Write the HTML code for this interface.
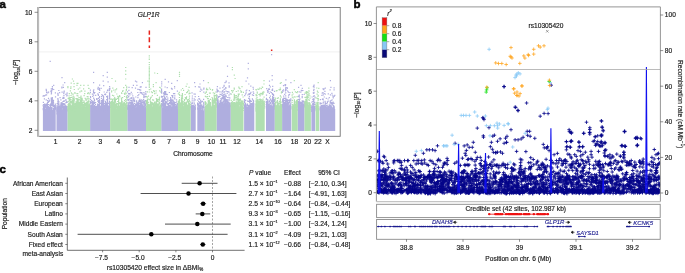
<!DOCTYPE html>
<html><head><meta charset="utf-8"><style>html,body{margin:0;padding:0;background:#fff;width:685px;height:273px;overflow:hidden}svg{display:block;will-change:transform}</style></head>
<body><svg width="685" height="273" viewBox="0 0 685 273">
<rect width="685" height="273" fill="#fff"/>
<g fill="#1a1a1a"><path fill="#afaedf" d="M42.9 131.0L42.9 107.8L43.5 106.7L44.1 107.8L44.7 107.9L45.3 108.8L45.9 107.8L46.6 105.8L47.2 106.8L47.8 105.9L48.4 107.1L49.0 106.9L49.6 107.2L50.2 109.9L50.8 106.2L51.4 106.7L52.0 106.7L52.7 109.9L53.3 110.0L53.9 108.7L54.5 108.1L55.1 107.0L55.7 107.5L55.7 131.0ZM56.5 131.0L56.5 106.1L57.1 109.0L57.7 107.1L58.4 105.1L59.0 105.3L59.6 106.2L60.2 103.6L60.8 107.2L61.4 107.5L62.0 110.1L62.7 106.7L63.3 105.9L63.9 107.8L64.5 107.6L65.1 106.4L65.8 106.5L66.4 107.8L67.0 108.1L67.6 107.8L67.6 131.0ZM90.1 131.0L90.1 106.2L90.7 105.3L91.3 105.1L91.9 103.8L92.5 105.1L93.1 106.7L93.7 106.2L94.3 105.2L94.9 106.8L95.6 106.7L96.2 105.5L96.8 106.3L97.4 103.2L98.0 106.4L98.6 105.2L99.2 107.3L99.8 105.9L100.4 105.4L101.0 106.4L101.6 105.5L102.2 106.0L102.8 104.2L103.4 107.3L104.0 105.6L104.6 104.3L105.3 106.2L105.9 104.9L106.5 105.5L107.1 104.6L107.7 100.8L108.3 106.3L108.9 105.4L109.5 106.3L110.1 106.7L110.1 131.0ZM127.3 131.0L127.3 104.3L127.9 108.2L128.5 104.9L129.1 106.7L129.7 106.3L130.3 104.5L130.9 104.8L131.5 105.6L132.1 102.1L132.7 104.6L133.3 106.1L133.9 104.9L134.5 105.4L135.1 108.4L135.7 107.5L136.3 107.2L137.0 102.3L137.6 105.5L138.2 105.6L138.8 106.0L139.4 103.8L140.0 105.2L140.6 102.8L141.2 104.1L141.8 102.9L142.4 105.4L143.0 104.7L143.6 105.8L144.2 105.5L144.8 107.7L145.4 106.1L146.0 106.6L146.0 131.0ZM161.2 131.0L161.2 103.6L161.8 104.0L162.4 105.5L163.0 108.1L163.6 105.0L164.2 106.5L164.8 105.7L165.4 108.7L166.0 106.4L166.6 105.6L167.2 107.3L167.8 105.5L168.4 103.6L169.0 105.6L169.6 106.9L170.2 102.5L170.8 109.1L171.4 107.3L172.0 105.4L172.6 106.8L173.2 109.3L173.8 105.6L174.4 104.8L175.0 107.1L175.6 103.9L176.2 105.2L176.8 104.3L177.4 108.2L178.0 106.0L178.0 131.0ZM190.7 131.0L190.7 106.1L191.3 105.2L191.9 106.9L192.6 107.3L193.2 107.1L193.8 107.3L194.4 108.8L195.1 106.4L195.7 106.9L195.7 131.0ZM197.3 131.0L197.3 108.0L197.9 107.4L198.6 107.4L199.2 104.3L199.8 107.7L200.4 107.6L201.1 110.0L201.7 107.6L202.3 109.7L202.9 108.0L203.6 110.9L204.2 108.6L204.8 105.1L204.8 131.0ZM216.6 131.0L216.6 104.1L217.2 103.0L217.8 105.8L218.5 105.3L219.1 102.9L219.7 102.9L220.3 102.4L220.9 105.6L221.5 102.0L222.2 102.3L222.8 103.3L223.4 105.2L224.0 102.5L224.6 102.0L225.2 104.1L225.9 103.0L226.5 103.0L227.1 102.5L227.7 102.7L228.3 102.7L228.9 105.5L229.6 104.3L230.2 105.9L230.8 102.2L230.8 131.0ZM244.1 131.0L244.1 105.3L244.7 106.1L245.3 104.1L245.9 104.1L246.5 106.7L247.1 106.3L247.7 106.4L248.3 108.8L248.9 104.3L249.5 105.5L250.1 103.5L250.7 106.0L251.3 105.1L251.9 104.2L252.5 103.8L253.1 104.8L253.7 106.7L254.3 102.0L254.3 131.0ZM266.0 131.0L266.0 103.7L266.6 104.4L267.3 105.0L267.9 105.9L268.5 102.5L269.1 107.4L269.8 105.8L270.4 104.4L271.0 104.6L271.7 104.4L272.3 107.2L272.9 104.1L273.5 103.5L274.2 106.0L274.8 103.7L274.8 131.0ZM282.1 131.0L282.1 105.4L282.7 103.2L283.3 105.3L283.9 103.9L284.6 106.1L285.2 102.4L285.8 103.8L286.4 102.9L287.0 104.9L287.6 102.6L288.2 104.4L288.8 105.2L289.5 105.4L290.1 104.4L290.7 105.8L291.3 106.3L291.3 131.0ZM297.7 131.0L297.7 100.4L298.3 104.6L298.9 107.2L299.6 104.4L300.2 104.8L300.8 107.0L301.4 106.0L302.0 105.8L302.6 106.0L303.3 106.9L303.9 103.2L304.5 105.8L304.5 131.0ZM311.4 131.0L311.4 105.6L312.0 107.0L312.6 104.9L313.2 104.2L313.9 106.2L314.5 107.4L315.1 106.4L315.1 131.0ZM319.7 131.0L319.7 109.3L320.3 106.9L320.9 106.7L321.6 106.2L322.2 108.5L322.8 107.1L323.4 108.4L324.0 108.5L324.7 107.2L325.3 106.8L325.9 109.3L326.5 108.6L327.1 106.5L327.8 107.2L328.4 106.5L329.0 107.9L329.6 108.6L330.2 106.3L330.9 106.5L331.5 111.6L332.1 106.2L332.7 108.6L333.3 106.4L334.0 105.1L334.6 107.9L335.2 108.9L335.2 131.0Z"/>
<path fill="#afaedf" d="M42.7 109.0h1.2v1.2h-1.2zM42.7 108.0h1.2v1.2h-1.2zM42.9 107.0h1.2v1.2h-1.2zM42.8 105.9h1.2v1.2h-1.2zM42.6 104.9h1.2v1.2h-1.2zM42.9 103.9h1.2v1.2h-1.2zM42.8 101.8h1.2v1.2h-1.2zM43.8 110.7h1.2v1.2h-1.2zM43.7 109.7h1.2v1.2h-1.2zM43.8 108.7h1.2v1.2h-1.2zM43.8 107.6h1.2v1.2h-1.2zM44.0 106.6h1.2v1.2h-1.2zM43.9 105.6h1.2v1.2h-1.2zM43.9 104.5h1.2v1.2h-1.2zM44.0 103.5h1.2v1.2h-1.2zM43.8 98.3h1.2v1.2h-1.2zM43.9 95.2h1.2v1.2h-1.2zM45.0 109.0h1.2v1.2h-1.2zM44.7 106.9h1.2v1.2h-1.2zM44.7 105.9h1.2v1.2h-1.2zM44.8 104.9h1.2v1.2h-1.2zM44.6 103.8h1.2v1.2h-1.2zM45.0 94.6h1.2v1.2h-1.2zM45.6 110.7h1.2v1.2h-1.2zM45.7 109.7h1.2v1.2h-1.2zM45.7 108.6h1.2v1.2h-1.2zM45.9 107.6h1.2v1.2h-1.2zM45.7 105.5h1.2v1.2h-1.2zM45.7 104.5h1.2v1.2h-1.2zM45.9 103.5h1.2v1.2h-1.2zM45.6 99.3h1.2v1.2h-1.2zM46.0 94.2h1.2v1.2h-1.2zM45.8 90.0h1.2v1.2h-1.2zM46.9 110.4h1.2v1.2h-1.2zM46.7 109.4h1.2v1.2h-1.2zM47.0 108.3h1.2v1.2h-1.2zM46.9 107.3h1.2v1.2h-1.2zM46.9 106.3h1.2v1.2h-1.2zM46.8 105.2h1.2v1.2h-1.2zM46.6 104.2h1.2v1.2h-1.2zM46.7 103.2h1.2v1.2h-1.2zM46.9 102.1h1.2v1.2h-1.2zM47.0 100.1h1.2v1.2h-1.2zM47.9 109.1h1.2v1.2h-1.2zM47.8 108.1h1.2v1.2h-1.2zM47.9 107.1h1.2v1.2h-1.2zM47.9 106.0h1.2v1.2h-1.2zM47.8 104.0h1.2v1.2h-1.2zM47.7 101.9h1.2v1.2h-1.2zM47.7 100.9h1.2v1.2h-1.2zM47.9 97.8h1.2v1.2h-1.2zM48.0 91.6h1.2v1.2h-1.2zM48.7 109.8h1.2v1.2h-1.2zM48.7 108.8h1.2v1.2h-1.2zM48.7 107.7h1.2v1.2h-1.2zM48.8 106.7h1.2v1.2h-1.2zM49.0 104.6h1.2v1.2h-1.2zM48.8 100.5h1.2v1.2h-1.2zM48.6 99.5h1.2v1.2h-1.2zM49.9 108.6h1.2v1.2h-1.2zM49.8 107.5h1.2v1.2h-1.2zM49.8 106.5h1.2v1.2h-1.2zM49.9 105.5h1.2v1.2h-1.2zM49.8 104.4h1.2v1.2h-1.2zM50.0 103.4h1.2v1.2h-1.2zM51.0 107.9h1.2v1.2h-1.2zM50.8 106.9h1.2v1.2h-1.2zM50.7 104.8h1.2v1.2h-1.2zM50.8 103.8h1.2v1.2h-1.2zM50.7 102.7h1.2v1.2h-1.2zM50.9 101.7h1.2v1.2h-1.2zM50.8 100.7h1.2v1.2h-1.2zM50.6 99.6h1.2v1.2h-1.2zM50.8 98.6h1.2v1.2h-1.2zM50.6 97.6h1.2v1.2h-1.2zM50.7 93.4h1.2v1.2h-1.2zM50.9 92.4h1.2v1.2h-1.2zM50.7 91.4h1.2v1.2h-1.2zM51.0 90.3h1.2v1.2h-1.2zM50.7 88.3h1.2v1.2h-1.2zM51.6 107.4h1.2v1.2h-1.2zM51.9 105.3h1.2v1.2h-1.2zM51.9 104.3h1.2v1.2h-1.2zM51.9 103.3h1.2v1.2h-1.2zM51.7 102.2h1.2v1.2h-1.2zM52.0 101.2h1.2v1.2h-1.2zM51.7 100.2h1.2v1.2h-1.2zM51.7 99.1h1.2v1.2h-1.2zM51.7 98.1h1.2v1.2h-1.2zM51.7 97.1h1.2v1.2h-1.2zM51.7 88.8h1.2v1.2h-1.2zM51.9 87.8h1.2v1.2h-1.2zM52.8 109.1h1.2v1.2h-1.2zM52.9 108.1h1.2v1.2h-1.2zM52.9 106.0h1.2v1.2h-1.2zM52.9 105.0h1.2v1.2h-1.2zM52.7 104.0h1.2v1.2h-1.2zM52.7 102.9h1.2v1.2h-1.2zM52.9 101.9h1.2v1.2h-1.2zM52.7 100.9h1.2v1.2h-1.2zM52.9 99.8h1.2v1.2h-1.2zM53.8 111.2h1.2v1.2h-1.2zM53.8 110.2h1.2v1.2h-1.2zM53.8 109.1h1.2v1.2h-1.2zM53.7 108.1h1.2v1.2h-1.2zM53.8 107.1h1.2v1.2h-1.2zM53.6 106.0h1.2v1.2h-1.2zM53.7 105.0h1.2v1.2h-1.2zM54.9 108.6h1.2v1.2h-1.2zM54.8 107.6h1.2v1.2h-1.2zM54.9 106.6h1.2v1.2h-1.2zM54.7 105.5h1.2v1.2h-1.2zM54.7 104.5h1.2v1.2h-1.2zM54.6 103.5h1.2v1.2h-1.2zM54.9 96.2h1.2v1.2h-1.2zM54.8 92.3h1.2v1.2h-1.2zM47.2 92.4h1.2v1.2h-1.2zM51.1 88.3h1.2v1.2h-1.2zM50.2 90.5h1.2v1.2h-1.2zM43.3 95.0h1.2v1.2h-1.2zM45.6 88.8h1.2v1.2h-1.2zM46.2 91.4h1.2v1.2h-1.2zM42.5 95.5h1.2v1.2h-1.2zM45.7 90.0h1.2v1.2h-1.2zM51.2 90.0h1.2v1.2h-1.2zM46.0 92.0h1.2v1.2h-1.2zM56.4 113.4h1.2v1.2h-1.2zM56.5 112.4h1.2v1.2h-1.2zM56.6 111.3h1.2v1.2h-1.2zM56.2 110.3h1.2v1.2h-1.2zM56.4 109.3h1.2v1.2h-1.2zM56.3 108.2h1.2v1.2h-1.2zM56.3 107.2h1.2v1.2h-1.2zM56.5 106.2h1.2v1.2h-1.2zM56.5 105.1h1.2v1.2h-1.2zM56.6 103.1h1.2v1.2h-1.2zM57.3 110.3h1.2v1.2h-1.2zM57.3 109.3h1.2v1.2h-1.2zM57.6 108.3h1.2v1.2h-1.2zM57.5 107.2h1.2v1.2h-1.2zM57.6 106.2h1.2v1.2h-1.2zM57.5 104.1h1.2v1.2h-1.2zM57.5 103.1h1.2v1.2h-1.2zM57.5 102.1h1.2v1.2h-1.2zM57.3 101.0h1.2v1.2h-1.2zM57.6 100.0h1.2v1.2h-1.2zM57.4 99.0h1.2v1.2h-1.2zM57.3 97.9h1.2v1.2h-1.2zM57.5 94.8h1.2v1.2h-1.2zM57.4 93.8h1.2v1.2h-1.2zM57.3 92.8h1.2v1.2h-1.2zM58.3 110.6h1.2v1.2h-1.2zM58.3 109.5h1.2v1.2h-1.2zM58.4 108.5h1.2v1.2h-1.2zM58.5 107.5h1.2v1.2h-1.2zM58.4 106.4h1.2v1.2h-1.2zM58.3 104.4h1.2v1.2h-1.2zM58.3 103.3h1.2v1.2h-1.2zM58.4 101.3h1.2v1.2h-1.2zM58.2 89.9h1.2v1.2h-1.2zM59.6 109.5h1.2v1.2h-1.2zM59.5 108.5h1.2v1.2h-1.2zM59.2 106.4h1.2v1.2h-1.2zM59.4 105.4h1.2v1.2h-1.2zM59.5 97.1h1.2v1.2h-1.2zM60.3 110.6h1.2v1.2h-1.2zM60.6 109.6h1.2v1.2h-1.2zM60.6 108.5h1.2v1.2h-1.2zM60.3 107.5h1.2v1.2h-1.2zM60.6 106.5h1.2v1.2h-1.2zM60.3 105.4h1.2v1.2h-1.2zM60.4 104.4h1.2v1.2h-1.2zM60.4 103.4h1.2v1.2h-1.2zM60.5 102.3h1.2v1.2h-1.2zM60.3 99.2h1.2v1.2h-1.2zM61.3 108.1h1.2v1.2h-1.2zM61.4 107.0h1.2v1.2h-1.2zM61.6 106.0h1.2v1.2h-1.2zM61.4 105.0h1.2v1.2h-1.2zM61.6 103.9h1.2v1.2h-1.2zM61.2 102.9h1.2v1.2h-1.2zM61.4 101.9h1.2v1.2h-1.2zM61.5 91.6h1.2v1.2h-1.2zM61.3 86.4h1.2v1.2h-1.2zM62.5 107.1h1.2v1.2h-1.2zM62.4 106.0h1.2v1.2h-1.2zM62.4 105.0h1.2v1.2h-1.2zM62.6 104.0h1.2v1.2h-1.2zM62.3 102.9h1.2v1.2h-1.2zM62.4 100.9h1.2v1.2h-1.2zM62.2 97.8h1.2v1.2h-1.2zM62.6 96.7h1.2v1.2h-1.2zM62.5 84.4h1.2v1.2h-1.2zM63.3 107.1h1.2v1.2h-1.2zM63.6 106.1h1.2v1.2h-1.2zM63.3 104.0h1.2v1.2h-1.2zM63.4 103.0h1.2v1.2h-1.2zM63.5 100.9h1.2v1.2h-1.2zM63.5 99.9h1.2v1.2h-1.2zM63.3 97.8h1.2v1.2h-1.2zM63.3 96.8h1.2v1.2h-1.2zM63.3 94.7h1.2v1.2h-1.2zM63.2 92.7h1.2v1.2h-1.2zM63.4 91.6h1.2v1.2h-1.2zM63.6 90.6h1.2v1.2h-1.2zM64.5 109.6h1.2v1.2h-1.2zM64.5 108.6h1.2v1.2h-1.2zM64.5 107.6h1.2v1.2h-1.2zM64.4 106.5h1.2v1.2h-1.2zM64.5 105.5h1.2v1.2h-1.2zM64.3 104.5h1.2v1.2h-1.2zM64.3 103.4h1.2v1.2h-1.2zM65.6 107.2h1.2v1.2h-1.2zM65.5 106.2h1.2v1.2h-1.2zM65.3 105.2h1.2v1.2h-1.2zM65.4 102.1h1.2v1.2h-1.2zM65.3 100.0h1.2v1.2h-1.2zM65.3 99.0h1.2v1.2h-1.2zM65.3 93.8h1.2v1.2h-1.2zM66.4 110.2h1.2v1.2h-1.2zM66.3 109.2h1.2v1.2h-1.2zM66.4 107.1h1.2v1.2h-1.2zM66.4 106.1h1.2v1.2h-1.2zM66.5 101.9h1.2v1.2h-1.2zM66.2 100.9h1.2v1.2h-1.2zM66.4 92.6h1.2v1.2h-1.2zM59.0 92.0h1.2v1.2h-1.2zM66.2 95.2h1.2v1.2h-1.2zM61.3 87.3h1.2v1.2h-1.2zM66.6 94.6h1.2v1.2h-1.2zM66.7 92.4h1.2v1.2h-1.2zM62.8 86.8h1.2v1.2h-1.2zM89.9 105.3h1.2v1.2h-1.2zM90.1 103.2h1.2v1.2h-1.2zM89.9 102.2h1.2v1.2h-1.2zM90.1 101.1h1.2v1.2h-1.2zM90.0 99.1h1.2v1.2h-1.2zM90.0 97.0h1.2v1.2h-1.2zM89.9 96.0h1.2v1.2h-1.2zM89.8 91.8h1.2v1.2h-1.2zM90.9 110.3h1.2v1.2h-1.2zM91.1 109.3h1.2v1.2h-1.2zM90.8 108.2h1.2v1.2h-1.2zM91.1 106.2h1.2v1.2h-1.2zM90.9 105.1h1.2v1.2h-1.2zM90.9 102.0h1.2v1.2h-1.2zM91.0 100.0h1.2v1.2h-1.2zM92.0 107.0h1.2v1.2h-1.2zM92.2 106.0h1.2v1.2h-1.2zM91.9 105.0h1.2v1.2h-1.2zM91.9 103.9h1.2v1.2h-1.2zM91.8 102.9h1.2v1.2h-1.2zM92.1 101.9h1.2v1.2h-1.2zM91.8 100.8h1.2v1.2h-1.2zM92.1 95.7h1.2v1.2h-1.2zM91.8 93.6h1.2v1.2h-1.2zM93.0 106.9h1.2v1.2h-1.2zM93.0 105.9h1.2v1.2h-1.2zM93.2 104.8h1.2v1.2h-1.2zM92.9 103.8h1.2v1.2h-1.2zM92.9 102.8h1.2v1.2h-1.2zM93.2 101.7h1.2v1.2h-1.2zM93.2 100.7h1.2v1.2h-1.2zM93.0 97.6h1.2v1.2h-1.2zM93.0 94.5h1.2v1.2h-1.2zM93.0 92.4h1.2v1.2h-1.2zM93.0 91.4h1.2v1.2h-1.2zM92.8 90.4h1.2v1.2h-1.2zM93.2 89.3h1.2v1.2h-1.2zM94.1 105.9h1.2v1.2h-1.2zM94.0 104.9h1.2v1.2h-1.2zM93.9 102.8h1.2v1.2h-1.2zM94.0 101.8h1.2v1.2h-1.2zM93.9 99.7h1.2v1.2h-1.2zM93.8 98.7h1.2v1.2h-1.2zM95.0 110.2h1.2v1.2h-1.2zM95.0 109.2h1.2v1.2h-1.2zM94.9 108.2h1.2v1.2h-1.2zM94.9 107.1h1.2v1.2h-1.2zM95.0 106.1h1.2v1.2h-1.2zM94.9 104.1h1.2v1.2h-1.2zM95.0 102.0h1.2v1.2h-1.2zM95.1 94.8h1.2v1.2h-1.2zM95.9 109.2h1.2v1.2h-1.2zM96.0 108.2h1.2v1.2h-1.2zM96.1 107.2h1.2v1.2h-1.2zM96.1 106.1h1.2v1.2h-1.2zM96.1 98.9h1.2v1.2h-1.2zM96.1 97.9h1.2v1.2h-1.2zM97.1 109.8h1.2v1.2h-1.2zM97.0 108.7h1.2v1.2h-1.2zM96.9 107.7h1.2v1.2h-1.2zM96.9 106.7h1.2v1.2h-1.2zM97.0 105.6h1.2v1.2h-1.2zM97.2 104.6h1.2v1.2h-1.2zM97.1 103.6h1.2v1.2h-1.2zM97.0 100.5h1.2v1.2h-1.2zM96.8 98.4h1.2v1.2h-1.2zM98.0 107.1h1.2v1.2h-1.2zM97.9 106.1h1.2v1.2h-1.2zM98.0 105.1h1.2v1.2h-1.2zM98.2 104.0h1.2v1.2h-1.2zM98.0 102.0h1.2v1.2h-1.2zM98.2 100.9h1.2v1.2h-1.2zM98.0 99.9h1.2v1.2h-1.2zM97.9 97.8h1.2v1.2h-1.2zM97.8 94.7h1.2v1.2h-1.2zM97.9 88.5h1.2v1.2h-1.2zM98.8 109.4h1.2v1.2h-1.2zM99.1 108.4h1.2v1.2h-1.2zM99.1 107.3h1.2v1.2h-1.2zM98.9 106.3h1.2v1.2h-1.2zM99.0 105.3h1.2v1.2h-1.2zM98.9 104.2h1.2v1.2h-1.2zM99.0 103.2h1.2v1.2h-1.2zM99.1 102.2h1.2v1.2h-1.2zM99.2 101.2h1.2v1.2h-1.2zM99.0 100.1h1.2v1.2h-1.2zM98.9 99.1h1.2v1.2h-1.2zM98.8 97.0h1.2v1.2h-1.2zM99.0 96.0h1.2v1.2h-1.2zM98.8 91.9h1.2v1.2h-1.2zM99.1 89.8h1.2v1.2h-1.2zM98.9 88.8h1.2v1.2h-1.2zM98.8 87.7h1.2v1.2h-1.2zM99.0 84.6h1.2v1.2h-1.2zM100.2 109.1h1.2v1.2h-1.2zM100.2 108.1h1.2v1.2h-1.2zM100.0 107.1h1.2v1.2h-1.2zM99.8 106.0h1.2v1.2h-1.2zM100.2 102.9h1.2v1.2h-1.2zM101.0 107.1h1.2v1.2h-1.2zM101.0 106.1h1.2v1.2h-1.2zM100.8 105.0h1.2v1.2h-1.2zM100.9 104.0h1.2v1.2h-1.2zM100.9 103.0h1.2v1.2h-1.2zM100.9 101.9h1.2v1.2h-1.2zM101.1 100.9h1.2v1.2h-1.2zM100.9 99.9h1.2v1.2h-1.2zM100.9 97.8h1.2v1.2h-1.2zM101.0 95.8h1.2v1.2h-1.2zM102.2 108.5h1.2v1.2h-1.2zM101.9 107.5h1.2v1.2h-1.2zM102.0 106.5h1.2v1.2h-1.2zM102.1 105.4h1.2v1.2h-1.2zM102.0 104.4h1.2v1.2h-1.2zM101.9 103.4h1.2v1.2h-1.2zM102.0 102.3h1.2v1.2h-1.2zM102.0 101.3h1.2v1.2h-1.2zM102.0 100.3h1.2v1.2h-1.2zM101.9 99.2h1.2v1.2h-1.2zM102.0 95.1h1.2v1.2h-1.2zM102.9 107.8h1.2v1.2h-1.2zM103.1 106.8h1.2v1.2h-1.2zM102.9 105.8h1.2v1.2h-1.2zM103.1 104.7h1.2v1.2h-1.2zM102.9 103.7h1.2v1.2h-1.2zM102.9 102.7h1.2v1.2h-1.2zM102.9 101.6h1.2v1.2h-1.2zM103.2 100.6h1.2v1.2h-1.2zM103.1 99.6h1.2v1.2h-1.2zM102.8 98.5h1.2v1.2h-1.2zM102.9 97.5h1.2v1.2h-1.2zM103.0 96.5h1.2v1.2h-1.2zM102.9 95.4h1.2v1.2h-1.2zM103.1 85.1h1.2v1.2h-1.2zM104.0 111.3h1.2v1.2h-1.2zM103.9 110.3h1.2v1.2h-1.2zM104.1 109.3h1.2v1.2h-1.2zM104.2 108.2h1.2v1.2h-1.2zM104.1 106.2h1.2v1.2h-1.2zM104.1 105.1h1.2v1.2h-1.2zM103.8 103.1h1.2v1.2h-1.2zM104.1 93.8h1.2v1.2h-1.2zM105.0 106.9h1.2v1.2h-1.2zM104.8 105.9h1.2v1.2h-1.2zM105.0 104.8h1.2v1.2h-1.2zM104.9 103.8h1.2v1.2h-1.2zM105.1 102.8h1.2v1.2h-1.2zM104.9 101.7h1.2v1.2h-1.2zM105.0 100.7h1.2v1.2h-1.2zM105.9 109.4h1.2v1.2h-1.2zM105.8 108.4h1.2v1.2h-1.2zM105.9 107.3h1.2v1.2h-1.2zM105.8 105.3h1.2v1.2h-1.2zM106.0 104.2h1.2v1.2h-1.2zM105.9 103.2h1.2v1.2h-1.2zM105.8 102.2h1.2v1.2h-1.2zM106.1 99.1h1.2v1.2h-1.2zM106.0 96.0h1.2v1.2h-1.2zM106.2 91.8h1.2v1.2h-1.2zM106.9 105.8h1.2v1.2h-1.2zM107.1 104.8h1.2v1.2h-1.2zM107.1 102.7h1.2v1.2h-1.2zM107.1 101.7h1.2v1.2h-1.2zM106.9 100.6h1.2v1.2h-1.2zM106.9 99.6h1.2v1.2h-1.2zM107.0 98.6h1.2v1.2h-1.2zM107.1 97.5h1.2v1.2h-1.2zM106.8 96.5h1.2v1.2h-1.2zM107.1 95.5h1.2v1.2h-1.2zM108.0 107.9h1.2v1.2h-1.2zM108.1 106.8h1.2v1.2h-1.2zM108.1 105.8h1.2v1.2h-1.2zM107.9 102.7h1.2v1.2h-1.2zM109.1 105.7h1.2v1.2h-1.2zM109.1 104.6h1.2v1.2h-1.2zM108.9 103.6h1.2v1.2h-1.2zM109.2 102.6h1.2v1.2h-1.2zM109.1 101.5h1.2v1.2h-1.2zM108.9 100.5h1.2v1.2h-1.2zM108.9 98.4h1.2v1.2h-1.2zM109.0 97.4h1.2v1.2h-1.2zM109.1 96.4h1.2v1.2h-1.2zM109.0 95.3h1.2v1.2h-1.2zM109.0 94.3h1.2v1.2h-1.2zM109.0 93.3h1.2v1.2h-1.2zM108.9 92.2h1.2v1.2h-1.2zM109.1 89.1h1.2v1.2h-1.2zM108.8 88.1h1.2v1.2h-1.2zM109.0 86.0h1.2v1.2h-1.2zM101.3 93.9h1.2v1.2h-1.2zM97.7 93.9h1.2v1.2h-1.2zM100.5 87.8h1.2v1.2h-1.2zM104.6 93.7h1.2v1.2h-1.2zM109.3 87.7h1.2v1.2h-1.2zM97.3 93.3h1.2v1.2h-1.2zM108.7 90.0h1.2v1.2h-1.2zM105.0 93.5h1.2v1.2h-1.2zM105.0 94.0h1.2v1.2h-1.2zM94.2 91.9h1.2v1.2h-1.2zM89.8 89.6h1.2v1.2h-1.2zM93.8 92.5h1.2v1.2h-1.2zM103.6 91.4h1.2v1.2h-1.2zM107.3 89.3h1.2v1.2h-1.2zM106.9 90.0h1.2v1.2h-1.2zM127.0 108.5h1.2v1.2h-1.2zM127.1 107.5h1.2v1.2h-1.2zM127.1 106.4h1.2v1.2h-1.2zM127.3 105.4h1.2v1.2h-1.2zM127.1 104.4h1.2v1.2h-1.2zM127.3 102.3h1.2v1.2h-1.2zM127.0 99.2h1.2v1.2h-1.2zM127.2 97.1h1.2v1.2h-1.2zM127.2 95.1h1.2v1.2h-1.2zM128.3 107.4h1.2v1.2h-1.2zM128.3 106.3h1.2v1.2h-1.2zM128.3 105.3h1.2v1.2h-1.2zM128.1 104.3h1.2v1.2h-1.2zM128.2 103.2h1.2v1.2h-1.2zM128.1 102.2h1.2v1.2h-1.2zM128.2 100.1h1.2v1.2h-1.2zM128.2 99.1h1.2v1.2h-1.2zM128.1 96.0h1.2v1.2h-1.2zM128.2 92.9h1.2v1.2h-1.2zM128.3 89.8h1.2v1.2h-1.2zM128.4 86.7h1.2v1.2h-1.2zM129.1 107.7h1.2v1.2h-1.2zM129.1 106.7h1.2v1.2h-1.2zM129.1 105.7h1.2v1.2h-1.2zM129.4 104.6h1.2v1.2h-1.2zM129.2 102.6h1.2v1.2h-1.2zM129.3 101.5h1.2v1.2h-1.2zM129.1 98.4h1.2v1.2h-1.2zM129.3 94.3h1.2v1.2h-1.2zM130.3 106.9h1.2v1.2h-1.2zM130.1 105.9h1.2v1.2h-1.2zM130.4 103.8h1.2v1.2h-1.2zM130.4 102.8h1.2v1.2h-1.2zM130.1 101.8h1.2v1.2h-1.2zM130.1 99.7h1.2v1.2h-1.2zM130.2 97.6h1.2v1.2h-1.2zM131.0 109.4h1.2v1.2h-1.2zM131.0 108.4h1.2v1.2h-1.2zM131.3 107.4h1.2v1.2h-1.2zM131.2 106.3h1.2v1.2h-1.2zM131.1 105.3h1.2v1.2h-1.2zM131.1 104.3h1.2v1.2h-1.2zM131.2 103.2h1.2v1.2h-1.2zM131.0 102.2h1.2v1.2h-1.2zM131.3 101.2h1.2v1.2h-1.2zM131.3 100.1h1.2v1.2h-1.2zM131.3 98.1h1.2v1.2h-1.2zM131.3 97.1h1.2v1.2h-1.2zM132.2 106.6h1.2v1.2h-1.2zM132.1 105.6h1.2v1.2h-1.2zM132.3 103.5h1.2v1.2h-1.2zM132.1 102.5h1.2v1.2h-1.2zM132.2 101.5h1.2v1.2h-1.2zM132.2 99.4h1.2v1.2h-1.2zM132.2 95.3h1.2v1.2h-1.2zM133.2 107.6h1.2v1.2h-1.2zM133.3 106.6h1.2v1.2h-1.2zM133.3 105.6h1.2v1.2h-1.2zM133.0 104.5h1.2v1.2h-1.2zM133.1 103.5h1.2v1.2h-1.2zM133.2 100.4h1.2v1.2h-1.2zM133.0 99.4h1.2v1.2h-1.2zM133.3 98.4h1.2v1.2h-1.2zM133.1 97.3h1.2v1.2h-1.2zM134.1 110.0h1.2v1.2h-1.2zM134.4 109.0h1.2v1.2h-1.2zM134.3 108.0h1.2v1.2h-1.2zM134.1 106.9h1.2v1.2h-1.2zM134.1 105.9h1.2v1.2h-1.2zM134.4 104.9h1.2v1.2h-1.2zM134.1 102.8h1.2v1.2h-1.2zM134.1 100.7h1.2v1.2h-1.2zM134.0 99.7h1.2v1.2h-1.2zM135.3 108.8h1.2v1.2h-1.2zM135.1 107.8h1.2v1.2h-1.2zM135.4 106.8h1.2v1.2h-1.2zM135.1 105.7h1.2v1.2h-1.2zM135.1 104.7h1.2v1.2h-1.2zM135.0 103.7h1.2v1.2h-1.2zM135.2 96.4h1.2v1.2h-1.2zM136.3 105.3h1.2v1.2h-1.2zM136.1 104.3h1.2v1.2h-1.2zM136.2 103.2h1.2v1.2h-1.2zM136.3 102.2h1.2v1.2h-1.2zM136.1 101.2h1.2v1.2h-1.2zM136.0 100.2h1.2v1.2h-1.2zM137.1 108.5h1.2v1.2h-1.2zM137.3 107.4h1.2v1.2h-1.2zM137.1 106.4h1.2v1.2h-1.2zM137.2 105.4h1.2v1.2h-1.2zM137.1 104.3h1.2v1.2h-1.2zM137.1 103.3h1.2v1.2h-1.2zM137.3 102.3h1.2v1.2h-1.2zM137.3 97.1h1.2v1.2h-1.2zM137.3 95.0h1.2v1.2h-1.2zM137.2 91.9h1.2v1.2h-1.2zM137.3 88.8h1.2v1.2h-1.2zM138.3 108.5h1.2v1.2h-1.2zM138.2 107.5h1.2v1.2h-1.2zM138.3 106.4h1.2v1.2h-1.2zM138.2 105.4h1.2v1.2h-1.2zM138.0 104.4h1.2v1.2h-1.2zM138.3 103.4h1.2v1.2h-1.2zM138.2 102.3h1.2v1.2h-1.2zM138.2 101.3h1.2v1.2h-1.2zM138.3 100.3h1.2v1.2h-1.2zM138.2 94.1h1.2v1.2h-1.2zM139.2 108.0h1.2v1.2h-1.2zM139.3 107.0h1.2v1.2h-1.2zM139.1 105.9h1.2v1.2h-1.2zM139.3 104.9h1.2v1.2h-1.2zM139.4 102.8h1.2v1.2h-1.2zM139.3 100.8h1.2v1.2h-1.2zM139.1 99.7h1.2v1.2h-1.2zM139.3 98.7h1.2v1.2h-1.2zM139.1 89.4h1.2v1.2h-1.2zM140.3 105.1h1.2v1.2h-1.2zM140.3 104.1h1.2v1.2h-1.2zM140.0 103.0h1.2v1.2h-1.2zM140.2 102.0h1.2v1.2h-1.2zM140.1 101.0h1.2v1.2h-1.2zM140.4 99.9h1.2v1.2h-1.2zM140.1 89.6h1.2v1.2h-1.2zM140.3 86.5h1.2v1.2h-1.2zM141.2 105.5h1.2v1.2h-1.2zM141.2 104.4h1.2v1.2h-1.2zM141.1 103.4h1.2v1.2h-1.2zM141.4 102.4h1.2v1.2h-1.2zM141.0 101.3h1.2v1.2h-1.2zM141.1 99.3h1.2v1.2h-1.2zM141.3 93.1h1.2v1.2h-1.2zM141.2 92.0h1.2v1.2h-1.2zM142.3 107.3h1.2v1.2h-1.2zM142.3 106.2h1.2v1.2h-1.2zM142.0 105.2h1.2v1.2h-1.2zM142.4 104.2h1.2v1.2h-1.2zM142.0 102.1h1.2v1.2h-1.2zM142.4 101.1h1.2v1.2h-1.2zM142.3 100.0h1.2v1.2h-1.2zM142.3 93.8h1.2v1.2h-1.2zM143.2 103.2h1.2v1.2h-1.2zM143.2 102.2h1.2v1.2h-1.2zM143.2 101.2h1.2v1.2h-1.2zM143.0 99.1h1.2v1.2h-1.2zM143.2 97.1h1.2v1.2h-1.2zM143.3 96.0h1.2v1.2h-1.2zM143.3 95.0h1.2v1.2h-1.2zM143.3 91.9h1.2v1.2h-1.2zM144.0 106.5h1.2v1.2h-1.2zM144.0 105.4h1.2v1.2h-1.2zM144.2 104.4h1.2v1.2h-1.2zM144.2 103.4h1.2v1.2h-1.2zM144.2 102.3h1.2v1.2h-1.2zM144.4 101.3h1.2v1.2h-1.2zM144.3 100.3h1.2v1.2h-1.2zM144.3 96.2h1.2v1.2h-1.2zM145.4 108.4h1.2v1.2h-1.2zM145.3 107.4h1.2v1.2h-1.2zM145.1 105.3h1.2v1.2h-1.2zM145.2 104.3h1.2v1.2h-1.2zM145.1 103.2h1.2v1.2h-1.2zM145.3 100.1h1.2v1.2h-1.2zM145.0 96.0h1.2v1.2h-1.2zM145.3 94.0h1.2v1.2h-1.2zM145.2 92.9h1.2v1.2h-1.2zM145.2 90.9h1.2v1.2h-1.2zM145.4 86.7h1.2v1.2h-1.2zM130.7 91.8h1.2v1.2h-1.2zM143.7 93.5h1.2v1.2h-1.2zM131.6 87.1h1.2v1.2h-1.2zM145.2 92.6h1.2v1.2h-1.2zM134.9 87.6h1.2v1.2h-1.2zM139.6 86.5h1.2v1.2h-1.2zM140.8 92.1h1.2v1.2h-1.2zM131.5 93.4h1.2v1.2h-1.2zM139.6 92.4h1.2v1.2h-1.2zM138.7 88.9h1.2v1.2h-1.2zM139.0 88.9h1.2v1.2h-1.2zM139.7 91.7h1.2v1.2h-1.2zM127.9 93.2h1.2v1.2h-1.2zM127.0 91.2h1.2v1.2h-1.2zM129.4 92.9h1.2v1.2h-1.2zM161.2 106.0h1.2v1.2h-1.2zM161.3 105.0h1.2v1.2h-1.2zM161.2 104.0h1.2v1.2h-1.2zM161.0 102.9h1.2v1.2h-1.2zM160.9 100.9h1.2v1.2h-1.2zM161.3 99.8h1.2v1.2h-1.2zM161.3 96.7h1.2v1.2h-1.2zM161.0 95.7h1.2v1.2h-1.2zM161.1 92.6h1.2v1.2h-1.2zM161.0 91.6h1.2v1.2h-1.2zM161.1 90.5h1.2v1.2h-1.2zM160.9 89.5h1.2v1.2h-1.2zM161.0 88.5h1.2v1.2h-1.2zM161.0 85.4h1.2v1.2h-1.2zM161.1 83.3h1.2v1.2h-1.2zM161.1 81.2h1.2v1.2h-1.2zM162.2 105.4h1.2v1.2h-1.2zM162.0 104.4h1.2v1.2h-1.2zM162.3 103.4h1.2v1.2h-1.2zM162.3 102.3h1.2v1.2h-1.2zM161.9 101.3h1.2v1.2h-1.2zM162.2 100.3h1.2v1.2h-1.2zM162.0 99.2h1.2v1.2h-1.2zM162.2 98.2h1.2v1.2h-1.2zM162.2 96.1h1.2v1.2h-1.2zM163.0 106.6h1.2v1.2h-1.2zM163.0 105.6h1.2v1.2h-1.2zM162.9 104.6h1.2v1.2h-1.2zM163.3 103.5h1.2v1.2h-1.2zM163.0 102.5h1.2v1.2h-1.2zM163.0 101.5h1.2v1.2h-1.2zM163.1 100.4h1.2v1.2h-1.2zM163.2 99.4h1.2v1.2h-1.2zM162.9 98.4h1.2v1.2h-1.2zM163.2 95.3h1.2v1.2h-1.2zM163.1 93.2h1.2v1.2h-1.2zM163.1 92.2h1.2v1.2h-1.2zM164.1 108.6h1.2v1.2h-1.2zM163.9 107.6h1.2v1.2h-1.2zM164.2 106.5h1.2v1.2h-1.2zM164.0 105.5h1.2v1.2h-1.2zM164.1 104.5h1.2v1.2h-1.2zM164.3 103.4h1.2v1.2h-1.2zM164.1 102.4h1.2v1.2h-1.2zM164.1 100.3h1.2v1.2h-1.2zM164.1 99.3h1.2v1.2h-1.2zM164.2 98.3h1.2v1.2h-1.2zM164.0 97.2h1.2v1.2h-1.2zM164.0 96.2h1.2v1.2h-1.2zM164.0 94.1h1.2v1.2h-1.2zM164.2 93.1h1.2v1.2h-1.2zM164.2 92.1h1.2v1.2h-1.2zM164.0 91.0h1.2v1.2h-1.2zM165.3 108.9h1.2v1.2h-1.2zM165.3 107.9h1.2v1.2h-1.2zM165.0 106.9h1.2v1.2h-1.2zM165.2 105.8h1.2v1.2h-1.2zM164.9 104.8h1.2v1.2h-1.2zM165.2 103.8h1.2v1.2h-1.2zM165.3 102.7h1.2v1.2h-1.2zM164.9 101.7h1.2v1.2h-1.2zM164.9 100.7h1.2v1.2h-1.2zM164.9 98.6h1.2v1.2h-1.2zM165.0 97.6h1.2v1.2h-1.2zM165.3 93.4h1.2v1.2h-1.2zM165.1 92.4h1.2v1.2h-1.2zM165.0 91.4h1.2v1.2h-1.2zM166.1 111.5h1.2v1.2h-1.2zM165.9 110.5h1.2v1.2h-1.2zM166.2 109.4h1.2v1.2h-1.2zM166.1 108.4h1.2v1.2h-1.2zM166.1 107.4h1.2v1.2h-1.2zM166.1 106.3h1.2v1.2h-1.2zM166.0 102.2h1.2v1.2h-1.2zM166.1 101.2h1.2v1.2h-1.2zM166.2 99.1h1.2v1.2h-1.2zM166.2 96.0h1.2v1.2h-1.2zM167.2 108.9h1.2v1.2h-1.2zM167.2 107.9h1.2v1.2h-1.2zM167.0 105.8h1.2v1.2h-1.2zM167.1 103.7h1.2v1.2h-1.2zM167.2 102.7h1.2v1.2h-1.2zM167.3 100.6h1.2v1.2h-1.2zM167.3 99.6h1.2v1.2h-1.2zM167.2 97.5h1.2v1.2h-1.2zM168.2 107.0h1.2v1.2h-1.2zM168.1 106.0h1.2v1.2h-1.2zM168.0 104.9h1.2v1.2h-1.2zM168.0 103.9h1.2v1.2h-1.2zM168.3 102.9h1.2v1.2h-1.2zM168.9 109.2h1.2v1.2h-1.2zM168.9 108.2h1.2v1.2h-1.2zM169.3 107.2h1.2v1.2h-1.2zM169.1 106.2h1.2v1.2h-1.2zM169.2 105.1h1.2v1.2h-1.2zM169.3 103.1h1.2v1.2h-1.2zM169.0 102.0h1.2v1.2h-1.2zM169.0 100.0h1.2v1.2h-1.2zM169.9 109.4h1.2v1.2h-1.2zM170.2 108.4h1.2v1.2h-1.2zM170.2 107.3h1.2v1.2h-1.2zM170.1 106.3h1.2v1.2h-1.2zM170.3 105.3h1.2v1.2h-1.2zM170.2 103.2h1.2v1.2h-1.2zM170.1 102.2h1.2v1.2h-1.2zM170.0 101.1h1.2v1.2h-1.2zM170.1 100.1h1.2v1.2h-1.2zM170.0 99.1h1.2v1.2h-1.2zM170.2 98.0h1.2v1.2h-1.2zM170.0 97.0h1.2v1.2h-1.2zM171.3 107.5h1.2v1.2h-1.2zM171.0 106.4h1.2v1.2h-1.2zM171.1 104.4h1.2v1.2h-1.2zM171.2 103.3h1.2v1.2h-1.2zM171.1 102.3h1.2v1.2h-1.2zM171.3 101.3h1.2v1.2h-1.2zM171.3 100.2h1.2v1.2h-1.2zM170.9 99.2h1.2v1.2h-1.2zM171.2 95.1h1.2v1.2h-1.2zM170.9 87.8h1.2v1.2h-1.2zM171.1 82.7h1.2v1.2h-1.2zM172.2 107.5h1.2v1.2h-1.2zM172.0 106.4h1.2v1.2h-1.2zM172.2 105.4h1.2v1.2h-1.2zM172.3 104.4h1.2v1.2h-1.2zM172.3 103.3h1.2v1.2h-1.2zM172.0 102.3h1.2v1.2h-1.2zM172.2 100.2h1.2v1.2h-1.2zM172.2 99.2h1.2v1.2h-1.2zM172.2 97.1h1.2v1.2h-1.2zM172.0 96.1h1.2v1.2h-1.2zM172.2 95.1h1.2v1.2h-1.2zM173.0 107.9h1.2v1.2h-1.2zM173.1 106.8h1.2v1.2h-1.2zM173.1 105.8h1.2v1.2h-1.2zM172.9 104.8h1.2v1.2h-1.2zM173.1 103.7h1.2v1.2h-1.2zM173.2 102.7h1.2v1.2h-1.2zM173.2 101.7h1.2v1.2h-1.2zM172.9 100.6h1.2v1.2h-1.2zM174.1 107.6h1.2v1.2h-1.2zM174.0 105.5h1.2v1.2h-1.2zM174.0 104.5h1.2v1.2h-1.2zM174.2 103.5h1.2v1.2h-1.2zM174.0 102.4h1.2v1.2h-1.2zM173.9 101.4h1.2v1.2h-1.2zM174.2 98.3h1.2v1.2h-1.2zM174.1 97.3h1.2v1.2h-1.2zM174.2 95.2h1.2v1.2h-1.2zM174.0 85.9h1.2v1.2h-1.2zM175.2 110.1h1.2v1.2h-1.2zM175.1 109.1h1.2v1.2h-1.2zM175.1 108.1h1.2v1.2h-1.2zM174.9 107.0h1.2v1.2h-1.2zM175.3 106.0h1.2v1.2h-1.2zM175.1 103.9h1.2v1.2h-1.2zM175.2 101.9h1.2v1.2h-1.2zM175.9 112.7h1.2v1.2h-1.2zM176.2 111.6h1.2v1.2h-1.2zM176.2 110.6h1.2v1.2h-1.2zM176.2 109.6h1.2v1.2h-1.2zM176.3 108.5h1.2v1.2h-1.2zM175.9 107.5h1.2v1.2h-1.2zM176.2 106.5h1.2v1.2h-1.2zM176.2 103.4h1.2v1.2h-1.2zM176.1 101.3h1.2v1.2h-1.2zM175.9 99.2h1.2v1.2h-1.2zM177.0 109.2h1.2v1.2h-1.2zM177.1 108.2h1.2v1.2h-1.2zM177.0 107.1h1.2v1.2h-1.2zM177.1 106.1h1.2v1.2h-1.2zM177.1 105.1h1.2v1.2h-1.2zM177.0 104.0h1.2v1.2h-1.2zM177.0 103.0h1.2v1.2h-1.2zM166.6 87.0h1.2v1.2h-1.2zM172.9 93.1h1.2v1.2h-1.2zM164.5 86.4h1.2v1.2h-1.2zM171.6 88.5h1.2v1.2h-1.2zM171.3 88.2h1.2v1.2h-1.2zM165.2 94.0h1.2v1.2h-1.2zM166.7 94.1h1.2v1.2h-1.2zM176.8 90.5h1.2v1.2h-1.2zM174.1 93.0h1.2v1.2h-1.2zM166.3 93.7h1.2v1.2h-1.2zM174.0 87.4h1.2v1.2h-1.2zM168.8 91.9h1.2v1.2h-1.2zM165.1 90.9h1.2v1.2h-1.2zM190.6 108.4h1.2v1.2h-1.2zM190.7 107.4h1.2v1.2h-1.2zM190.7 106.4h1.2v1.2h-1.2zM190.6 105.3h1.2v1.2h-1.2zM190.8 103.3h1.2v1.2h-1.2zM191.6 107.8h1.2v1.2h-1.2zM191.5 106.8h1.2v1.2h-1.2zM191.5 105.8h1.2v1.2h-1.2zM191.5 104.7h1.2v1.2h-1.2zM191.7 102.7h1.2v1.2h-1.2zM191.5 101.6h1.2v1.2h-1.2zM191.6 99.6h1.2v1.2h-1.2zM191.7 97.5h1.2v1.2h-1.2zM191.8 95.4h1.2v1.2h-1.2zM191.4 92.3h1.2v1.2h-1.2zM192.4 110.9h1.2v1.2h-1.2zM192.7 109.8h1.2v1.2h-1.2zM192.6 108.8h1.2v1.2h-1.2zM192.6 106.7h1.2v1.2h-1.2zM192.6 105.7h1.2v1.2h-1.2zM192.7 104.7h1.2v1.2h-1.2zM193.4 110.6h1.2v1.2h-1.2zM193.7 109.6h1.2v1.2h-1.2zM193.7 108.5h1.2v1.2h-1.2zM193.5 107.5h1.2v1.2h-1.2zM193.6 106.5h1.2v1.2h-1.2zM193.8 105.4h1.2v1.2h-1.2zM193.7 103.4h1.2v1.2h-1.2zM193.5 102.3h1.2v1.2h-1.2zM193.4 100.3h1.2v1.2h-1.2zM193.6 98.2h1.2v1.2h-1.2zM194.8 108.5h1.2v1.2h-1.2zM194.5 107.5h1.2v1.2h-1.2zM194.4 106.4h1.2v1.2h-1.2zM194.6 105.4h1.2v1.2h-1.2zM194.7 104.4h1.2v1.2h-1.2zM194.6 99.2h1.2v1.2h-1.2zM194.6 96.1h1.2v1.2h-1.2zM193.4 93.4h1.2v1.2h-1.2zM194.7 86.0h1.2v1.2h-1.2zM194.6 93.6h1.2v1.2h-1.2zM197.4 108.8h1.2v1.2h-1.2zM197.2 107.7h1.2v1.2h-1.2zM197.2 106.7h1.2v1.2h-1.2zM197.4 105.7h1.2v1.2h-1.2zM197.1 104.6h1.2v1.2h-1.2zM197.0 103.6h1.2v1.2h-1.2zM197.0 102.6h1.2v1.2h-1.2zM197.2 99.5h1.2v1.2h-1.2zM198.1 111.4h1.2v1.2h-1.2zM198.4 110.4h1.2v1.2h-1.2zM198.3 109.4h1.2v1.2h-1.2zM198.2 108.3h1.2v1.2h-1.2zM198.1 106.3h1.2v1.2h-1.2zM198.1 105.2h1.2v1.2h-1.2zM198.3 104.2h1.2v1.2h-1.2zM198.0 103.2h1.2v1.2h-1.2zM198.1 101.1h1.2v1.2h-1.2zM198.4 98.0h1.2v1.2h-1.2zM198.0 95.9h1.2v1.2h-1.2zM199.3 108.9h1.2v1.2h-1.2zM199.3 107.9h1.2v1.2h-1.2zM199.1 106.9h1.2v1.2h-1.2zM199.2 105.8h1.2v1.2h-1.2zM199.3 104.8h1.2v1.2h-1.2zM199.3 102.7h1.2v1.2h-1.2zM199.0 101.7h1.2v1.2h-1.2zM199.0 98.6h1.2v1.2h-1.2zM200.2 108.1h1.2v1.2h-1.2zM200.0 107.1h1.2v1.2h-1.2zM200.1 106.0h1.2v1.2h-1.2zM200.3 105.0h1.2v1.2h-1.2zM200.2 104.0h1.2v1.2h-1.2zM200.1 102.9h1.2v1.2h-1.2zM200.1 101.9h1.2v1.2h-1.2zM200.3 100.9h1.2v1.2h-1.2zM200.1 99.8h1.2v1.2h-1.2zM201.2 107.5h1.2v1.2h-1.2zM201.4 106.4h1.2v1.2h-1.2zM201.0 105.4h1.2v1.2h-1.2zM201.3 104.4h1.2v1.2h-1.2zM201.2 101.3h1.2v1.2h-1.2zM202.2 111.0h1.2v1.2h-1.2zM202.1 110.0h1.2v1.2h-1.2zM202.3 108.9h1.2v1.2h-1.2zM202.4 107.9h1.2v1.2h-1.2zM202.2 106.9h1.2v1.2h-1.2zM202.2 105.8h1.2v1.2h-1.2zM202.0 100.7h1.2v1.2h-1.2zM203.4 107.1h1.2v1.2h-1.2zM203.1 106.0h1.2v1.2h-1.2zM203.1 105.0h1.2v1.2h-1.2zM203.3 104.0h1.2v1.2h-1.2zM203.1 103.0h1.2v1.2h-1.2zM203.2 101.9h1.2v1.2h-1.2zM203.0 98.8h1.2v1.2h-1.2zM203.2 91.6h1.2v1.2h-1.2zM203.2 88.5h1.2v1.2h-1.2zM203.3 87.5h1.2v1.2h-1.2zM198.1 86.3h1.2v1.2h-1.2zM200.1 88.5h1.2v1.2h-1.2zM199.3 86.5h1.2v1.2h-1.2zM201.2 89.6h1.2v1.2h-1.2zM199.6 90.8h1.2v1.2h-1.2zM216.7 105.0h1.2v1.2h-1.2zM216.5 103.9h1.2v1.2h-1.2zM216.5 102.9h1.2v1.2h-1.2zM216.4 101.9h1.2v1.2h-1.2zM216.7 100.8h1.2v1.2h-1.2zM216.5 99.8h1.2v1.2h-1.2zM216.3 98.8h1.2v1.2h-1.2zM216.6 97.7h1.2v1.2h-1.2zM216.4 94.7h1.2v1.2h-1.2zM216.4 91.6h1.2v1.2h-1.2zM216.6 90.5h1.2v1.2h-1.2zM216.6 89.5h1.2v1.2h-1.2zM216.4 88.5h1.2v1.2h-1.2zM217.4 105.4h1.2v1.2h-1.2zM217.6 104.4h1.2v1.2h-1.2zM217.3 103.3h1.2v1.2h-1.2zM217.7 102.3h1.2v1.2h-1.2zM217.6 101.3h1.2v1.2h-1.2zM217.5 100.2h1.2v1.2h-1.2zM217.5 99.2h1.2v1.2h-1.2zM217.7 97.1h1.2v1.2h-1.2zM217.4 96.1h1.2v1.2h-1.2zM217.3 89.9h1.2v1.2h-1.2zM218.6 106.4h1.2v1.2h-1.2zM218.6 105.4h1.2v1.2h-1.2zM218.6 104.4h1.2v1.2h-1.2zM218.7 103.3h1.2v1.2h-1.2zM218.7 96.1h1.2v1.2h-1.2zM219.4 105.1h1.2v1.2h-1.2zM219.3 104.1h1.2v1.2h-1.2zM219.6 103.0h1.2v1.2h-1.2zM219.5 102.0h1.2v1.2h-1.2zM219.5 101.0h1.2v1.2h-1.2zM219.7 99.9h1.2v1.2h-1.2zM219.3 95.8h1.2v1.2h-1.2zM219.5 93.7h1.2v1.2h-1.2zM219.4 87.5h1.2v1.2h-1.2zM220.5 106.3h1.2v1.2h-1.2zM220.3 105.3h1.2v1.2h-1.2zM220.5 104.2h1.2v1.2h-1.2zM220.6 103.2h1.2v1.2h-1.2zM220.6 102.2h1.2v1.2h-1.2zM220.5 101.2h1.2v1.2h-1.2zM220.4 100.1h1.2v1.2h-1.2zM220.7 99.1h1.2v1.2h-1.2zM220.3 98.1h1.2v1.2h-1.2zM220.6 93.9h1.2v1.2h-1.2zM221.4 108.3h1.2v1.2h-1.2zM221.7 106.3h1.2v1.2h-1.2zM221.3 105.2h1.2v1.2h-1.2zM221.5 103.2h1.2v1.2h-1.2zM221.5 102.1h1.2v1.2h-1.2zM221.6 98.0h1.2v1.2h-1.2zM221.5 97.0h1.2v1.2h-1.2zM221.4 94.9h1.2v1.2h-1.2zM221.6 92.9h1.2v1.2h-1.2zM221.7 90.8h1.2v1.2h-1.2zM222.4 107.6h1.2v1.2h-1.2zM222.7 106.6h1.2v1.2h-1.2zM222.6 105.5h1.2v1.2h-1.2zM222.5 104.5h1.2v1.2h-1.2zM222.6 103.5h1.2v1.2h-1.2zM222.6 102.4h1.2v1.2h-1.2zM222.5 101.4h1.2v1.2h-1.2zM222.4 100.4h1.2v1.2h-1.2zM222.4 98.3h1.2v1.2h-1.2zM222.5 97.3h1.2v1.2h-1.2zM222.3 96.2h1.2v1.2h-1.2zM222.6 95.2h1.2v1.2h-1.2zM222.4 94.2h1.2v1.2h-1.2zM222.3 90.1h1.2v1.2h-1.2zM222.3 87.0h1.2v1.2h-1.2zM223.3 105.4h1.2v1.2h-1.2zM223.3 104.4h1.2v1.2h-1.2zM223.5 103.4h1.2v1.2h-1.2zM223.4 101.3h1.2v1.2h-1.2zM223.4 100.3h1.2v1.2h-1.2zM223.6 99.2h1.2v1.2h-1.2zM223.6 98.2h1.2v1.2h-1.2zM223.3 97.2h1.2v1.2h-1.2zM223.5 96.1h1.2v1.2h-1.2zM223.6 94.1h1.2v1.2h-1.2zM223.4 92.0h1.2v1.2h-1.2zM223.5 88.9h1.2v1.2h-1.2zM223.4 85.8h1.2v1.2h-1.2zM223.5 84.8h1.2v1.2h-1.2zM224.6 105.7h1.2v1.2h-1.2zM224.7 103.7h1.2v1.2h-1.2zM224.6 102.6h1.2v1.2h-1.2zM224.4 101.6h1.2v1.2h-1.2zM224.7 100.6h1.2v1.2h-1.2zM224.4 99.6h1.2v1.2h-1.2zM224.6 98.5h1.2v1.2h-1.2zM224.7 97.5h1.2v1.2h-1.2zM224.3 96.5h1.2v1.2h-1.2zM224.3 95.4h1.2v1.2h-1.2zM224.5 93.4h1.2v1.2h-1.2zM224.4 82.0h1.2v1.2h-1.2zM225.3 104.0h1.2v1.2h-1.2zM225.5 103.0h1.2v1.2h-1.2zM225.3 102.0h1.2v1.2h-1.2zM225.5 101.0h1.2v1.2h-1.2zM225.5 99.9h1.2v1.2h-1.2zM225.7 98.9h1.2v1.2h-1.2zM225.6 95.8h1.2v1.2h-1.2zM225.3 94.8h1.2v1.2h-1.2zM225.4 90.6h1.2v1.2h-1.2zM225.4 87.5h1.2v1.2h-1.2zM225.5 81.3h1.2v1.2h-1.2zM226.3 105.2h1.2v1.2h-1.2zM226.6 104.1h1.2v1.2h-1.2zM226.5 103.1h1.2v1.2h-1.2zM226.6 102.1h1.2v1.2h-1.2zM226.4 101.0h1.2v1.2h-1.2zM226.7 100.0h1.2v1.2h-1.2zM226.6 99.0h1.2v1.2h-1.2zM226.7 96.9h1.2v1.2h-1.2zM226.6 92.8h1.2v1.2h-1.2zM227.6 108.5h1.2v1.2h-1.2zM227.7 107.5h1.2v1.2h-1.2zM227.6 106.5h1.2v1.2h-1.2zM227.5 105.4h1.2v1.2h-1.2zM227.5 104.4h1.2v1.2h-1.2zM227.3 103.4h1.2v1.2h-1.2zM227.3 102.3h1.2v1.2h-1.2zM227.6 101.3h1.2v1.2h-1.2zM228.7 104.9h1.2v1.2h-1.2zM228.6 103.9h1.2v1.2h-1.2zM228.6 102.9h1.2v1.2h-1.2zM228.3 101.8h1.2v1.2h-1.2zM228.4 99.8h1.2v1.2h-1.2zM228.4 98.7h1.2v1.2h-1.2zM228.3 96.7h1.2v1.2h-1.2zM228.4 94.6h1.2v1.2h-1.2zM228.4 91.5h1.2v1.2h-1.2zM228.6 85.3h1.2v1.2h-1.2zM228.4 82.2h1.2v1.2h-1.2zM229.7 105.6h1.2v1.2h-1.2zM229.5 104.6h1.2v1.2h-1.2zM229.3 103.6h1.2v1.2h-1.2zM229.5 102.5h1.2v1.2h-1.2zM229.3 97.4h1.2v1.2h-1.2zM229.6 93.3h1.2v1.2h-1.2zM221.4 91.5h1.2v1.2h-1.2zM227.3 91.0h1.2v1.2h-1.2zM217.9 90.4h1.2v1.2h-1.2zM225.1 86.9h1.2v1.2h-1.2zM226.7 90.9h1.2v1.2h-1.2zM223.6 91.1h1.2v1.2h-1.2zM219.4 91.3h1.2v1.2h-1.2zM217.1 89.9h1.2v1.2h-1.2zM228.6 86.6h1.2v1.2h-1.2zM217.2 90.8h1.2v1.2h-1.2zM224.4 88.2h1.2v1.2h-1.2zM243.8 106.3h1.2v1.2h-1.2zM243.9 105.3h1.2v1.2h-1.2zM244.0 104.3h1.2v1.2h-1.2zM244.0 102.2h1.2v1.2h-1.2zM244.0 101.2h1.2v1.2h-1.2zM244.2 100.1h1.2v1.2h-1.2zM243.9 99.1h1.2v1.2h-1.2zM244.1 95.0h1.2v1.2h-1.2zM244.8 108.0h1.2v1.2h-1.2zM244.9 107.0h1.2v1.2h-1.2zM245.1 105.9h1.2v1.2h-1.2zM245.2 104.9h1.2v1.2h-1.2zM244.9 103.9h1.2v1.2h-1.2zM244.9 102.8h1.2v1.2h-1.2zM245.1 99.7h1.2v1.2h-1.2zM244.9 93.5h1.2v1.2h-1.2zM246.1 109.7h1.2v1.2h-1.2zM246.2 108.6h1.2v1.2h-1.2zM246.2 106.6h1.2v1.2h-1.2zM245.9 104.5h1.2v1.2h-1.2zM247.0 108.8h1.2v1.2h-1.2zM246.9 107.8h1.2v1.2h-1.2zM246.9 106.7h1.2v1.2h-1.2zM247.1 104.7h1.2v1.2h-1.2zM246.8 103.6h1.2v1.2h-1.2zM247.0 100.5h1.2v1.2h-1.2zM247.2 94.4h1.2v1.2h-1.2zM247.9 108.0h1.2v1.2h-1.2zM247.8 107.0h1.2v1.2h-1.2zM247.9 106.0h1.2v1.2h-1.2zM248.0 104.9h1.2v1.2h-1.2zM248.2 100.8h1.2v1.2h-1.2zM248.1 97.7h1.2v1.2h-1.2zM248.0 93.6h1.2v1.2h-1.2zM248.9 105.4h1.2v1.2h-1.2zM249.2 104.4h1.2v1.2h-1.2zM249.1 102.3h1.2v1.2h-1.2zM249.1 101.3h1.2v1.2h-1.2zM249.0 100.2h1.2v1.2h-1.2zM249.1 99.2h1.2v1.2h-1.2zM249.0 98.2h1.2v1.2h-1.2zM248.8 96.1h1.2v1.2h-1.2zM249.1 94.1h1.2v1.2h-1.2zM249.2 93.0h1.2v1.2h-1.2zM250.1 109.3h1.2v1.2h-1.2zM250.0 107.2h1.2v1.2h-1.2zM249.8 106.2h1.2v1.2h-1.2zM250.0 105.1h1.2v1.2h-1.2zM250.1 104.1h1.2v1.2h-1.2zM250.1 103.1h1.2v1.2h-1.2zM250.1 101.0h1.2v1.2h-1.2zM249.9 100.0h1.2v1.2h-1.2zM250.2 85.5h1.2v1.2h-1.2zM250.9 111.1h1.2v1.2h-1.2zM251.1 110.1h1.2v1.2h-1.2zM250.8 109.1h1.2v1.2h-1.2zM251.0 108.1h1.2v1.2h-1.2zM250.9 107.0h1.2v1.2h-1.2zM251.0 103.9h1.2v1.2h-1.2zM251.0 102.9h1.2v1.2h-1.2zM251.0 100.8h1.2v1.2h-1.2zM252.1 108.6h1.2v1.2h-1.2zM252.0 107.6h1.2v1.2h-1.2zM252.0 106.6h1.2v1.2h-1.2zM252.1 105.5h1.2v1.2h-1.2zM252.1 104.5h1.2v1.2h-1.2zM251.9 103.5h1.2v1.2h-1.2zM252.2 102.4h1.2v1.2h-1.2zM252.2 99.3h1.2v1.2h-1.2zM251.8 98.3h1.2v1.2h-1.2zM251.8 94.2h1.2v1.2h-1.2zM252.9 106.1h1.2v1.2h-1.2zM252.9 105.0h1.2v1.2h-1.2zM252.9 104.0h1.2v1.2h-1.2zM253.0 103.0h1.2v1.2h-1.2zM252.8 101.9h1.2v1.2h-1.2zM253.0 100.9h1.2v1.2h-1.2zM252.9 99.9h1.2v1.2h-1.2zM252.9 94.7h1.2v1.2h-1.2zM253.1 92.7h1.2v1.2h-1.2zM245.6 92.2h1.2v1.2h-1.2zM252.6 91.2h1.2v1.2h-1.2zM252.5 86.7h1.2v1.2h-1.2zM246.2 89.4h1.2v1.2h-1.2zM249.9 92.9h1.2v1.2h-1.2zM248.8 90.0h1.2v1.2h-1.2zM250.3 91.8h1.2v1.2h-1.2zM252.8 88.5h1.2v1.2h-1.2zM265.9 108.0h1.2v1.2h-1.2zM265.8 107.0h1.2v1.2h-1.2zM265.7 106.0h1.2v1.2h-1.2zM265.9 104.9h1.2v1.2h-1.2zM265.7 103.9h1.2v1.2h-1.2zM266.0 102.9h1.2v1.2h-1.2zM265.7 101.8h1.2v1.2h-1.2zM265.8 100.8h1.2v1.2h-1.2zM265.8 98.7h1.2v1.2h-1.2zM265.9 97.7h1.2v1.2h-1.2zM265.9 94.6h1.2v1.2h-1.2zM267.0 106.1h1.2v1.2h-1.2zM266.9 105.1h1.2v1.2h-1.2zM266.8 104.0h1.2v1.2h-1.2zM266.7 103.0h1.2v1.2h-1.2zM266.8 102.0h1.2v1.2h-1.2zM267.0 100.9h1.2v1.2h-1.2zM267.1 99.9h1.2v1.2h-1.2zM267.1 98.9h1.2v1.2h-1.2zM267.0 91.6h1.2v1.2h-1.2zM268.1 107.7h1.2v1.2h-1.2zM267.9 106.7h1.2v1.2h-1.2zM267.9 105.6h1.2v1.2h-1.2zM267.7 104.6h1.2v1.2h-1.2zM267.8 103.6h1.2v1.2h-1.2zM268.1 101.5h1.2v1.2h-1.2zM268.0 91.2h1.2v1.2h-1.2zM268.9 109.4h1.2v1.2h-1.2zM269.1 108.4h1.2v1.2h-1.2zM269.0 107.4h1.2v1.2h-1.2zM268.8 106.4h1.2v1.2h-1.2zM268.7 105.3h1.2v1.2h-1.2zM269.1 104.3h1.2v1.2h-1.2zM268.8 103.3h1.2v1.2h-1.2zM268.9 101.2h1.2v1.2h-1.2zM268.8 100.2h1.2v1.2h-1.2zM269.0 97.1h1.2v1.2h-1.2zM268.8 92.9h1.2v1.2h-1.2zM269.7 107.9h1.2v1.2h-1.2zM269.7 106.9h1.2v1.2h-1.2zM269.9 105.8h1.2v1.2h-1.2zM269.9 102.7h1.2v1.2h-1.2zM270.0 101.7h1.2v1.2h-1.2zM270.1 99.6h1.2v1.2h-1.2zM269.8 98.6h1.2v1.2h-1.2zM269.8 95.5h1.2v1.2h-1.2zM269.8 91.4h1.2v1.2h-1.2zM271.0 108.6h1.2v1.2h-1.2zM270.8 107.6h1.2v1.2h-1.2zM270.7 106.5h1.2v1.2h-1.2zM271.1 103.4h1.2v1.2h-1.2zM270.8 101.4h1.2v1.2h-1.2zM271.0 100.3h1.2v1.2h-1.2zM270.9 92.1h1.2v1.2h-1.2zM271.8 107.5h1.2v1.2h-1.2zM272.1 106.4h1.2v1.2h-1.2zM272.1 105.4h1.2v1.2h-1.2zM272.1 103.3h1.2v1.2h-1.2zM272.0 102.3h1.2v1.2h-1.2zM271.8 101.3h1.2v1.2h-1.2zM272.0 100.2h1.2v1.2h-1.2zM271.7 99.2h1.2v1.2h-1.2zM271.8 98.2h1.2v1.2h-1.2zM272.1 97.1h1.2v1.2h-1.2zM272.0 96.1h1.2v1.2h-1.2zM271.9 94.0h1.2v1.2h-1.2zM271.8 93.0h1.2v1.2h-1.2zM272.0 89.9h1.2v1.2h-1.2zM271.7 88.9h1.2v1.2h-1.2zM272.1 85.8h1.2v1.2h-1.2zM272.8 107.1h1.2v1.2h-1.2zM272.9 106.1h1.2v1.2h-1.2zM272.8 105.1h1.2v1.2h-1.2zM273.0 104.0h1.2v1.2h-1.2zM273.0 103.0h1.2v1.2h-1.2zM273.0 102.0h1.2v1.2h-1.2zM272.8 100.9h1.2v1.2h-1.2zM272.9 99.9h1.2v1.2h-1.2zM272.8 98.9h1.2v1.2h-1.2zM272.7 97.8h1.2v1.2h-1.2zM273.1 96.8h1.2v1.2h-1.2zM273.0 94.7h1.2v1.2h-1.2zM272.9 93.7h1.2v1.2h-1.2zM273.9 108.2h1.2v1.2h-1.2zM273.7 107.2h1.2v1.2h-1.2zM273.9 106.2h1.2v1.2h-1.2zM273.8 105.2h1.2v1.2h-1.2zM274.0 104.1h1.2v1.2h-1.2zM274.0 103.1h1.2v1.2h-1.2zM273.9 101.0h1.2v1.2h-1.2zM274.0 100.0h1.2v1.2h-1.2zM273.8 99.0h1.2v1.2h-1.2zM273.9 90.7h1.2v1.2h-1.2zM268.4 88.1h1.2v1.2h-1.2zM266.9 90.1h1.2v1.2h-1.2zM267.8 89.3h1.2v1.2h-1.2zM271.5 89.8h1.2v1.2h-1.2zM272.0 88.5h1.2v1.2h-1.2zM266.1 88.0h1.2v1.2h-1.2zM269.7 86.2h1.2v1.2h-1.2zM282.2 106.6h1.2v1.2h-1.2zM282.1 105.6h1.2v1.2h-1.2zM282.0 104.6h1.2v1.2h-1.2zM282.0 103.5h1.2v1.2h-1.2zM282.0 101.5h1.2v1.2h-1.2zM282.1 100.5h1.2v1.2h-1.2zM282.0 99.4h1.2v1.2h-1.2zM282.1 98.4h1.2v1.2h-1.2zM282.2 90.1h1.2v1.2h-1.2zM283.1 105.8h1.2v1.2h-1.2zM283.2 104.8h1.2v1.2h-1.2zM282.9 103.7h1.2v1.2h-1.2zM283.0 102.7h1.2v1.2h-1.2zM283.1 101.7h1.2v1.2h-1.2zM283.1 100.6h1.2v1.2h-1.2zM283.0 99.6h1.2v1.2h-1.2zM283.0 98.6h1.2v1.2h-1.2zM283.1 97.5h1.2v1.2h-1.2zM283.1 95.5h1.2v1.2h-1.2zM282.9 89.3h1.2v1.2h-1.2zM282.9 85.1h1.2v1.2h-1.2zM283.8 105.0h1.2v1.2h-1.2zM284.0 104.0h1.2v1.2h-1.2zM284.0 103.0h1.2v1.2h-1.2zM284.1 101.9h1.2v1.2h-1.2zM283.8 99.9h1.2v1.2h-1.2zM284.1 97.8h1.2v1.2h-1.2zM284.1 93.7h1.2v1.2h-1.2zM283.9 84.4h1.2v1.2h-1.2zM285.0 106.7h1.2v1.2h-1.2zM284.9 105.7h1.2v1.2h-1.2zM285.2 104.6h1.2v1.2h-1.2zM285.2 103.6h1.2v1.2h-1.2zM284.8 102.6h1.2v1.2h-1.2zM284.8 101.5h1.2v1.2h-1.2zM285.0 100.5h1.2v1.2h-1.2zM285.1 99.5h1.2v1.2h-1.2zM285.2 98.4h1.2v1.2h-1.2zM285.2 97.4h1.2v1.2h-1.2zM285.1 95.3h1.2v1.2h-1.2zM285.1 92.2h1.2v1.2h-1.2zM284.8 90.2h1.2v1.2h-1.2zM285.0 89.1h1.2v1.2h-1.2zM285.1 88.1h1.2v1.2h-1.2zM285.2 87.1h1.2v1.2h-1.2zM284.9 85.0h1.2v1.2h-1.2zM285.0 84.0h1.2v1.2h-1.2zM286.1 107.0h1.2v1.2h-1.2zM286.1 105.9h1.2v1.2h-1.2zM286.1 104.9h1.2v1.2h-1.2zM286.2 103.9h1.2v1.2h-1.2zM285.8 102.9h1.2v1.2h-1.2zM286.1 101.8h1.2v1.2h-1.2zM286.2 100.8h1.2v1.2h-1.2zM286.0 99.8h1.2v1.2h-1.2zM286.2 98.7h1.2v1.2h-1.2zM285.9 89.4h1.2v1.2h-1.2zM287.0 106.6h1.2v1.2h-1.2zM286.8 103.5h1.2v1.2h-1.2zM286.8 102.4h1.2v1.2h-1.2zM287.1 101.4h1.2v1.2h-1.2zM287.1 100.4h1.2v1.2h-1.2zM286.9 99.3h1.2v1.2h-1.2zM288.1 103.9h1.2v1.2h-1.2zM287.9 102.8h1.2v1.2h-1.2zM288.0 101.8h1.2v1.2h-1.2zM288.0 99.7h1.2v1.2h-1.2zM287.9 96.6h1.2v1.2h-1.2zM288.0 94.6h1.2v1.2h-1.2zM287.8 91.5h1.2v1.2h-1.2zM289.1 105.5h1.2v1.2h-1.2zM289.1 104.4h1.2v1.2h-1.2zM288.8 102.4h1.2v1.2h-1.2zM289.1 101.3h1.2v1.2h-1.2zM289.2 100.3h1.2v1.2h-1.2zM288.8 99.3h1.2v1.2h-1.2zM288.9 94.1h1.2v1.2h-1.2zM290.0 108.6h1.2v1.2h-1.2zM290.1 107.6h1.2v1.2h-1.2zM290.0 106.5h1.2v1.2h-1.2zM290.1 105.5h1.2v1.2h-1.2zM290.0 104.5h1.2v1.2h-1.2zM290.2 103.4h1.2v1.2h-1.2zM290.1 102.4h1.2v1.2h-1.2zM290.2 100.3h1.2v1.2h-1.2zM290.2 99.3h1.2v1.2h-1.2zM290.2 98.3h1.2v1.2h-1.2zM286.7 87.8h1.2v1.2h-1.2zM286.5 86.9h1.2v1.2h-1.2zM282.3 90.8h1.2v1.2h-1.2zM281.7 91.9h1.2v1.2h-1.2zM289.3 92.1h1.2v1.2h-1.2zM287.0 90.4h1.2v1.2h-1.2zM297.5 107.1h1.2v1.2h-1.2zM297.7 106.1h1.2v1.2h-1.2zM297.4 105.1h1.2v1.2h-1.2zM297.7 104.0h1.2v1.2h-1.2zM297.6 103.0h1.2v1.2h-1.2zM297.6 102.0h1.2v1.2h-1.2zM297.4 100.9h1.2v1.2h-1.2zM297.6 98.9h1.2v1.2h-1.2zM297.8 95.8h1.2v1.2h-1.2zM298.4 105.8h1.2v1.2h-1.2zM298.5 104.8h1.2v1.2h-1.2zM298.5 103.7h1.2v1.2h-1.2zM298.7 102.7h1.2v1.2h-1.2zM298.5 101.7h1.2v1.2h-1.2zM298.6 100.6h1.2v1.2h-1.2zM298.7 99.6h1.2v1.2h-1.2zM298.8 98.6h1.2v1.2h-1.2zM298.7 96.5h1.2v1.2h-1.2zM298.5 95.5h1.2v1.2h-1.2zM298.7 94.4h1.2v1.2h-1.2zM298.6 91.3h1.2v1.2h-1.2zM299.7 107.6h1.2v1.2h-1.2zM299.8 106.6h1.2v1.2h-1.2zM299.5 105.6h1.2v1.2h-1.2zM299.5 104.5h1.2v1.2h-1.2zM299.5 103.5h1.2v1.2h-1.2zM299.6 102.5h1.2v1.2h-1.2zM299.7 101.4h1.2v1.2h-1.2zM299.4 98.4h1.2v1.2h-1.2zM300.7 107.3h1.2v1.2h-1.2zM300.6 106.2h1.2v1.2h-1.2zM300.5 105.2h1.2v1.2h-1.2zM300.8 104.2h1.2v1.2h-1.2zM300.6 103.1h1.2v1.2h-1.2zM300.5 102.1h1.2v1.2h-1.2zM300.7 89.7h1.2v1.2h-1.2zM301.8 107.4h1.2v1.2h-1.2zM301.6 106.4h1.2v1.2h-1.2zM301.6 105.3h1.2v1.2h-1.2zM301.6 104.3h1.2v1.2h-1.2zM301.8 103.3h1.2v1.2h-1.2zM301.6 102.2h1.2v1.2h-1.2zM301.6 101.2h1.2v1.2h-1.2zM301.6 100.2h1.2v1.2h-1.2zM301.6 97.1h1.2v1.2h-1.2zM301.6 96.0h1.2v1.2h-1.2zM301.7 94.0h1.2v1.2h-1.2zM301.7 87.8h1.2v1.2h-1.2zM302.6 106.6h1.2v1.2h-1.2zM302.7 105.6h1.2v1.2h-1.2zM302.6 104.5h1.2v1.2h-1.2zM302.6 103.5h1.2v1.2h-1.2zM302.7 101.4h1.2v1.2h-1.2zM302.8 100.4h1.2v1.2h-1.2zM303.5 106.3h1.2v1.2h-1.2zM303.7 105.3h1.2v1.2h-1.2zM303.6 104.3h1.2v1.2h-1.2zM303.7 103.2h1.2v1.2h-1.2zM303.6 102.2h1.2v1.2h-1.2zM303.4 101.2h1.2v1.2h-1.2zM303.6 93.9h1.2v1.2h-1.2zM301.2 90.0h1.2v1.2h-1.2zM302.3 89.9h1.2v1.2h-1.2zM300.2 91.6h1.2v1.2h-1.2zM298.0 86.7h1.2v1.2h-1.2zM311.2 110.9h1.2v1.2h-1.2zM311.2 109.9h1.2v1.2h-1.2zM311.2 108.8h1.2v1.2h-1.2zM311.3 107.8h1.2v1.2h-1.2zM311.1 106.8h1.2v1.2h-1.2zM311.3 105.7h1.2v1.2h-1.2zM311.3 104.7h1.2v1.2h-1.2zM311.3 101.6h1.2v1.2h-1.2zM311.5 96.4h1.2v1.2h-1.2zM312.1 109.1h1.2v1.2h-1.2zM312.3 108.1h1.2v1.2h-1.2zM312.1 107.0h1.2v1.2h-1.2zM312.5 106.0h1.2v1.2h-1.2zM312.1 103.9h1.2v1.2h-1.2zM312.2 102.9h1.2v1.2h-1.2zM312.3 100.8h1.2v1.2h-1.2zM312.2 98.8h1.2v1.2h-1.2zM313.3 109.3h1.2v1.2h-1.2zM313.3 107.3h1.2v1.2h-1.2zM313.2 106.2h1.2v1.2h-1.2zM313.3 105.2h1.2v1.2h-1.2zM313.2 104.2h1.2v1.2h-1.2zM313.3 103.1h1.2v1.2h-1.2zM313.4 102.1h1.2v1.2h-1.2zM313.2 101.1h1.2v1.2h-1.2zM313.1 100.1h1.2v1.2h-1.2zM313.4 99.0h1.2v1.2h-1.2zM313.3 98.0h1.2v1.2h-1.2zM313.1 95.9h1.2v1.2h-1.2zM313.5 94.9h1.2v1.2h-1.2zM313.2 92.8h1.2v1.2h-1.2zM313.4 91.8h1.2v1.2h-1.2zM313.1 89.7h1.2v1.2h-1.2zM313.4 88.7h1.2v1.2h-1.2zM313.5 86.6h1.2v1.2h-1.2zM313.1 85.6h1.2v1.2h-1.2zM313.5 84.6h1.2v1.2h-1.2zM314.2 110.0h1.2v1.2h-1.2zM314.3 109.0h1.2v1.2h-1.2zM314.5 108.0h1.2v1.2h-1.2zM314.2 106.9h1.2v1.2h-1.2zM314.3 105.9h1.2v1.2h-1.2zM314.4 103.8h1.2v1.2h-1.2zM314.1 101.8h1.2v1.2h-1.2zM314.4 96.6h1.2v1.2h-1.2zM312.7 92.3h1.2v1.2h-1.2zM319.6 109.4h1.2v1.2h-1.2zM319.4 108.4h1.2v1.2h-1.2zM319.5 107.3h1.2v1.2h-1.2zM319.5 106.3h1.2v1.2h-1.2zM319.6 103.2h1.2v1.2h-1.2zM319.5 102.2h1.2v1.2h-1.2zM319.8 99.1h1.2v1.2h-1.2zM320.7 112.1h1.2v1.2h-1.2zM320.8 111.0h1.2v1.2h-1.2zM320.4 110.0h1.2v1.2h-1.2zM320.7 109.0h1.2v1.2h-1.2zM320.6 107.9h1.2v1.2h-1.2zM320.5 106.9h1.2v1.2h-1.2zM320.7 105.9h1.2v1.2h-1.2zM320.6 104.8h1.2v1.2h-1.2zM320.7 102.8h1.2v1.2h-1.2zM321.5 109.1h1.2v1.2h-1.2zM321.6 108.1h1.2v1.2h-1.2zM321.5 107.0h1.2v1.2h-1.2zM321.5 106.0h1.2v1.2h-1.2zM321.5 105.0h1.2v1.2h-1.2zM321.8 98.8h1.2v1.2h-1.2zM321.6 92.6h1.2v1.2h-1.2zM322.6 109.7h1.2v1.2h-1.2zM322.4 108.7h1.2v1.2h-1.2zM322.7 107.6h1.2v1.2h-1.2zM322.5 106.6h1.2v1.2h-1.2zM322.6 105.6h1.2v1.2h-1.2zM322.5 104.5h1.2v1.2h-1.2zM322.5 102.5h1.2v1.2h-1.2zM322.8 101.4h1.2v1.2h-1.2zM322.7 99.4h1.2v1.2h-1.2zM322.4 98.3h1.2v1.2h-1.2zM322.7 94.2h1.2v1.2h-1.2zM322.4 92.1h1.2v1.2h-1.2zM323.6 109.8h1.2v1.2h-1.2zM323.8 108.8h1.2v1.2h-1.2zM323.6 107.8h1.2v1.2h-1.2zM323.6 106.7h1.2v1.2h-1.2zM323.7 105.7h1.2v1.2h-1.2zM323.7 104.7h1.2v1.2h-1.2zM323.7 96.4h1.2v1.2h-1.2zM323.4 88.2h1.2v1.2h-1.2zM324.8 110.0h1.2v1.2h-1.2zM324.6 108.9h1.2v1.2h-1.2zM324.4 107.9h1.2v1.2h-1.2zM324.7 106.9h1.2v1.2h-1.2zM324.7 105.9h1.2v1.2h-1.2zM324.5 104.8h1.2v1.2h-1.2zM324.6 103.8h1.2v1.2h-1.2zM324.7 102.8h1.2v1.2h-1.2zM324.6 101.7h1.2v1.2h-1.2zM324.5 100.7h1.2v1.2h-1.2zM324.6 93.5h1.2v1.2h-1.2zM325.7 110.1h1.2v1.2h-1.2zM325.7 109.1h1.2v1.2h-1.2zM325.7 108.1h1.2v1.2h-1.2zM325.8 107.0h1.2v1.2h-1.2zM325.4 106.0h1.2v1.2h-1.2zM325.8 105.0h1.2v1.2h-1.2zM325.7 102.9h1.2v1.2h-1.2zM325.7 97.7h1.2v1.2h-1.2zM326.5 109.6h1.2v1.2h-1.2zM326.6 108.6h1.2v1.2h-1.2zM326.8 105.5h1.2v1.2h-1.2zM326.4 104.4h1.2v1.2h-1.2zM326.8 102.4h1.2v1.2h-1.2zM326.8 101.3h1.2v1.2h-1.2zM327.7 109.8h1.2v1.2h-1.2zM327.6 108.8h1.2v1.2h-1.2zM327.7 107.7h1.2v1.2h-1.2zM327.5 106.7h1.2v1.2h-1.2zM327.5 105.7h1.2v1.2h-1.2zM327.6 100.5h1.2v1.2h-1.2zM327.5 98.4h1.2v1.2h-1.2zM327.7 93.3h1.2v1.2h-1.2zM328.6 110.4h1.2v1.2h-1.2zM328.7 109.4h1.2v1.2h-1.2zM328.5 108.3h1.2v1.2h-1.2zM328.6 107.3h1.2v1.2h-1.2zM328.5 106.3h1.2v1.2h-1.2zM328.8 105.2h1.2v1.2h-1.2zM328.7 104.2h1.2v1.2h-1.2zM328.7 97.0h1.2v1.2h-1.2zM329.7 109.8h1.2v1.2h-1.2zM329.7 106.7h1.2v1.2h-1.2zM329.5 105.7h1.2v1.2h-1.2zM329.6 104.6h1.2v1.2h-1.2zM329.5 102.6h1.2v1.2h-1.2zM329.7 101.5h1.2v1.2h-1.2zM329.6 100.5h1.2v1.2h-1.2zM329.8 94.3h1.2v1.2h-1.2zM330.6 110.4h1.2v1.2h-1.2zM330.7 109.3h1.2v1.2h-1.2zM330.5 108.3h1.2v1.2h-1.2zM330.7 107.3h1.2v1.2h-1.2zM330.8 106.2h1.2v1.2h-1.2zM330.5 105.2h1.2v1.2h-1.2zM330.8 103.2h1.2v1.2h-1.2zM330.6 102.1h1.2v1.2h-1.2zM330.5 100.1h1.2v1.2h-1.2zM331.7 112.6h1.2v1.2h-1.2zM331.6 111.6h1.2v1.2h-1.2zM331.8 110.5h1.2v1.2h-1.2zM331.7 109.5h1.2v1.2h-1.2zM331.8 108.5h1.2v1.2h-1.2zM331.7 107.4h1.2v1.2h-1.2zM331.7 104.3h1.2v1.2h-1.2zM331.6 103.3h1.2v1.2h-1.2zM331.6 102.3h1.2v1.2h-1.2zM331.5 99.2h1.2v1.2h-1.2zM332.7 106.7h1.2v1.2h-1.2zM332.8 105.7h1.2v1.2h-1.2zM332.8 104.7h1.2v1.2h-1.2zM332.7 102.6h1.2v1.2h-1.2zM332.5 101.6h1.2v1.2h-1.2zM332.7 97.4h1.2v1.2h-1.2zM332.5 96.4h1.2v1.2h-1.2zM332.5 95.4h1.2v1.2h-1.2zM333.5 108.9h1.2v1.2h-1.2zM333.5 106.8h1.2v1.2h-1.2zM333.4 105.8h1.2v1.2h-1.2zM333.4 102.7h1.2v1.2h-1.2zM333.8 95.5h1.2v1.2h-1.2zM333.5 89.3h1.2v1.2h-1.2zM333.5 87.2h1.2v1.2h-1.2zM331.3 92.7h1.2v1.2h-1.2zM334.2 94.7h1.2v1.2h-1.2zM324.7 87.6h1.2v1.2h-1.2zM324.3 90.7h1.2v1.2h-1.2zM323.1 89.1h1.2v1.2h-1.2zM323.5 92.9h1.2v1.2h-1.2zM330.3 86.7h1.2v1.2h-1.2zM321.3 94.8h1.2v1.2h-1.2zM322.4 88.2h1.2v1.2h-1.2zM329.5 89.3h1.2v1.2h-1.2zM331.6 94.4h1.2v1.2h-1.2zM49.6 60.8h1.2v1.2h-1.2zM51.8 86.1h1.2v1.2h-1.2zM53.1 84.7h1.2v1.2h-1.2zM53.1 88.9h1.2v1.2h-1.2zM61.4 77.0h1.2v1.2h-1.2zM64.1 82.0h1.2v1.2h-1.2zM93.0 71.8h1.2v1.2h-1.2zM93.0 82.0h1.2v1.2h-1.2zM97.6 86.7h1.2v1.2h-1.2zM102.6 75.1h1.2v1.2h-1.2zM106.7 71.8h1.2v1.2h-1.2zM106.7 76.5h1.2v1.2h-1.2zM107.5 81.2h1.2v1.2h-1.2zM102.6 80.6h1.2v1.2h-1.2zM97.1 88.3h1.2v1.2h-1.2zM136.1 81.2h1.2v1.2h-1.2zM132.8 84.7h1.2v1.2h-1.2zM134.9 80.6h1.2v1.2h-1.2zM141.8 82.0h1.2v1.2h-1.2zM136.3 84.7h1.2v1.2h-1.2zM140.4 86.1h1.2v1.2h-1.2zM164.6 78.7h1.2v1.2h-1.2zM167.9 81.2h1.2v1.2h-1.2zM176.7 80.1h1.2v1.2h-1.2zM194.0 82.0h1.2v1.2h-1.2zM199.4 83.4h1.2v1.2h-1.2zM203.0 80.1h1.2v1.2h-1.2zM216.8 86.1h1.2v1.2h-1.2zM226.9 65.5h1.2v1.2h-1.2zM226.9 75.7h1.2v1.2h-1.2zM225.6 80.6h1.2v1.2h-1.2zM247.7 62.8h1.2v1.2h-1.2zM247.7 68.2h1.2v1.2h-1.2zM246.9 77.3h1.2v1.2h-1.2zM245.5 80.6h1.2v1.2h-1.2zM248.2 83.4h1.2v1.2h-1.2zM245.5 90.2h1.2v1.2h-1.2zM271.6 75.1h1.2v1.2h-1.2zM271.6 79.2h1.2v1.2h-1.2zM268.9 80.6h1.2v1.2h-1.2zM268.9 84.7h1.2v1.2h-1.2zM268.9 88.9h1.2v1.2h-1.2zM285.3 79.2h1.2v1.2h-1.2zM290.3 82.0h1.2v1.2h-1.2zM300.4 84.7h1.2v1.2h-1.2zM312.8 86.1h1.2v1.2h-1.2zM329.8 80.1h1.2v1.2h-1.2zM271.0 54.0h1.2v1.2h-1.2z"/>
<path fill="#b0dfb0" d="M67.6 131.0L67.6 105.7L68.2 103.8L68.8 103.0L69.4 105.0L70.0 103.7L70.6 103.6L71.2 107.5L71.9 104.8L72.5 104.3L73.1 106.7L73.7 104.2L74.3 105.8L74.9 104.7L75.5 105.2L76.1 102.9L76.7 104.9L77.3 105.5L77.9 107.5L78.5 106.2L79.2 102.5L79.8 104.6L80.4 103.8L81.0 103.9L81.6 107.2L82.2 105.9L82.8 105.8L83.4 103.8L84.0 106.6L84.6 106.0L85.2 106.1L85.8 106.6L86.5 105.5L87.1 105.1L87.7 106.5L88.3 106.4L88.9 105.0L89.5 102.7L90.1 104.9L90.1 131.0ZM110.1 131.0L110.1 108.2L110.7 104.0L111.3 103.1L111.9 106.6L112.6 103.1L113.2 106.4L113.8 107.7L114.4 104.2L115.0 104.2L115.6 105.5L116.2 108.8L116.9 105.3L117.5 105.7L118.1 105.8L118.7 105.6L119.3 107.8L119.9 106.0L120.5 102.7L121.2 103.0L121.8 105.7L122.4 106.2L123.0 104.7L123.6 103.7L124.2 104.2L124.8 106.9L125.5 105.0L126.1 105.0L126.7 103.2L127.3 103.5L127.3 131.0ZM146.0 131.0L146.0 109.1L146.6 105.1L147.2 105.7L147.8 106.3L148.4 105.1L149.0 106.1L149.6 104.2L150.3 104.5L150.9 107.1L151.5 104.0L152.1 107.5L152.7 104.4L153.3 102.4L153.9 103.3L154.5 106.8L155.1 102.9L155.7 102.5L156.3 104.7L156.9 104.8L157.6 102.4L158.2 104.5L158.8 107.3L159.4 105.3L160.0 105.0L160.6 104.0L161.2 102.3L161.2 131.0ZM178.0 131.0L178.0 106.4L178.6 104.2L179.2 108.4L179.8 107.4L180.4 105.4L181.0 107.5L181.6 102.3L182.2 105.6L182.8 105.2L183.4 106.6L184.0 102.7L184.7 105.2L185.3 107.0L185.9 104.1L186.5 108.5L187.1 106.8L187.7 105.5L188.3 105.8L188.9 107.4L189.5 103.6L190.1 103.8L190.7 107.3L190.7 131.0ZM204.8 131.0L204.8 105.3L205.4 106.1L206.0 104.9L206.7 105.0L207.3 105.0L207.9 103.6L208.5 104.4L209.1 104.7L209.8 107.3L210.4 103.5L211.0 104.0L211.6 106.8L212.3 104.8L212.9 103.5L213.5 104.8L214.1 105.7L214.7 104.7L215.4 105.8L216.0 104.4L216.6 106.4L216.6 131.0ZM230.8 131.0L230.8 103.1L231.4 103.6L232.0 105.6L232.6 104.6L233.2 101.5L233.8 102.5L234.4 103.6L235.0 101.8L235.6 105.1L236.2 104.0L236.8 102.4L237.5 104.2L238.1 105.4L238.7 102.9L239.3 101.4L239.9 107.4L240.5 103.5L241.1 105.6L241.7 104.2L242.3 105.8L242.9 100.0L243.5 104.7L243.5 131.0ZM255.6 131.0L255.6 104.9L256.2 101.3L256.8 102.5L257.4 102.8L258.0 104.6L258.6 104.5L259.2 106.6L259.8 103.3L260.5 104.1L261.1 103.2L261.7 104.7L262.3 103.0L262.9 105.9L263.5 106.9L264.1 103.1L264.7 102.2L264.7 131.0ZM274.8 131.0L274.8 103.2L275.4 105.0L276.0 103.9L276.6 105.4L277.2 104.6L277.8 104.6L278.5 103.8L279.1 105.9L279.7 106.1L280.3 104.0L280.9 105.2L281.5 103.7L282.1 105.2L282.1 131.0ZM291.8 131.0L291.8 104.8L292.5 103.4L293.1 108.6L293.8 103.8L294.4 105.5L295.1 102.7L295.7 105.4L296.4 105.5L297.0 103.9L297.7 108.0L297.7 131.0ZM304.5 131.0L304.5 105.8L305.1 103.1L305.8 105.3L306.4 103.6L307.1 103.2L307.7 102.4L308.3 105.3L309.0 104.1L309.6 103.9L310.3 105.1L310.9 104.4L310.9 131.0ZM315.6 131.0L315.6 103.1L316.3 105.4L317.0 106.2L317.7 107.2L318.4 107.5L319.1 103.1L319.1 131.0Z"/>
<path fill="#b0dfb0" d="M67.3 109.2h1.2v1.2h-1.2zM67.5 108.1h1.2v1.2h-1.2zM67.5 107.1h1.2v1.2h-1.2zM67.3 106.1h1.2v1.2h-1.2zM67.6 104.0h1.2v1.2h-1.2zM67.5 100.9h1.2v1.2h-1.2zM67.6 97.8h1.2v1.2h-1.2zM68.6 107.5h1.2v1.2h-1.2zM68.5 106.5h1.2v1.2h-1.2zM68.4 105.5h1.2v1.2h-1.2zM68.5 104.4h1.2v1.2h-1.2zM68.3 103.4h1.2v1.2h-1.2zM68.4 102.4h1.2v1.2h-1.2zM68.7 100.3h1.2v1.2h-1.2zM68.6 99.3h1.2v1.2h-1.2zM68.5 98.2h1.2v1.2h-1.2zM68.4 97.2h1.2v1.2h-1.2zM68.5 95.2h1.2v1.2h-1.2zM68.7 93.1h1.2v1.2h-1.2zM69.6 108.4h1.2v1.2h-1.2zM69.6 107.4h1.2v1.2h-1.2zM69.6 105.3h1.2v1.2h-1.2zM69.3 104.3h1.2v1.2h-1.2zM69.4 103.3h1.2v1.2h-1.2zM69.5 102.2h1.2v1.2h-1.2zM69.7 101.2h1.2v1.2h-1.2zM69.4 100.2h1.2v1.2h-1.2zM69.3 99.1h1.2v1.2h-1.2zM69.4 98.1h1.2v1.2h-1.2zM69.4 97.1h1.2v1.2h-1.2zM70.6 107.3h1.2v1.2h-1.2zM70.4 106.2h1.2v1.2h-1.2zM70.5 105.2h1.2v1.2h-1.2zM70.7 102.1h1.2v1.2h-1.2zM70.5 101.1h1.2v1.2h-1.2zM70.3 99.0h1.2v1.2h-1.2zM70.5 96.9h1.2v1.2h-1.2zM70.4 94.9h1.2v1.2h-1.2zM70.6 82.5h1.2v1.2h-1.2zM71.6 109.0h1.2v1.2h-1.2zM71.4 108.0h1.2v1.2h-1.2zM71.4 107.0h1.2v1.2h-1.2zM71.4 105.9h1.2v1.2h-1.2zM71.6 104.9h1.2v1.2h-1.2zM71.6 103.9h1.2v1.2h-1.2zM71.5 102.8h1.2v1.2h-1.2zM71.6 101.8h1.2v1.2h-1.2zM71.4 100.8h1.2v1.2h-1.2zM71.7 99.7h1.2v1.2h-1.2zM71.4 96.7h1.2v1.2h-1.2zM72.6 105.9h1.2v1.2h-1.2zM72.6 104.9h1.2v1.2h-1.2zM72.4 103.9h1.2v1.2h-1.2zM72.5 102.8h1.2v1.2h-1.2zM72.7 101.8h1.2v1.2h-1.2zM72.3 100.8h1.2v1.2h-1.2zM72.7 99.7h1.2v1.2h-1.2zM72.4 98.7h1.2v1.2h-1.2zM72.3 97.7h1.2v1.2h-1.2zM72.6 95.6h1.2v1.2h-1.2zM72.5 93.5h1.2v1.2h-1.2zM73.6 107.8h1.2v1.2h-1.2zM73.6 106.8h1.2v1.2h-1.2zM73.3 105.7h1.2v1.2h-1.2zM73.6 104.7h1.2v1.2h-1.2zM73.4 103.7h1.2v1.2h-1.2zM73.3 102.6h1.2v1.2h-1.2zM73.4 101.6h1.2v1.2h-1.2zM73.4 100.6h1.2v1.2h-1.2zM73.7 99.5h1.2v1.2h-1.2zM73.6 98.5h1.2v1.2h-1.2zM73.3 97.5h1.2v1.2h-1.2zM73.5 96.4h1.2v1.2h-1.2zM73.4 86.1h1.2v1.2h-1.2zM73.5 83.0h1.2v1.2h-1.2zM74.4 110.2h1.2v1.2h-1.2zM74.4 109.2h1.2v1.2h-1.2zM74.4 107.1h1.2v1.2h-1.2zM74.6 104.0h1.2v1.2h-1.2zM74.6 103.0h1.2v1.2h-1.2zM74.4 92.7h1.2v1.2h-1.2zM75.6 107.4h1.2v1.2h-1.2zM75.4 106.4h1.2v1.2h-1.2zM75.4 105.4h1.2v1.2h-1.2zM75.6 104.3h1.2v1.2h-1.2zM75.4 103.3h1.2v1.2h-1.2zM75.6 102.3h1.2v1.2h-1.2zM75.4 101.2h1.2v1.2h-1.2zM75.4 98.1h1.2v1.2h-1.2zM76.6 106.4h1.2v1.2h-1.2zM76.4 105.4h1.2v1.2h-1.2zM76.3 104.3h1.2v1.2h-1.2zM76.5 103.3h1.2v1.2h-1.2zM76.5 102.3h1.2v1.2h-1.2zM76.6 101.2h1.2v1.2h-1.2zM76.6 100.2h1.2v1.2h-1.2zM76.4 99.2h1.2v1.2h-1.2zM76.5 98.1h1.2v1.2h-1.2zM76.5 95.1h1.2v1.2h-1.2zM76.4 93.0h1.2v1.2h-1.2zM76.4 84.7h1.2v1.2h-1.2zM76.5 82.7h1.2v1.2h-1.2zM77.4 106.7h1.2v1.2h-1.2zM77.5 105.7h1.2v1.2h-1.2zM77.5 104.6h1.2v1.2h-1.2zM77.7 103.6h1.2v1.2h-1.2zM77.6 102.6h1.2v1.2h-1.2zM77.5 101.5h1.2v1.2h-1.2zM77.7 100.5h1.2v1.2h-1.2zM77.5 99.5h1.2v1.2h-1.2zM77.6 98.4h1.2v1.2h-1.2zM77.5 95.4h1.2v1.2h-1.2zM78.5 106.2h1.2v1.2h-1.2zM78.5 105.2h1.2v1.2h-1.2zM78.6 104.1h1.2v1.2h-1.2zM78.4 103.1h1.2v1.2h-1.2zM78.6 102.1h1.2v1.2h-1.2zM78.6 99.0h1.2v1.2h-1.2zM78.4 96.9h1.2v1.2h-1.2zM79.6 107.7h1.2v1.2h-1.2zM79.5 106.7h1.2v1.2h-1.2zM79.5 105.6h1.2v1.2h-1.2zM79.3 104.6h1.2v1.2h-1.2zM79.4 103.6h1.2v1.2h-1.2zM79.4 102.5h1.2v1.2h-1.2zM79.5 101.5h1.2v1.2h-1.2zM79.6 100.5h1.2v1.2h-1.2zM79.7 99.4h1.2v1.2h-1.2zM79.6 97.4h1.2v1.2h-1.2zM79.3 91.2h1.2v1.2h-1.2zM80.7 105.7h1.2v1.2h-1.2zM80.6 104.7h1.2v1.2h-1.2zM80.7 103.7h1.2v1.2h-1.2zM80.6 102.6h1.2v1.2h-1.2zM80.6 101.6h1.2v1.2h-1.2zM80.6 100.6h1.2v1.2h-1.2zM80.7 99.5h1.2v1.2h-1.2zM80.4 98.5h1.2v1.2h-1.2zM80.4 97.5h1.2v1.2h-1.2zM80.3 96.4h1.2v1.2h-1.2zM80.4 95.4h1.2v1.2h-1.2zM80.6 90.3h1.2v1.2h-1.2zM81.5 105.0h1.2v1.2h-1.2zM81.7 103.9h1.2v1.2h-1.2zM81.7 102.9h1.2v1.2h-1.2zM81.5 101.9h1.2v1.2h-1.2zM81.3 100.8h1.2v1.2h-1.2zM81.6 99.8h1.2v1.2h-1.2zM81.6 98.8h1.2v1.2h-1.2zM81.5 97.7h1.2v1.2h-1.2zM82.6 108.1h1.2v1.2h-1.2zM82.6 107.1h1.2v1.2h-1.2zM82.5 106.0h1.2v1.2h-1.2zM82.4 105.0h1.2v1.2h-1.2zM82.4 104.0h1.2v1.2h-1.2zM82.6 101.9h1.2v1.2h-1.2zM83.6 106.4h1.2v1.2h-1.2zM83.4 105.4h1.2v1.2h-1.2zM83.5 104.4h1.2v1.2h-1.2zM83.5 103.3h1.2v1.2h-1.2zM83.7 102.3h1.2v1.2h-1.2zM83.5 101.3h1.2v1.2h-1.2zM83.3 100.2h1.2v1.2h-1.2zM83.5 95.1h1.2v1.2h-1.2zM83.3 84.8h1.2v1.2h-1.2zM84.6 105.0h1.2v1.2h-1.2zM84.6 104.0h1.2v1.2h-1.2zM84.3 103.0h1.2v1.2h-1.2zM84.6 97.8h1.2v1.2h-1.2zM84.3 90.6h1.2v1.2h-1.2zM85.6 106.0h1.2v1.2h-1.2zM85.6 105.0h1.2v1.2h-1.2zM85.6 103.9h1.2v1.2h-1.2zM85.5 102.9h1.2v1.2h-1.2zM85.6 101.9h1.2v1.2h-1.2zM85.5 99.8h1.2v1.2h-1.2zM85.3 98.8h1.2v1.2h-1.2zM86.6 106.4h1.2v1.2h-1.2zM86.3 105.4h1.2v1.2h-1.2zM86.6 104.4h1.2v1.2h-1.2zM86.5 103.3h1.2v1.2h-1.2zM86.6 102.3h1.2v1.2h-1.2zM86.6 101.3h1.2v1.2h-1.2zM86.5 98.2h1.2v1.2h-1.2zM86.6 96.1h1.2v1.2h-1.2zM87.7 107.6h1.2v1.2h-1.2zM87.5 106.5h1.2v1.2h-1.2zM87.4 105.5h1.2v1.2h-1.2zM87.4 104.5h1.2v1.2h-1.2zM87.4 103.4h1.2v1.2h-1.2zM87.5 102.4h1.2v1.2h-1.2zM87.4 101.4h1.2v1.2h-1.2zM87.7 100.3h1.2v1.2h-1.2zM87.6 98.3h1.2v1.2h-1.2zM87.5 96.2h1.2v1.2h-1.2zM87.3 93.1h1.2v1.2h-1.2zM88.4 106.5h1.2v1.2h-1.2zM88.3 105.4h1.2v1.2h-1.2zM88.6 104.4h1.2v1.2h-1.2zM88.7 103.4h1.2v1.2h-1.2zM88.5 101.3h1.2v1.2h-1.2zM88.3 100.3h1.2v1.2h-1.2zM88.5 98.2h1.2v1.2h-1.2zM88.4 87.9h1.2v1.2h-1.2zM83.0 88.2h1.2v1.2h-1.2zM89.2 93.3h1.2v1.2h-1.2zM70.3 86.3h1.2v1.2h-1.2zM88.1 87.7h1.2v1.2h-1.2zM73.7 88.9h1.2v1.2h-1.2zM84.1 93.0h1.2v1.2h-1.2zM74.3 92.0h1.2v1.2h-1.2zM69.8 90.2h1.2v1.2h-1.2zM70.8 92.2h1.2v1.2h-1.2zM70.2 87.7h1.2v1.2h-1.2zM67.3 87.0h1.2v1.2h-1.2zM71.4 93.4h1.2v1.2h-1.2zM87.9 92.3h1.2v1.2h-1.2zM87.0 92.8h1.2v1.2h-1.2zM77.1 93.0h1.2v1.2h-1.2zM81.1 90.5h1.2v1.2h-1.2zM77.7 88.5h1.2v1.2h-1.2zM110.0 106.8h1.2v1.2h-1.2zM110.2 105.8h1.2v1.2h-1.2zM110.1 104.8h1.2v1.2h-1.2zM110.2 103.7h1.2v1.2h-1.2zM109.9 102.7h1.2v1.2h-1.2zM110.0 101.7h1.2v1.2h-1.2zM109.9 98.6h1.2v1.2h-1.2zM111.0 105.9h1.2v1.2h-1.2zM110.9 104.8h1.2v1.2h-1.2zM111.0 103.8h1.2v1.2h-1.2zM110.8 102.8h1.2v1.2h-1.2zM111.2 101.7h1.2v1.2h-1.2zM110.9 100.7h1.2v1.2h-1.2zM110.9 98.6h1.2v1.2h-1.2zM111.0 91.4h1.2v1.2h-1.2zM112.0 108.1h1.2v1.2h-1.2zM111.9 107.1h1.2v1.2h-1.2zM112.0 106.0h1.2v1.2h-1.2zM111.9 105.0h1.2v1.2h-1.2zM112.2 104.0h1.2v1.2h-1.2zM111.9 102.9h1.2v1.2h-1.2zM111.9 101.9h1.2v1.2h-1.2zM111.9 100.9h1.2v1.2h-1.2zM112.1 99.8h1.2v1.2h-1.2zM112.0 98.8h1.2v1.2h-1.2zM111.9 94.7h1.2v1.2h-1.2zM113.0 108.7h1.2v1.2h-1.2zM112.8 107.7h1.2v1.2h-1.2zM113.2 106.7h1.2v1.2h-1.2zM112.9 105.6h1.2v1.2h-1.2zM112.9 104.6h1.2v1.2h-1.2zM113.1 103.6h1.2v1.2h-1.2zM113.0 102.5h1.2v1.2h-1.2zM113.0 101.5h1.2v1.2h-1.2zM113.1 98.4h1.2v1.2h-1.2zM113.1 95.3h1.2v1.2h-1.2zM113.8 108.5h1.2v1.2h-1.2zM113.8 107.4h1.2v1.2h-1.2zM113.9 106.4h1.2v1.2h-1.2zM114.0 105.4h1.2v1.2h-1.2zM114.0 104.3h1.2v1.2h-1.2zM114.2 103.3h1.2v1.2h-1.2zM114.2 102.3h1.2v1.2h-1.2zM114.0 101.2h1.2v1.2h-1.2zM113.9 100.2h1.2v1.2h-1.2zM113.9 99.2h1.2v1.2h-1.2zM114.1 98.1h1.2v1.2h-1.2zM114.1 97.1h1.2v1.2h-1.2zM114.9 107.8h1.2v1.2h-1.2zM115.2 106.7h1.2v1.2h-1.2zM114.8 105.7h1.2v1.2h-1.2zM115.1 104.7h1.2v1.2h-1.2zM114.9 103.6h1.2v1.2h-1.2zM115.1 101.6h1.2v1.2h-1.2zM114.8 100.5h1.2v1.2h-1.2zM114.8 99.5h1.2v1.2h-1.2zM115.0 98.5h1.2v1.2h-1.2zM115.1 89.2h1.2v1.2h-1.2zM115.8 107.1h1.2v1.2h-1.2zM115.8 106.0h1.2v1.2h-1.2zM116.0 105.0h1.2v1.2h-1.2zM115.8 104.0h1.2v1.2h-1.2zM116.0 102.9h1.2v1.2h-1.2zM115.9 98.8h1.2v1.2h-1.2zM117.0 109.1h1.2v1.2h-1.2zM116.9 108.1h1.2v1.2h-1.2zM117.0 107.1h1.2v1.2h-1.2zM117.0 106.0h1.2v1.2h-1.2zM117.2 104.0h1.2v1.2h-1.2zM117.1 102.9h1.2v1.2h-1.2zM117.1 100.9h1.2v1.2h-1.2zM116.8 97.8h1.2v1.2h-1.2zM117.2 95.7h1.2v1.2h-1.2zM117.8 106.5h1.2v1.2h-1.2zM117.9 105.5h1.2v1.2h-1.2zM117.8 104.5h1.2v1.2h-1.2zM118.2 103.4h1.2v1.2h-1.2zM118.2 102.4h1.2v1.2h-1.2zM118.0 101.4h1.2v1.2h-1.2zM118.0 100.3h1.2v1.2h-1.2zM118.1 99.3h1.2v1.2h-1.2zM118.1 98.3h1.2v1.2h-1.2zM117.8 97.2h1.2v1.2h-1.2zM118.0 96.2h1.2v1.2h-1.2zM119.1 107.4h1.2v1.2h-1.2zM119.0 106.3h1.2v1.2h-1.2zM119.1 105.3h1.2v1.2h-1.2zM119.1 103.2h1.2v1.2h-1.2zM118.9 102.2h1.2v1.2h-1.2zM119.2 96.0h1.2v1.2h-1.2zM119.0 95.0h1.2v1.2h-1.2zM120.2 108.5h1.2v1.2h-1.2zM120.1 107.5h1.2v1.2h-1.2zM120.0 106.5h1.2v1.2h-1.2zM120.2 105.4h1.2v1.2h-1.2zM120.1 104.4h1.2v1.2h-1.2zM120.0 103.4h1.2v1.2h-1.2zM120.0 102.3h1.2v1.2h-1.2zM121.1 105.7h1.2v1.2h-1.2zM120.9 104.6h1.2v1.2h-1.2zM121.0 103.6h1.2v1.2h-1.2zM121.1 102.6h1.2v1.2h-1.2zM121.1 101.5h1.2v1.2h-1.2zM121.0 100.5h1.2v1.2h-1.2zM121.1 99.5h1.2v1.2h-1.2zM120.9 98.4h1.2v1.2h-1.2zM120.8 97.4h1.2v1.2h-1.2zM121.0 92.3h1.2v1.2h-1.2zM121.9 108.5h1.2v1.2h-1.2zM121.8 107.5h1.2v1.2h-1.2zM122.1 106.4h1.2v1.2h-1.2zM121.9 105.4h1.2v1.2h-1.2zM122.1 104.4h1.2v1.2h-1.2zM122.1 103.3h1.2v1.2h-1.2zM122.0 101.3h1.2v1.2h-1.2zM122.0 97.1h1.2v1.2h-1.2zM122.9 106.6h1.2v1.2h-1.2zM123.1 105.6h1.2v1.2h-1.2zM123.0 104.5h1.2v1.2h-1.2zM123.2 103.5h1.2v1.2h-1.2zM122.8 102.5h1.2v1.2h-1.2zM123.1 87.0h1.2v1.2h-1.2zM124.1 105.2h1.2v1.2h-1.2zM123.8 104.1h1.2v1.2h-1.2zM124.1 103.1h1.2v1.2h-1.2zM123.8 102.1h1.2v1.2h-1.2zM124.0 100.0h1.2v1.2h-1.2zM123.9 95.9h1.2v1.2h-1.2zM124.2 93.8h1.2v1.2h-1.2zM124.8 106.3h1.2v1.2h-1.2zM124.9 105.3h1.2v1.2h-1.2zM125.0 104.2h1.2v1.2h-1.2zM124.9 103.2h1.2v1.2h-1.2zM125.2 101.1h1.2v1.2h-1.2zM124.9 99.1h1.2v1.2h-1.2zM125.9 104.8h1.2v1.2h-1.2zM126.1 102.7h1.2v1.2h-1.2zM126.1 101.7h1.2v1.2h-1.2zM125.9 99.6h1.2v1.2h-1.2zM126.2 97.5h1.2v1.2h-1.2zM125.8 96.5h1.2v1.2h-1.2zM126.1 95.5h1.2v1.2h-1.2zM126.1 87.2h1.2v1.2h-1.2zM126.1 86.2h1.2v1.2h-1.2zM125.2 91.5h1.2v1.2h-1.2zM124.0 92.7h1.2v1.2h-1.2zM116.2 93.4h1.2v1.2h-1.2zM116.0 88.3h1.2v1.2h-1.2zM113.3 89.5h1.2v1.2h-1.2zM111.1 90.3h1.2v1.2h-1.2zM122.0 90.7h1.2v1.2h-1.2zM121.2 92.9h1.2v1.2h-1.2zM123.8 92.9h1.2v1.2h-1.2zM125.7 89.7h1.2v1.2h-1.2zM114.5 91.4h1.2v1.2h-1.2zM122.4 90.0h1.2v1.2h-1.2zM125.5 93.1h1.2v1.2h-1.2zM145.8 106.4h1.2v1.2h-1.2zM145.7 105.4h1.2v1.2h-1.2zM146.0 103.3h1.2v1.2h-1.2zM145.8 102.3h1.2v1.2h-1.2zM145.7 101.2h1.2v1.2h-1.2zM145.8 100.2h1.2v1.2h-1.2zM146.0 96.1h1.2v1.2h-1.2zM147.0 105.8h1.2v1.2h-1.2zM147.0 104.7h1.2v1.2h-1.2zM146.8 103.7h1.2v1.2h-1.2zM146.9 102.7h1.2v1.2h-1.2zM146.9 101.6h1.2v1.2h-1.2zM146.7 100.6h1.2v1.2h-1.2zM146.9 99.6h1.2v1.2h-1.2zM146.8 98.5h1.2v1.2h-1.2zM146.7 96.5h1.2v1.2h-1.2zM146.8 91.3h1.2v1.2h-1.2zM148.1 106.9h1.2v1.2h-1.2zM148.0 105.9h1.2v1.2h-1.2zM147.9 104.8h1.2v1.2h-1.2zM147.8 103.8h1.2v1.2h-1.2zM147.7 101.7h1.2v1.2h-1.2zM147.7 98.6h1.2v1.2h-1.2zM147.9 95.5h1.2v1.2h-1.2zM148.9 108.3h1.2v1.2h-1.2zM148.7 107.3h1.2v1.2h-1.2zM148.7 106.3h1.2v1.2h-1.2zM148.8 105.2h1.2v1.2h-1.2zM149.0 104.2h1.2v1.2h-1.2zM149.1 99.0h1.2v1.2h-1.2zM149.8 108.7h1.2v1.2h-1.2zM150.0 107.7h1.2v1.2h-1.2zM149.9 106.6h1.2v1.2h-1.2zM149.9 105.6h1.2v1.2h-1.2zM150.0 104.6h1.2v1.2h-1.2zM149.8 103.5h1.2v1.2h-1.2zM150.1 102.5h1.2v1.2h-1.2zM149.8 101.5h1.2v1.2h-1.2zM149.9 100.4h1.2v1.2h-1.2zM149.8 98.4h1.2v1.2h-1.2zM149.9 97.3h1.2v1.2h-1.2zM151.1 106.8h1.2v1.2h-1.2zM150.9 105.8h1.2v1.2h-1.2zM151.0 104.8h1.2v1.2h-1.2zM151.0 103.7h1.2v1.2h-1.2zM150.7 102.7h1.2v1.2h-1.2zM151.0 101.7h1.2v1.2h-1.2zM150.7 96.5h1.2v1.2h-1.2zM152.0 107.5h1.2v1.2h-1.2zM151.8 106.5h1.2v1.2h-1.2zM151.8 104.4h1.2v1.2h-1.2zM152.1 103.4h1.2v1.2h-1.2zM151.9 102.3h1.2v1.2h-1.2zM152.0 99.3h1.2v1.2h-1.2zM151.8 95.1h1.2v1.2h-1.2zM151.8 92.0h1.2v1.2h-1.2zM152.7 107.8h1.2v1.2h-1.2zM152.8 106.7h1.2v1.2h-1.2zM153.1 105.7h1.2v1.2h-1.2zM153.0 104.7h1.2v1.2h-1.2zM153.0 99.5h1.2v1.2h-1.2zM152.9 90.2h1.2v1.2h-1.2zM152.8 86.1h1.2v1.2h-1.2zM152.8 84.0h1.2v1.2h-1.2zM154.1 108.6h1.2v1.2h-1.2zM153.8 106.6h1.2v1.2h-1.2zM153.8 105.5h1.2v1.2h-1.2zM153.9 104.5h1.2v1.2h-1.2zM153.7 103.5h1.2v1.2h-1.2zM153.8 102.4h1.2v1.2h-1.2zM153.9 101.4h1.2v1.2h-1.2zM153.8 91.1h1.2v1.2h-1.2zM155.0 111.8h1.2v1.2h-1.2zM155.0 110.8h1.2v1.2h-1.2zM154.7 109.7h1.2v1.2h-1.2zM154.9 108.7h1.2v1.2h-1.2zM154.8 107.7h1.2v1.2h-1.2zM154.7 106.6h1.2v1.2h-1.2zM154.8 105.6h1.2v1.2h-1.2zM154.9 104.6h1.2v1.2h-1.2zM155.0 101.5h1.2v1.2h-1.2zM155.8 108.4h1.2v1.2h-1.2zM155.7 107.3h1.2v1.2h-1.2zM155.7 106.3h1.2v1.2h-1.2zM155.9 105.3h1.2v1.2h-1.2zM156.1 104.2h1.2v1.2h-1.2zM155.9 103.2h1.2v1.2h-1.2zM155.7 102.2h1.2v1.2h-1.2zM155.9 101.1h1.2v1.2h-1.2zM156.0 100.1h1.2v1.2h-1.2zM156.0 99.1h1.2v1.2h-1.2zM155.7 98.0h1.2v1.2h-1.2zM157.0 111.2h1.2v1.2h-1.2zM156.7 110.2h1.2v1.2h-1.2zM156.9 107.1h1.2v1.2h-1.2zM156.7 105.0h1.2v1.2h-1.2zM156.9 100.9h1.2v1.2h-1.2zM157.1 99.9h1.2v1.2h-1.2zM156.8 98.8h1.2v1.2h-1.2zM156.8 94.7h1.2v1.2h-1.2zM158.0 107.4h1.2v1.2h-1.2zM158.1 106.4h1.2v1.2h-1.2zM158.1 105.3h1.2v1.2h-1.2zM157.8 104.3h1.2v1.2h-1.2zM158.0 103.3h1.2v1.2h-1.2zM157.8 101.2h1.2v1.2h-1.2zM158.0 99.1h1.2v1.2h-1.2zM158.9 103.6h1.2v1.2h-1.2zM159.1 102.6h1.2v1.2h-1.2zM159.0 101.6h1.2v1.2h-1.2zM158.8 99.5h1.2v1.2h-1.2zM158.8 98.5h1.2v1.2h-1.2zM158.7 97.4h1.2v1.2h-1.2zM159.1 96.4h1.2v1.2h-1.2zM160.0 109.0h1.2v1.2h-1.2zM159.8 108.0h1.2v1.2h-1.2zM160.0 105.9h1.2v1.2h-1.2zM159.7 104.9h1.2v1.2h-1.2zM160.0 91.4h1.2v1.2h-1.2zM150.1 88.4h1.2v1.2h-1.2zM159.0 90.3h1.2v1.2h-1.2zM159.1 86.7h1.2v1.2h-1.2zM154.1 93.0h1.2v1.2h-1.2zM153.3 90.1h1.2v1.2h-1.2zM155.5 92.4h1.2v1.2h-1.2zM150.9 91.2h1.2v1.2h-1.2zM160.0 87.4h1.2v1.2h-1.2zM177.7 107.8h1.2v1.2h-1.2zM177.9 106.7h1.2v1.2h-1.2zM177.8 105.7h1.2v1.2h-1.2zM177.8 104.7h1.2v1.2h-1.2zM177.9 103.6h1.2v1.2h-1.2zM177.7 102.6h1.2v1.2h-1.2zM177.9 101.6h1.2v1.2h-1.2zM177.8 100.5h1.2v1.2h-1.2zM177.8 93.3h1.2v1.2h-1.2zM178.9 107.2h1.2v1.2h-1.2zM178.7 106.2h1.2v1.2h-1.2zM179.0 105.2h1.2v1.2h-1.2zM179.0 104.1h1.2v1.2h-1.2zM179.1 103.1h1.2v1.2h-1.2zM178.9 102.1h1.2v1.2h-1.2zM178.9 101.0h1.2v1.2h-1.2zM179.0 100.0h1.2v1.2h-1.2zM178.9 99.0h1.2v1.2h-1.2zM178.8 96.9h1.2v1.2h-1.2zM179.1 94.8h1.2v1.2h-1.2zM178.9 93.8h1.2v1.2h-1.2zM178.7 91.7h1.2v1.2h-1.2zM179.8 108.4h1.2v1.2h-1.2zM179.8 107.4h1.2v1.2h-1.2zM179.8 106.3h1.2v1.2h-1.2zM179.9 105.3h1.2v1.2h-1.2zM179.8 104.3h1.2v1.2h-1.2zM180.1 103.2h1.2v1.2h-1.2zM179.7 102.2h1.2v1.2h-1.2zM180.8 107.6h1.2v1.2h-1.2zM181.0 105.5h1.2v1.2h-1.2zM180.9 104.5h1.2v1.2h-1.2zM180.8 103.5h1.2v1.2h-1.2zM181.0 102.4h1.2v1.2h-1.2zM181.0 101.4h1.2v1.2h-1.2zM180.9 100.4h1.2v1.2h-1.2zM180.9 99.3h1.2v1.2h-1.2zM180.9 98.3h1.2v1.2h-1.2zM180.9 97.3h1.2v1.2h-1.2zM180.8 95.2h1.2v1.2h-1.2zM182.0 109.6h1.2v1.2h-1.2zM181.9 108.5h1.2v1.2h-1.2zM182.1 107.5h1.2v1.2h-1.2zM181.8 105.4h1.2v1.2h-1.2zM181.8 104.4h1.2v1.2h-1.2zM181.9 103.4h1.2v1.2h-1.2zM182.1 102.3h1.2v1.2h-1.2zM182.0 101.3h1.2v1.2h-1.2zM181.9 100.3h1.2v1.2h-1.2zM182.1 98.2h1.2v1.2h-1.2zM181.7 97.2h1.2v1.2h-1.2zM181.7 96.1h1.2v1.2h-1.2zM181.9 95.1h1.2v1.2h-1.2zM181.8 94.1h1.2v1.2h-1.2zM181.8 93.0h1.2v1.2h-1.2zM182.0 87.9h1.2v1.2h-1.2zM182.9 107.4h1.2v1.2h-1.2zM182.8 106.4h1.2v1.2h-1.2zM183.0 104.3h1.2v1.2h-1.2zM182.8 103.3h1.2v1.2h-1.2zM183.0 101.2h1.2v1.2h-1.2zM183.0 89.8h1.2v1.2h-1.2zM183.9 109.4h1.2v1.2h-1.2zM184.1 108.3h1.2v1.2h-1.2zM183.9 107.3h1.2v1.2h-1.2zM183.8 106.3h1.2v1.2h-1.2zM183.8 105.2h1.2v1.2h-1.2zM183.7 104.2h1.2v1.2h-1.2zM184.0 103.2h1.2v1.2h-1.2zM183.9 102.1h1.2v1.2h-1.2zM183.9 100.1h1.2v1.2h-1.2zM184.0 99.0h1.2v1.2h-1.2zM184.9 107.4h1.2v1.2h-1.2zM184.8 106.4h1.2v1.2h-1.2zM184.9 105.3h1.2v1.2h-1.2zM184.8 104.3h1.2v1.2h-1.2zM184.8 103.3h1.2v1.2h-1.2zM184.9 102.2h1.2v1.2h-1.2zM185.1 98.1h1.2v1.2h-1.2zM184.7 97.1h1.2v1.2h-1.2zM185.9 108.6h1.2v1.2h-1.2zM185.7 107.6h1.2v1.2h-1.2zM186.0 106.5h1.2v1.2h-1.2zM185.8 105.5h1.2v1.2h-1.2zM185.8 104.5h1.2v1.2h-1.2zM185.9 103.4h1.2v1.2h-1.2zM185.8 102.4h1.2v1.2h-1.2zM185.8 101.4h1.2v1.2h-1.2zM185.8 98.3h1.2v1.2h-1.2zM185.8 97.2h1.2v1.2h-1.2zM186.0 96.2h1.2v1.2h-1.2zM186.0 92.1h1.2v1.2h-1.2zM186.8 110.6h1.2v1.2h-1.2zM187.1 109.6h1.2v1.2h-1.2zM187.0 108.6h1.2v1.2h-1.2zM186.9 107.5h1.2v1.2h-1.2zM186.8 106.5h1.2v1.2h-1.2zM187.0 105.5h1.2v1.2h-1.2zM186.8 104.4h1.2v1.2h-1.2zM187.0 101.3h1.2v1.2h-1.2zM187.0 100.3h1.2v1.2h-1.2zM186.8 99.3h1.2v1.2h-1.2zM186.9 91.0h1.2v1.2h-1.2zM187.8 107.3h1.2v1.2h-1.2zM188.0 106.3h1.2v1.2h-1.2zM188.0 105.3h1.2v1.2h-1.2zM188.1 104.2h1.2v1.2h-1.2zM188.0 103.2h1.2v1.2h-1.2zM187.8 102.2h1.2v1.2h-1.2zM187.9 101.1h1.2v1.2h-1.2zM187.9 99.1h1.2v1.2h-1.2zM188.8 107.9h1.2v1.2h-1.2zM188.9 106.8h1.2v1.2h-1.2zM188.8 104.8h1.2v1.2h-1.2zM188.9 103.7h1.2v1.2h-1.2zM188.9 102.7h1.2v1.2h-1.2zM188.9 100.6h1.2v1.2h-1.2zM188.7 99.6h1.2v1.2h-1.2zM188.8 97.5h1.2v1.2h-1.2zM188.9 95.5h1.2v1.2h-1.2zM188.8 92.4h1.2v1.2h-1.2zM189.7 106.8h1.2v1.2h-1.2zM189.7 105.8h1.2v1.2h-1.2zM189.9 103.7h1.2v1.2h-1.2zM189.7 101.6h1.2v1.2h-1.2zM186.5 91.9h1.2v1.2h-1.2zM189.4 92.8h1.2v1.2h-1.2zM187.7 89.4h1.2v1.2h-1.2zM185.6 85.7h1.2v1.2h-1.2zM184.5 93.9h1.2v1.2h-1.2zM188.4 93.3h1.2v1.2h-1.2zM180.7 89.4h1.2v1.2h-1.2zM204.9 104.1h1.2v1.2h-1.2zM204.7 103.1h1.2v1.2h-1.2zM204.8 102.0h1.2v1.2h-1.2zM204.6 101.0h1.2v1.2h-1.2zM204.8 95.8h1.2v1.2h-1.2zM204.6 92.7h1.2v1.2h-1.2zM205.6 110.8h1.2v1.2h-1.2zM205.7 109.7h1.2v1.2h-1.2zM205.8 108.7h1.2v1.2h-1.2zM205.8 107.7h1.2v1.2h-1.2zM205.5 106.6h1.2v1.2h-1.2zM205.7 105.6h1.2v1.2h-1.2zM205.9 104.6h1.2v1.2h-1.2zM205.8 102.5h1.2v1.2h-1.2zM205.6 96.3h1.2v1.2h-1.2zM205.8 91.2h1.2v1.2h-1.2zM205.9 89.1h1.2v1.2h-1.2zM206.7 107.3h1.2v1.2h-1.2zM206.6 106.3h1.2v1.2h-1.2zM206.8 105.3h1.2v1.2h-1.2zM206.6 104.2h1.2v1.2h-1.2zM206.9 98.0h1.2v1.2h-1.2zM206.9 96.0h1.2v1.2h-1.2zM206.8 93.9h1.2v1.2h-1.2zM207.6 106.3h1.2v1.2h-1.2zM207.6 105.3h1.2v1.2h-1.2zM207.6 104.2h1.2v1.2h-1.2zM207.5 103.2h1.2v1.2h-1.2zM207.8 102.2h1.2v1.2h-1.2zM207.6 101.1h1.2v1.2h-1.2zM207.7 100.1h1.2v1.2h-1.2zM207.7 98.0h1.2v1.2h-1.2zM208.8 107.1h1.2v1.2h-1.2zM208.9 106.0h1.2v1.2h-1.2zM208.8 105.0h1.2v1.2h-1.2zM208.8 104.0h1.2v1.2h-1.2zM208.7 102.9h1.2v1.2h-1.2zM208.7 101.9h1.2v1.2h-1.2zM208.8 100.9h1.2v1.2h-1.2zM208.7 99.8h1.2v1.2h-1.2zM208.8 95.7h1.2v1.2h-1.2zM208.9 92.6h1.2v1.2h-1.2zM208.9 87.4h1.2v1.2h-1.2zM209.9 108.1h1.2v1.2h-1.2zM209.7 107.1h1.2v1.2h-1.2zM209.7 106.0h1.2v1.2h-1.2zM209.7 104.0h1.2v1.2h-1.2zM209.9 102.9h1.2v1.2h-1.2zM209.9 101.9h1.2v1.2h-1.2zM209.8 98.8h1.2v1.2h-1.2zM210.6 111.2h1.2v1.2h-1.2zM210.5 110.2h1.2v1.2h-1.2zM210.5 109.2h1.2v1.2h-1.2zM210.9 107.1h1.2v1.2h-1.2zM211.7 107.2h1.2v1.2h-1.2zM211.8 105.1h1.2v1.2h-1.2zM211.7 104.1h1.2v1.2h-1.2zM211.7 103.1h1.2v1.2h-1.2zM211.7 102.0h1.2v1.2h-1.2zM211.7 101.0h1.2v1.2h-1.2zM211.6 100.0h1.2v1.2h-1.2zM211.7 98.9h1.2v1.2h-1.2zM211.9 97.9h1.2v1.2h-1.2zM211.5 96.9h1.2v1.2h-1.2zM211.8 89.6h1.2v1.2h-1.2zM212.7 106.8h1.2v1.2h-1.2zM212.6 105.7h1.2v1.2h-1.2zM212.8 104.7h1.2v1.2h-1.2zM212.5 103.7h1.2v1.2h-1.2zM212.9 102.6h1.2v1.2h-1.2zM212.7 101.6h1.2v1.2h-1.2zM212.5 100.6h1.2v1.2h-1.2zM212.5 99.5h1.2v1.2h-1.2zM212.7 92.3h1.2v1.2h-1.2zM213.8 105.7h1.2v1.2h-1.2zM213.9 104.7h1.2v1.2h-1.2zM213.7 102.6h1.2v1.2h-1.2zM213.7 101.6h1.2v1.2h-1.2zM213.8 100.5h1.2v1.2h-1.2zM213.5 99.5h1.2v1.2h-1.2zM213.7 98.5h1.2v1.2h-1.2zM213.6 97.4h1.2v1.2h-1.2zM213.9 96.4h1.2v1.2h-1.2zM213.6 95.4h1.2v1.2h-1.2zM213.6 94.4h1.2v1.2h-1.2zM214.7 108.3h1.2v1.2h-1.2zM214.9 106.2h1.2v1.2h-1.2zM214.8 105.2h1.2v1.2h-1.2zM214.6 104.2h1.2v1.2h-1.2zM214.9 103.1h1.2v1.2h-1.2zM214.8 102.1h1.2v1.2h-1.2zM214.7 101.1h1.2v1.2h-1.2zM214.6 100.0h1.2v1.2h-1.2zM214.8 99.0h1.2v1.2h-1.2zM214.5 98.0h1.2v1.2h-1.2zM214.6 94.9h1.2v1.2h-1.2zM215.5 106.6h1.2v1.2h-1.2zM215.6 105.6h1.2v1.2h-1.2zM215.7 104.5h1.2v1.2h-1.2zM215.7 103.5h1.2v1.2h-1.2zM215.6 102.5h1.2v1.2h-1.2zM215.6 100.4h1.2v1.2h-1.2zM215.9 99.4h1.2v1.2h-1.2zM215.8 98.3h1.2v1.2h-1.2zM215.8 97.3h1.2v1.2h-1.2zM215.9 96.3h1.2v1.2h-1.2zM215.5 95.2h1.2v1.2h-1.2zM215.8 94.2h1.2v1.2h-1.2zM215.2 91.4h1.2v1.2h-1.2zM206.1 87.7h1.2v1.2h-1.2zM212.0 89.1h1.2v1.2h-1.2zM205.5 91.8h1.2v1.2h-1.2zM207.1 89.1h1.2v1.2h-1.2zM209.8 88.7h1.2v1.2h-1.2zM209.7 92.6h1.2v1.2h-1.2zM214.0 92.7h1.2v1.2h-1.2zM230.6 106.0h1.2v1.2h-1.2zM230.6 105.0h1.2v1.2h-1.2zM230.7 104.0h1.2v1.2h-1.2zM230.8 102.9h1.2v1.2h-1.2zM230.9 101.9h1.2v1.2h-1.2zM230.6 99.8h1.2v1.2h-1.2zM230.7 93.6h1.2v1.2h-1.2zM231.9 107.1h1.2v1.2h-1.2zM231.6 106.1h1.2v1.2h-1.2zM231.8 105.1h1.2v1.2h-1.2zM231.8 104.0h1.2v1.2h-1.2zM231.6 103.0h1.2v1.2h-1.2zM231.6 102.0h1.2v1.2h-1.2zM231.7 100.9h1.2v1.2h-1.2zM231.9 91.6h1.2v1.2h-1.2zM232.7 106.6h1.2v1.2h-1.2zM232.6 104.5h1.2v1.2h-1.2zM232.5 103.5h1.2v1.2h-1.2zM232.8 102.5h1.2v1.2h-1.2zM232.9 99.4h1.2v1.2h-1.2zM232.6 90.1h1.2v1.2h-1.2zM233.7 103.0h1.2v1.2h-1.2zM233.8 102.0h1.2v1.2h-1.2zM233.5 99.9h1.2v1.2h-1.2zM233.6 98.9h1.2v1.2h-1.2zM233.6 97.9h1.2v1.2h-1.2zM233.7 96.8h1.2v1.2h-1.2zM233.7 95.8h1.2v1.2h-1.2zM233.8 94.8h1.2v1.2h-1.2zM233.6 93.7h1.2v1.2h-1.2zM233.7 88.6h1.2v1.2h-1.2zM233.6 87.5h1.2v1.2h-1.2zM234.9 108.7h1.2v1.2h-1.2zM234.7 107.6h1.2v1.2h-1.2zM234.8 106.6h1.2v1.2h-1.2zM234.9 105.6h1.2v1.2h-1.2zM234.9 104.5h1.2v1.2h-1.2zM234.5 103.5h1.2v1.2h-1.2zM234.5 102.5h1.2v1.2h-1.2zM234.7 97.3h1.2v1.2h-1.2zM234.7 95.3h1.2v1.2h-1.2zM235.8 106.4h1.2v1.2h-1.2zM235.7 105.4h1.2v1.2h-1.2zM235.5 103.3h1.2v1.2h-1.2zM235.6 102.3h1.2v1.2h-1.2zM235.7 101.2h1.2v1.2h-1.2zM235.5 99.2h1.2v1.2h-1.2zM235.6 97.1h1.2v1.2h-1.2zM235.8 95.0h1.2v1.2h-1.2zM235.7 90.9h1.2v1.2h-1.2zM236.6 104.5h1.2v1.2h-1.2zM236.8 103.5h1.2v1.2h-1.2zM236.7 102.5h1.2v1.2h-1.2zM236.9 101.4h1.2v1.2h-1.2zM236.7 99.4h1.2v1.2h-1.2zM236.7 98.3h1.2v1.2h-1.2zM236.7 96.3h1.2v1.2h-1.2zM237.5 106.8h1.2v1.2h-1.2zM237.5 105.8h1.2v1.2h-1.2zM237.8 104.8h1.2v1.2h-1.2zM237.7 103.7h1.2v1.2h-1.2zM237.6 102.7h1.2v1.2h-1.2zM237.8 101.7h1.2v1.2h-1.2zM237.7 100.6h1.2v1.2h-1.2zM237.6 99.6h1.2v1.2h-1.2zM237.5 98.6h1.2v1.2h-1.2zM237.7 97.6h1.2v1.2h-1.2zM237.9 95.5h1.2v1.2h-1.2zM237.7 94.5h1.2v1.2h-1.2zM237.7 93.4h1.2v1.2h-1.2zM237.6 90.3h1.2v1.2h-1.2zM238.7 103.9h1.2v1.2h-1.2zM238.7 102.8h1.2v1.2h-1.2zM238.7 101.8h1.2v1.2h-1.2zM238.5 100.8h1.2v1.2h-1.2zM238.7 99.7h1.2v1.2h-1.2zM238.8 98.7h1.2v1.2h-1.2zM238.7 93.5h1.2v1.2h-1.2zM238.5 87.3h1.2v1.2h-1.2zM239.5 105.7h1.2v1.2h-1.2zM239.8 104.6h1.2v1.2h-1.2zM239.8 103.6h1.2v1.2h-1.2zM239.8 102.6h1.2v1.2h-1.2zM239.9 101.5h1.2v1.2h-1.2zM239.8 99.5h1.2v1.2h-1.2zM239.9 98.4h1.2v1.2h-1.2zM240.7 106.4h1.2v1.2h-1.2zM240.8 105.3h1.2v1.2h-1.2zM240.8 104.3h1.2v1.2h-1.2zM240.7 103.3h1.2v1.2h-1.2zM240.7 102.2h1.2v1.2h-1.2zM240.8 101.2h1.2v1.2h-1.2zM240.6 100.2h1.2v1.2h-1.2zM240.6 91.9h1.2v1.2h-1.2zM240.9 90.9h1.2v1.2h-1.2zM241.7 103.6h1.2v1.2h-1.2zM241.8 102.5h1.2v1.2h-1.2zM241.7 101.5h1.2v1.2h-1.2zM241.5 100.5h1.2v1.2h-1.2zM241.6 94.3h1.2v1.2h-1.2zM242.6 109.8h1.2v1.2h-1.2zM242.8 107.7h1.2v1.2h-1.2zM242.5 106.7h1.2v1.2h-1.2zM242.7 104.6h1.2v1.2h-1.2zM242.7 103.6h1.2v1.2h-1.2zM242.8 102.6h1.2v1.2h-1.2zM242.5 100.5h1.2v1.2h-1.2zM242.5 96.4h1.2v1.2h-1.2zM239.3 88.0h1.2v1.2h-1.2zM238.2 86.4h1.2v1.2h-1.2zM232.5 90.0h1.2v1.2h-1.2zM240.1 90.3h1.2v1.2h-1.2zM242.8 91.8h1.2v1.2h-1.2zM231.0 90.0h1.2v1.2h-1.2zM255.6 110.6h1.2v1.2h-1.2zM255.5 109.5h1.2v1.2h-1.2zM255.5 108.5h1.2v1.2h-1.2zM255.4 107.5h1.2v1.2h-1.2zM255.6 106.5h1.2v1.2h-1.2zM255.6 105.4h1.2v1.2h-1.2zM255.5 104.4h1.2v1.2h-1.2zM255.3 103.4h1.2v1.2h-1.2zM255.7 102.3h1.2v1.2h-1.2zM255.5 101.3h1.2v1.2h-1.2zM255.4 100.3h1.2v1.2h-1.2zM255.6 98.2h1.2v1.2h-1.2zM255.7 95.1h1.2v1.2h-1.2zM255.5 94.1h1.2v1.2h-1.2zM255.4 88.9h1.2v1.2h-1.2zM256.4 104.0h1.2v1.2h-1.2zM256.3 102.9h1.2v1.2h-1.2zM256.6 101.9h1.2v1.2h-1.2zM256.6 100.9h1.2v1.2h-1.2zM256.4 99.8h1.2v1.2h-1.2zM256.6 98.8h1.2v1.2h-1.2zM256.4 96.7h1.2v1.2h-1.2zM256.3 94.7h1.2v1.2h-1.2zM256.7 92.6h1.2v1.2h-1.2zM256.6 91.6h1.2v1.2h-1.2zM257.6 106.7h1.2v1.2h-1.2zM257.7 105.7h1.2v1.2h-1.2zM257.5 104.6h1.2v1.2h-1.2zM257.3 103.6h1.2v1.2h-1.2zM257.6 102.6h1.2v1.2h-1.2zM257.6 101.5h1.2v1.2h-1.2zM257.5 100.5h1.2v1.2h-1.2zM257.5 99.5h1.2v1.2h-1.2zM258.3 106.3h1.2v1.2h-1.2zM258.5 105.2h1.2v1.2h-1.2zM258.4 104.2h1.2v1.2h-1.2zM258.4 103.2h1.2v1.2h-1.2zM258.3 102.2h1.2v1.2h-1.2zM258.6 101.1h1.2v1.2h-1.2zM258.6 99.1h1.2v1.2h-1.2zM258.3 93.9h1.2v1.2h-1.2zM258.3 88.7h1.2v1.2h-1.2zM259.6 105.6h1.2v1.2h-1.2zM259.3 104.6h1.2v1.2h-1.2zM259.6 103.5h1.2v1.2h-1.2zM259.5 102.5h1.2v1.2h-1.2zM259.6 101.5h1.2v1.2h-1.2zM259.4 100.4h1.2v1.2h-1.2zM259.4 99.4h1.2v1.2h-1.2zM259.5 98.4h1.2v1.2h-1.2zM259.5 95.3h1.2v1.2h-1.2zM259.5 94.2h1.2v1.2h-1.2zM259.5 93.2h1.2v1.2h-1.2zM260.6 105.2h1.2v1.2h-1.2zM260.7 103.1h1.2v1.2h-1.2zM260.4 102.1h1.2v1.2h-1.2zM260.6 101.1h1.2v1.2h-1.2zM260.4 100.0h1.2v1.2h-1.2zM260.6 99.0h1.2v1.2h-1.2zM260.4 92.8h1.2v1.2h-1.2zM261.4 107.5h1.2v1.2h-1.2zM261.6 106.5h1.2v1.2h-1.2zM261.7 105.4h1.2v1.2h-1.2zM261.5 104.4h1.2v1.2h-1.2zM261.4 103.4h1.2v1.2h-1.2zM261.7 102.4h1.2v1.2h-1.2zM261.5 101.3h1.2v1.2h-1.2zM261.7 100.3h1.2v1.2h-1.2zM261.5 94.1h1.2v1.2h-1.2zM261.4 93.1h1.2v1.2h-1.2zM262.3 105.7h1.2v1.2h-1.2zM262.6 104.6h1.2v1.2h-1.2zM262.6 103.6h1.2v1.2h-1.2zM262.4 102.6h1.2v1.2h-1.2zM262.6 101.5h1.2v1.2h-1.2zM262.4 100.5h1.2v1.2h-1.2zM262.3 99.5h1.2v1.2h-1.2zM262.4 98.4h1.2v1.2h-1.2zM262.6 93.3h1.2v1.2h-1.2zM262.6 91.2h1.2v1.2h-1.2zM263.4 107.9h1.2v1.2h-1.2zM263.4 106.9h1.2v1.2h-1.2zM263.6 105.8h1.2v1.2h-1.2zM263.5 104.8h1.2v1.2h-1.2zM263.4 103.8h1.2v1.2h-1.2zM263.6 102.7h1.2v1.2h-1.2zM263.5 101.7h1.2v1.2h-1.2zM263.7 100.7h1.2v1.2h-1.2zM263.5 96.5h1.2v1.2h-1.2zM261.6 86.4h1.2v1.2h-1.2zM257.3 88.6h1.2v1.2h-1.2zM262.0 86.8h1.2v1.2h-1.2zM263.3 91.6h1.2v1.2h-1.2zM262.1 92.0h1.2v1.2h-1.2zM260.7 88.1h1.2v1.2h-1.2zM255.7 89.3h1.2v1.2h-1.2zM274.9 108.8h1.2v1.2h-1.2zM274.6 107.7h1.2v1.2h-1.2zM274.6 106.7h1.2v1.2h-1.2zM274.6 103.6h1.2v1.2h-1.2zM274.7 102.6h1.2v1.2h-1.2zM274.8 101.5h1.2v1.2h-1.2zM274.5 99.5h1.2v1.2h-1.2zM274.6 98.4h1.2v1.2h-1.2zM274.7 97.4h1.2v1.2h-1.2zM275.5 107.7h1.2v1.2h-1.2zM275.8 106.6h1.2v1.2h-1.2zM275.5 105.6h1.2v1.2h-1.2zM275.6 101.5h1.2v1.2h-1.2zM276.9 109.2h1.2v1.2h-1.2zM276.7 108.2h1.2v1.2h-1.2zM276.7 107.1h1.2v1.2h-1.2zM276.5 106.1h1.2v1.2h-1.2zM276.9 104.0h1.2v1.2h-1.2zM276.6 103.0h1.2v1.2h-1.2zM276.8 102.0h1.2v1.2h-1.2zM276.7 100.9h1.2v1.2h-1.2zM276.8 99.9h1.2v1.2h-1.2zM276.7 97.8h1.2v1.2h-1.2zM277.7 106.6h1.2v1.2h-1.2zM277.7 105.6h1.2v1.2h-1.2zM277.9 103.5h1.2v1.2h-1.2zM277.9 102.5h1.2v1.2h-1.2zM277.8 97.3h1.2v1.2h-1.2zM278.8 108.3h1.2v1.2h-1.2zM278.8 107.2h1.2v1.2h-1.2zM278.8 106.2h1.2v1.2h-1.2zM278.8 105.2h1.2v1.2h-1.2zM278.5 103.1h1.2v1.2h-1.2zM278.8 101.0h1.2v1.2h-1.2zM279.7 107.6h1.2v1.2h-1.2zM279.6 106.6h1.2v1.2h-1.2zM279.8 105.6h1.2v1.2h-1.2zM279.7 104.5h1.2v1.2h-1.2zM279.6 103.5h1.2v1.2h-1.2zM279.6 102.5h1.2v1.2h-1.2zM279.6 101.4h1.2v1.2h-1.2zM279.6 100.4h1.2v1.2h-1.2zM279.8 99.4h1.2v1.2h-1.2zM279.8 98.3h1.2v1.2h-1.2zM279.8 95.2h1.2v1.2h-1.2zM279.9 89.0h1.2v1.2h-1.2zM279.7 82.8h1.2v1.2h-1.2zM280.8 107.8h1.2v1.2h-1.2zM280.8 106.8h1.2v1.2h-1.2zM280.6 105.7h1.2v1.2h-1.2zM280.5 104.7h1.2v1.2h-1.2zM280.7 103.7h1.2v1.2h-1.2zM280.6 101.6h1.2v1.2h-1.2zM280.5 96.5h1.2v1.2h-1.2zM280.8 92.3h1.2v1.2h-1.2zM280.9 91.3h1.2v1.2h-1.2zM279.7 87.6h1.2v1.2h-1.2zM278.5 89.1h1.2v1.2h-1.2zM279.0 89.3h1.2v1.2h-1.2zM276.4 90.1h1.2v1.2h-1.2zM291.8 108.0h1.2v1.2h-1.2zM291.7 107.0h1.2v1.2h-1.2zM291.7 105.9h1.2v1.2h-1.2zM291.8 103.9h1.2v1.2h-1.2zM291.5 101.8h1.2v1.2h-1.2zM291.8 99.7h1.2v1.2h-1.2zM291.7 96.6h1.2v1.2h-1.2zM291.5 94.6h1.2v1.2h-1.2zM292.6 109.8h1.2v1.2h-1.2zM292.6 108.8h1.2v1.2h-1.2zM292.7 107.7h1.2v1.2h-1.2zM292.6 106.7h1.2v1.2h-1.2zM292.5 105.7h1.2v1.2h-1.2zM292.5 104.6h1.2v1.2h-1.2zM292.6 97.4h1.2v1.2h-1.2zM293.5 106.5h1.2v1.2h-1.2zM293.6 105.5h1.2v1.2h-1.2zM293.6 104.5h1.2v1.2h-1.2zM293.6 103.4h1.2v1.2h-1.2zM293.8 102.4h1.2v1.2h-1.2zM293.7 101.4h1.2v1.2h-1.2zM293.8 100.3h1.2v1.2h-1.2zM293.8 99.3h1.2v1.2h-1.2zM293.6 96.2h1.2v1.2h-1.2zM293.7 89.0h1.2v1.2h-1.2zM294.8 108.8h1.2v1.2h-1.2zM294.9 107.7h1.2v1.2h-1.2zM294.6 106.7h1.2v1.2h-1.2zM294.6 105.7h1.2v1.2h-1.2zM294.9 104.6h1.2v1.2h-1.2zM294.7 103.6h1.2v1.2h-1.2zM294.6 101.5h1.2v1.2h-1.2zM294.6 96.4h1.2v1.2h-1.2zM294.8 91.2h1.2v1.2h-1.2zM295.6 107.3h1.2v1.2h-1.2zM295.9 105.2h1.2v1.2h-1.2zM295.7 104.2h1.2v1.2h-1.2zM295.8 103.2h1.2v1.2h-1.2zM295.8 102.1h1.2v1.2h-1.2zM295.7 101.1h1.2v1.2h-1.2zM295.9 100.1h1.2v1.2h-1.2zM296.8 109.5h1.2v1.2h-1.2zM296.7 108.5h1.2v1.2h-1.2zM296.8 106.4h1.2v1.2h-1.2zM296.7 105.4h1.2v1.2h-1.2zM296.9 104.4h1.2v1.2h-1.2zM296.7 103.3h1.2v1.2h-1.2zM296.8 102.3h1.2v1.2h-1.2zM296.7 101.3h1.2v1.2h-1.2zM296.7 100.2h1.2v1.2h-1.2zM296.7 99.2h1.2v1.2h-1.2zM296.5 96.1h1.2v1.2h-1.2zM296.5 92.0h1.2v1.2h-1.2zM296.9 90.9h1.2v1.2h-1.2zM291.8 91.8h1.2v1.2h-1.2zM291.8 91.8h1.2v1.2h-1.2zM292.5 93.4h1.2v1.2h-1.2zM296.0 91.9h1.2v1.2h-1.2zM304.2 106.0h1.2v1.2h-1.2zM304.5 103.9h1.2v1.2h-1.2zM304.4 102.9h1.2v1.2h-1.2zM304.3 101.9h1.2v1.2h-1.2zM304.3 100.8h1.2v1.2h-1.2zM304.4 96.7h1.2v1.2h-1.2zM304.4 92.6h1.2v1.2h-1.2zM305.3 105.0h1.2v1.2h-1.2zM305.6 104.0h1.2v1.2h-1.2zM305.4 102.9h1.2v1.2h-1.2zM305.4 101.9h1.2v1.2h-1.2zM305.3 100.9h1.2v1.2h-1.2zM305.4 99.8h1.2v1.2h-1.2zM305.2 98.8h1.2v1.2h-1.2zM305.4 96.7h1.2v1.2h-1.2zM306.6 105.4h1.2v1.2h-1.2zM306.2 104.4h1.2v1.2h-1.2zM306.4 103.4h1.2v1.2h-1.2zM306.3 102.3h1.2v1.2h-1.2zM306.5 101.3h1.2v1.2h-1.2zM306.5 100.3h1.2v1.2h-1.2zM306.3 99.2h1.2v1.2h-1.2zM306.5 98.2h1.2v1.2h-1.2zM306.6 97.2h1.2v1.2h-1.2zM306.3 96.1h1.2v1.2h-1.2zM306.5 95.1h1.2v1.2h-1.2zM306.6 94.1h1.2v1.2h-1.2zM306.2 93.0h1.2v1.2h-1.2zM306.3 92.0h1.2v1.2h-1.2zM306.4 91.0h1.2v1.2h-1.2zM307.3 107.3h1.2v1.2h-1.2zM307.5 106.3h1.2v1.2h-1.2zM307.2 105.3h1.2v1.2h-1.2zM307.3 102.2h1.2v1.2h-1.2zM307.6 97.0h1.2v1.2h-1.2zM307.4 96.0h1.2v1.2h-1.2zM308.4 108.2h1.2v1.2h-1.2zM308.3 107.1h1.2v1.2h-1.2zM308.3 106.1h1.2v1.2h-1.2zM308.5 105.1h1.2v1.2h-1.2zM308.3 104.0h1.2v1.2h-1.2zM308.2 103.0h1.2v1.2h-1.2zM308.6 102.0h1.2v1.2h-1.2zM308.6 99.9h1.2v1.2h-1.2zM308.3 98.9h1.2v1.2h-1.2zM308.2 94.7h1.2v1.2h-1.2zM308.3 93.7h1.2v1.2h-1.2zM308.4 92.7h1.2v1.2h-1.2zM308.2 87.5h1.2v1.2h-1.2zM309.5 108.8h1.2v1.2h-1.2zM309.6 106.8h1.2v1.2h-1.2zM309.4 104.7h1.2v1.2h-1.2zM309.5 103.7h1.2v1.2h-1.2zM309.3 102.7h1.2v1.2h-1.2zM309.4 97.5h1.2v1.2h-1.2zM309.4 95.4h1.2v1.2h-1.2zM308.2 90.3h1.2v1.2h-1.2zM308.5 90.6h1.2v1.2h-1.2zM305.4 92.3h1.2v1.2h-1.2zM307.4 91.9h1.2v1.2h-1.2zM305.7 91.0h1.2v1.2h-1.2zM315.4 106.5h1.2v1.2h-1.2zM315.4 105.5h1.2v1.2h-1.2zM315.7 104.4h1.2v1.2h-1.2zM315.5 102.4h1.2v1.2h-1.2zM315.4 97.2h1.2v1.2h-1.2zM316.4 108.0h1.2v1.2h-1.2zM316.6 107.0h1.2v1.2h-1.2zM316.5 105.9h1.2v1.2h-1.2zM316.4 104.9h1.2v1.2h-1.2zM316.6 103.9h1.2v1.2h-1.2zM316.5 102.8h1.2v1.2h-1.2zM316.6 101.8h1.2v1.2h-1.2zM316.7 97.7h1.2v1.2h-1.2zM316.5 93.5h1.2v1.2h-1.2zM317.7 106.2h1.2v1.2h-1.2zM317.5 105.2h1.2v1.2h-1.2zM317.5 104.1h1.2v1.2h-1.2zM317.4 103.1h1.2v1.2h-1.2zM317.6 102.1h1.2v1.2h-1.2zM317.5 100.0h1.2v1.2h-1.2zM317.6 99.0h1.2v1.2h-1.2zM317.7 97.9h1.2v1.2h-1.2zM317.4 95.9h1.2v1.2h-1.2zM317.6 94.8h1.2v1.2h-1.2zM317.5 91.7h1.2v1.2h-1.2zM316.8 90.6h1.2v1.2h-1.2zM318.2 87.8h1.2v1.2h-1.2zM316.2 87.4h1.2v1.2h-1.2zM71.8 78.4h1.2v1.2h-1.2zM72.9 80.6h1.2v1.2h-1.2zM77.3 82.8h1.2v1.2h-1.2zM80.1 84.7h1.2v1.2h-1.2zM79.2 87.4h1.2v1.2h-1.2zM67.3 86.1h1.2v1.2h-1.2zM87.5 84.7h1.2v1.2h-1.2zM111.4 77.9h1.2v1.2h-1.2zM114.9 80.6h1.2v1.2h-1.2zM112.2 87.5h1.2v1.2h-1.2zM125.1 66.9h1.2v1.2h-1.2zM125.1 70.2h1.2v1.2h-1.2zM125.1 73.7h1.2v1.2h-1.2zM125.1 78.4h1.2v1.2h-1.2zM125.1 84.7h1.2v1.2h-1.2zM125.8 88.9h1.2v1.2h-1.2zM154.1 72.4h1.2v1.2h-1.2zM156.9 72.9h1.2v1.2h-1.2zM147.3 80.6h1.2v1.2h-1.2zM155.5 82.0h1.2v1.2h-1.2zM155.5 90.2h1.2v1.2h-1.2zM178.9 71.8h1.2v1.2h-1.2zM178.9 73.7h1.2v1.2h-1.2zM178.9 75.7h1.2v1.2h-1.2zM186.5 83.4h1.2v1.2h-1.2zM188.5 86.7h1.2v1.2h-1.2zM188.4 90.2h1.2v1.2h-1.2zM207.7 82.0h1.2v1.2h-1.2zM231.8 66.9h1.2v1.2h-1.2zM231.8 69.1h1.2v1.2h-1.2zM233.7 74.6h1.2v1.2h-1.2zM234.5 77.9h1.2v1.2h-1.2zM241.4 86.1h1.2v1.2h-1.2zM263.4 80.1h1.2v1.2h-1.2zM263.4 83.4h1.2v1.2h-1.2zM259.2 87.5h1.2v1.2h-1.2zM280.6 82.0h1.2v1.2h-1.2zM293.7 80.1h1.2v1.2h-1.2zM317.6 82.0h1.2v1.2h-1.2zM275.7 90.2h1.2v1.2h-1.2z"/>
<path fill="#b0dfb0" d="M148.7 91.4h1.2v1.2h-1.2zM148.7 89.1h1.2v1.2h-1.2zM148.7 86.9h1.2v1.2h-1.2zM148.7 85.5h1.2v1.2h-1.2zM148.7 84.0h1.2v1.2h-1.2zM148.7 82.5h1.2v1.2h-1.2zM148.7 81.0h1.2v1.2h-1.2zM148.7 79.6h1.2v1.2h-1.2zM148.7 78.1h1.2v1.2h-1.2zM148.7 76.6h1.2v1.2h-1.2zM148.7 75.1h1.2v1.2h-1.2zM148.7 73.7h1.2v1.2h-1.2zM148.7 72.2h1.2v1.2h-1.2zM148.7 70.7h1.2v1.2h-1.2zM148.7 69.2h1.2v1.2h-1.2zM148.7 67.8h1.2v1.2h-1.2zM148.7 66.3h1.2v1.2h-1.2zM148.7 64.1h1.2v1.2h-1.2zM148.7 61.9h1.2v1.2h-1.2zM148.7 58.9h1.2v1.2h-1.2zM148.7 57.4h1.2v1.2h-1.2zM148.7 55.2h1.2v1.2h-1.2z"/>
<path fill="#e8241c" d="M148.6 30.6h1.5v4.2h-1.5zM148.6 37.2h1.5v5h-1.5zM148.6 45.4h1.5v2.7h-1.5zM148.7 17.9h1.3v1.4h-1.3z"/>
<rect x="270.9" y="49.5" width="1.5" height="1.5" fill="#e8241c"/>
<line x1="38.5" y1="51.9" x2="340" y2="51.9" stroke="#ececec" stroke-width="0.8"/>
<rect x="38.2" y="7.5" width="302" height="128.8" fill="none" stroke="#707070" stroke-width="0.9"/>
<rect x="38.1" y="7" width="1.1" height="130" fill="#cfcfcf"/>
<line x1="37.8" y1="7" x2="37.8" y2="136.7" stroke="#8a8a8a" stroke-width="0.7"/>
<line x1="34.6" y1="130.3" x2="37.8" y2="130.3" stroke="#444" stroke-width="0.6"/>
<text x="32.3" y="132.6" font-size="6.6" text-anchor="end" font-family="Liberation Sans, sans-serif" stroke="#1a1a1a" stroke-width="0.18">2</text>
<line x1="34.6" y1="100.8" x2="37.8" y2="100.8" stroke="#444" stroke-width="0.6"/>
<text x="32.3" y="103.1" font-size="6.6" text-anchor="end" font-family="Liberation Sans, sans-serif" stroke="#1a1a1a" stroke-width="0.18">4</text>
<line x1="34.6" y1="71.3" x2="37.8" y2="71.3" stroke="#444" stroke-width="0.6"/>
<text x="32.3" y="73.6" font-size="6.6" text-anchor="end" font-family="Liberation Sans, sans-serif" stroke="#1a1a1a" stroke-width="0.18">6</text>
<line x1="34.6" y1="41.8" x2="37.8" y2="41.8" stroke="#444" stroke-width="0.6"/>
<text x="32.3" y="44.1" font-size="6.6" text-anchor="end" font-family="Liberation Sans, sans-serif" stroke="#1a1a1a" stroke-width="0.18">8</text>
<line x1="34.6" y1="12.3" x2="37.8" y2="12.3" stroke="#444" stroke-width="0.6"/>
<text x="32.3" y="14.6" font-size="6.6" text-anchor="end" font-family="Liberation Sans, sans-serif" stroke="#1a1a1a" stroke-width="0.18">10</text>
<text transform="translate(18.3,72.3) rotate(-90)" font-size="6.6" text-anchor="middle" font-family="Liberation Sans, sans-serif" stroke="#1a1a1a" stroke-width="0.18">−log<tspan font-size="3.8" dy="1.3">10</tspan><tspan dy="-1.3">[</tspan><tspan font-style="italic">P</tspan>]</text>
<text x="55.6" y="144.4" font-size="6.6" text-anchor="middle" font-family="Liberation Sans, sans-serif" stroke="#1a1a1a" stroke-width="0.18">1</text>
<text x="79.7" y="144.4" font-size="6.6" text-anchor="middle" font-family="Liberation Sans, sans-serif" stroke="#1a1a1a" stroke-width="0.18">2</text>
<text x="100.3" y="144.4" font-size="6.6" text-anchor="middle" font-family="Liberation Sans, sans-serif" stroke="#1a1a1a" stroke-width="0.18">3</text>
<text x="118.3" y="144.4" font-size="6.6" text-anchor="middle" font-family="Liberation Sans, sans-serif" stroke="#1a1a1a" stroke-width="0.18">4</text>
<text x="135.8" y="144.4" font-size="6.6" text-anchor="middle" font-family="Liberation Sans, sans-serif" stroke="#1a1a1a" stroke-width="0.18">5</text>
<text x="153.8" y="144.4" font-size="6.6" text-anchor="middle" font-family="Liberation Sans, sans-serif" stroke="#1a1a1a" stroke-width="0.18">6</text>
<text x="169.2" y="144.4" font-size="6.6" text-anchor="middle" font-family="Liberation Sans, sans-serif" stroke="#1a1a1a" stroke-width="0.18">7</text>
<text x="183.7" y="144.4" font-size="6.6" text-anchor="middle" font-family="Liberation Sans, sans-serif" stroke="#1a1a1a" stroke-width="0.18">8</text>
<text x="197.7" y="144.4" font-size="6.6" text-anchor="middle" font-family="Liberation Sans, sans-serif" stroke="#1a1a1a" stroke-width="0.18">9</text>
<text x="211.5" y="144.4" font-size="6.6" text-anchor="middle" font-family="Liberation Sans, sans-serif" stroke="#1a1a1a" stroke-width="0.18">10</text>
<text x="223.0" y="144.4" font-size="6.6" text-anchor="middle" font-family="Liberation Sans, sans-serif" stroke="#1a1a1a" stroke-width="0.18">11</text>
<text x="237.0" y="144.4" font-size="6.6" text-anchor="middle" font-family="Liberation Sans, sans-serif" stroke="#1a1a1a" stroke-width="0.18">12</text>
<text x="259.2" y="144.4" font-size="6.6" text-anchor="middle" font-family="Liberation Sans, sans-serif" stroke="#1a1a1a" stroke-width="0.18">14</text>
<text x="278.0" y="144.4" font-size="6.6" text-anchor="middle" font-family="Liberation Sans, sans-serif" stroke="#1a1a1a" stroke-width="0.18">16</text>
<text x="294.4" y="144.4" font-size="6.6" text-anchor="middle" font-family="Liberation Sans, sans-serif" stroke="#1a1a1a" stroke-width="0.18">18</text>
<text x="307.5" y="144.4" font-size="6.6" text-anchor="middle" font-family="Liberation Sans, sans-serif" stroke="#1a1a1a" stroke-width="0.18">20</text>
<text x="318.0" y="144.4" font-size="6.6" text-anchor="middle" font-family="Liberation Sans, sans-serif" stroke="#1a1a1a" stroke-width="0.18">22</text>
<text x="327.4" y="144.4" font-size="6.6" text-anchor="middle" font-family="Liberation Sans, sans-serif" stroke="#1a1a1a" stroke-width="0.18">X</text>
<text x="193" y="156" font-size="6.6" text-anchor="middle" font-family="Liberation Sans, sans-serif" stroke="#1a1a1a" stroke-width="0.18">Chromosome</text>
<text x="148.6" y="17" font-size="6.6" text-anchor="middle" font-style="italic" font-family="Liberation Sans, sans-serif" stroke="#1a1a1a" stroke-width="0.18">GLP1R</text>
<text x="-0.6" y="7.7" font-size="11.5" font-weight="bold" stroke="#000" stroke-width="0.45" font-family="Liberation Sans, sans-serif">a</text>
<defs><clipPath id="cb"><rect x="376.8" y="7" width="283.4" height="194.5"/></clipPath></defs>
<g clip-path="url(#cb)">
<path d="M516.0 192.2h3.6m-1.8-1.8v3.6M545.5 179.9h3.6m-1.8-1.8v3.6M435.7 181.7h3.6m-1.8-1.8v3.6M438.3 186.3h3.6m-1.8-1.8v3.6M389.4 190.8h3.6m-1.8-1.8v3.6M608.1 178.8h3.6m-1.8-1.8v3.6M563.8 163.5h3.6m-1.8-1.8v3.6M543.9 190.1h3.6m-1.8-1.8v3.6M442.4 193.2h3.6m-1.8-1.8v3.6M486.4 183.7h3.6m-1.8-1.8v3.6M609.7 178.3h3.6m-1.8-1.8v3.6M611.3 191.1h3.6m-1.8-1.8v3.6M431.5 192.7h3.6m-1.8-1.8v3.6M433.4 193.6h3.6m-1.8-1.8v3.6M603.7 163.5h3.6m-1.8-1.8v3.6M396.4 189.9h3.6m-1.8-1.8v3.6M481.5 181.4h3.6m-1.8-1.8v3.6M525.6 190.3h3.6m-1.8-1.8v3.6M408.2 178.1h3.6m-1.8-1.8v3.6M386.5 184.3h3.6m-1.8-1.8v3.6M451.0 184.6h3.6m-1.8-1.8v3.6M450.2 191.9h3.6m-1.8-1.8v3.6M604.8 191.3h3.6m-1.8-1.8v3.6M604.7 187.1h3.6m-1.8-1.8v3.6M637.9 161.0h3.6m-1.8-1.8v3.6M460.4 185.5h3.6m-1.8-1.8v3.6M613.1 183.9h3.6m-1.8-1.8v3.6M521.1 174.3h3.6m-1.8-1.8v3.6M412.8 192.6h3.6m-1.8-1.8v3.6M402.7 160.6h3.6m-1.8-1.8v3.6M601.1 184.3h3.6m-1.8-1.8v3.6M439.3 175.6h3.6m-1.8-1.8v3.6M490.3 178.7h3.6m-1.8-1.8v3.6M657.5 185.9h3.6m-1.8-1.8v3.6M609.1 189.4h3.6m-1.8-1.8v3.6M510.7 188.6h3.6m-1.8-1.8v3.6M594.0 182.6h3.6m-1.8-1.8v3.6M461.3 190.3h3.6m-1.8-1.8v3.6M594.6 182.9h3.6m-1.8-1.8v3.6M424.9 179.3h3.6m-1.8-1.8v3.6M597.3 182.6h3.6m-1.8-1.8v3.6M423.9 190.0h3.6m-1.8-1.8v3.6M380.9 186.3h3.6m-1.8-1.8v3.6M573.5 178.8h3.6m-1.8-1.8v3.6M638.4 188.7h3.6m-1.8-1.8v3.6M410.2 191.0h3.6m-1.8-1.8v3.6M647.2 184.8h3.6m-1.8-1.8v3.6M391.9 176.4h3.6m-1.8-1.8v3.6M593.1 188.4h3.6m-1.8-1.8v3.6M414.4 188.1h3.6m-1.8-1.8v3.6M537.2 189.1h3.6m-1.8-1.8v3.6M412.9 186.3h3.6m-1.8-1.8v3.6M501.9 190.0h3.6m-1.8-1.8v3.6M410.4 182.5h3.6m-1.8-1.8v3.6M570.0 184.4h3.6m-1.8-1.8v3.6M431.2 174.8h3.6m-1.8-1.8v3.6M505.1 186.6h3.6m-1.8-1.8v3.6M652.8 179.8h3.6m-1.8-1.8v3.6M410.8 188.3h3.6m-1.8-1.8v3.6M441.8 186.3h3.6m-1.8-1.8v3.6M557.5 178.9h3.6m-1.8-1.8v3.6M419.5 175.2h3.6m-1.8-1.8v3.6M599.6 188.6h3.6m-1.8-1.8v3.6M628.4 181.1h3.6m-1.8-1.8v3.6M523.3 177.3h3.6m-1.8-1.8v3.6M584.9 162.7h3.6m-1.8-1.8v3.6M459.9 172.3h3.6m-1.8-1.8v3.6M626.7 186.1h3.6m-1.8-1.8v3.6M643.3 190.0h3.6m-1.8-1.8v3.6M424.3 186.0h3.6m-1.8-1.8v3.6M483.9 192.1h3.6m-1.8-1.8v3.6M472.3 191.8h3.6m-1.8-1.8v3.6M511.7 169.6h3.6m-1.8-1.8v3.6M642.9 171.9h3.6m-1.8-1.8v3.6M381.7 191.2h3.6m-1.8-1.8v3.6M613.8 190.6h3.6m-1.8-1.8v3.6M590.1 185.2h3.6m-1.8-1.8v3.6M411.8 183.5h3.6m-1.8-1.8v3.6M576.4 177.1h3.6m-1.8-1.8v3.6M610.5 186.0h3.6m-1.8-1.8v3.6M472.9 174.9h3.6m-1.8-1.8v3.6M395.9 190.3h3.6m-1.8-1.8v3.6M380.2 192.0h3.6m-1.8-1.8v3.6M503.0 193.1h3.6m-1.8-1.8v3.6M630.5 176.9h3.6m-1.8-1.8v3.6M528.9 157.7h3.6m-1.8-1.8v3.6M485.1 193.1h3.6m-1.8-1.8v3.6M599.5 187.9h3.6m-1.8-1.8v3.6M421.8 177.8h3.6m-1.8-1.8v3.6M445.9 160.5h3.6m-1.8-1.8v3.6M434.5 190.6h3.6m-1.8-1.8v3.6M637.9 188.9h3.6m-1.8-1.8v3.6M416.1 189.1h3.6m-1.8-1.8v3.6M493.6 182.0h3.6m-1.8-1.8v3.6M443.4 186.0h3.6m-1.8-1.8v3.6M423.5 193.3h3.6m-1.8-1.8v3.6M377.1 191.9h3.6m-1.8-1.8v3.6M511.2 170.3h3.6m-1.8-1.8v3.6M462.2 185.8h3.6m-1.8-1.8v3.6M466.4 193.0h3.6m-1.8-1.8v3.6M416.1 187.4h3.6m-1.8-1.8v3.6M404.7 189.5h3.6m-1.8-1.8v3.6M519.9 184.7h3.6m-1.8-1.8v3.6M585.1 172.4h3.6m-1.8-1.8v3.6M435.7 190.7h3.6m-1.8-1.8v3.6M479.6 191.4h3.6m-1.8-1.8v3.6M426.6 175.2h3.6m-1.8-1.8v3.6M615.0 175.3h3.6m-1.8-1.8v3.6M439.6 176.7h3.6m-1.8-1.8v3.6M544.7 172.1h3.6m-1.8-1.8v3.6M495.7 152.2h3.6m-1.8-1.8v3.6M637.6 189.1h3.6m-1.8-1.8v3.6M389.3 189.7h3.6m-1.8-1.8v3.6M529.0 162.8h3.6m-1.8-1.8v3.6M442.7 163.5h3.6m-1.8-1.8v3.6M426.3 176.7h3.6m-1.8-1.8v3.6M641.2 185.0h3.6m-1.8-1.8v3.6M608.4 162.6h3.6m-1.8-1.8v3.6M478.1 184.5h3.6m-1.8-1.8v3.6M639.6 178.7h3.6m-1.8-1.8v3.6M431.1 178.0h3.6m-1.8-1.8v3.6M536.9 165.8h3.6m-1.8-1.8v3.6M500.8 181.6h3.6m-1.8-1.8v3.6M499.9 179.7h3.6m-1.8-1.8v3.6M624.8 162.5h3.6m-1.8-1.8v3.6M566.7 179.0h3.6m-1.8-1.8v3.6M443.6 188.6h3.6m-1.8-1.8v3.6M602.6 192.6h3.6m-1.8-1.8v3.6M406.3 191.1h3.6m-1.8-1.8v3.6M594.7 191.4h3.6m-1.8-1.8v3.6M541.1 185.8h3.6m-1.8-1.8v3.6M452.2 189.0h3.6m-1.8-1.8v3.6M605.3 181.2h3.6m-1.8-1.8v3.6M530.8 188.2h3.6m-1.8-1.8v3.6M565.1 161.5h3.6m-1.8-1.8v3.6M419.2 191.1h3.6m-1.8-1.8v3.6M429.2 181.2h3.6m-1.8-1.8v3.6M634.5 190.4h3.6m-1.8-1.8v3.6M482.0 192.5h3.6m-1.8-1.8v3.6M538.0 189.9h3.6m-1.8-1.8v3.6M453.7 174.1h3.6m-1.8-1.8v3.6M545.6 187.9h3.6m-1.8-1.8v3.6M590.8 190.8h3.6m-1.8-1.8v3.6M645.8 191.9h3.6m-1.8-1.8v3.6M385.2 176.7h3.6m-1.8-1.8v3.6M494.9 181.8h3.6m-1.8-1.8v3.6M457.0 178.0h3.6m-1.8-1.8v3.6M508.0 181.7h3.6m-1.8-1.8v3.6M622.4 177.8h3.6m-1.8-1.8v3.6M596.5 163.7h3.6m-1.8-1.8v3.6M565.8 190.8h3.6m-1.8-1.8v3.6M472.2 176.1h3.6m-1.8-1.8v3.6M462.9 170.9h3.6m-1.8-1.8v3.6M589.7 179.5h3.6m-1.8-1.8v3.6M394.2 193.4h3.6m-1.8-1.8v3.6M470.3 178.9h3.6m-1.8-1.8v3.6M501.9 172.6h3.6m-1.8-1.8v3.6M480.9 191.9h3.6m-1.8-1.8v3.6M638.9 191.8h3.6m-1.8-1.8v3.6M611.3 193.4h3.6m-1.8-1.8v3.6M433.8 190.5h3.6m-1.8-1.8v3.6M577.0 165.3h3.6m-1.8-1.8v3.6M574.2 176.1h3.6m-1.8-1.8v3.6M398.0 160.6h3.6m-1.8-1.8v3.6M395.2 190.8h3.6m-1.8-1.8v3.6M424.0 190.3h3.6m-1.8-1.8v3.6M401.6 184.0h3.6m-1.8-1.8v3.6M615.0 192.2h3.6m-1.8-1.8v3.6M396.1 190.0h3.6m-1.8-1.8v3.6M469.2 158.5h3.6m-1.8-1.8v3.6M564.5 189.5h3.6m-1.8-1.8v3.6M569.1 165.0h3.6m-1.8-1.8v3.6M612.7 189.5h3.6m-1.8-1.8v3.6M560.8 176.2h3.6m-1.8-1.8v3.6M431.4 189.4h3.6m-1.8-1.8v3.6M518.9 165.5h3.6m-1.8-1.8v3.6M496.5 190.0h3.6m-1.8-1.8v3.6M542.0 172.1h3.6m-1.8-1.8v3.6M533.5 178.9h3.6m-1.8-1.8v3.6M648.8 189.9h3.6m-1.8-1.8v3.6M634.6 178.5h3.6m-1.8-1.8v3.6M417.1 177.1h3.6m-1.8-1.8v3.6M413.0 192.1h3.6m-1.8-1.8v3.6M493.0 177.6h3.6m-1.8-1.8v3.6M497.0 186.1h3.6m-1.8-1.8v3.6M483.8 192.6h3.6m-1.8-1.8v3.6M448.0 179.9h3.6m-1.8-1.8v3.6M569.5 186.1h3.6m-1.8-1.8v3.6M429.1 176.7h3.6m-1.8-1.8v3.6M541.7 184.1h3.6m-1.8-1.8v3.6M514.9 186.0h3.6m-1.8-1.8v3.6M497.3 165.5h3.6m-1.8-1.8v3.6M457.1 189.1h3.6m-1.8-1.8v3.6M644.9 191.6h3.6m-1.8-1.8v3.6M379.1 185.3h3.6m-1.8-1.8v3.6M379.7 191.5h3.6m-1.8-1.8v3.6M509.6 191.8h3.6m-1.8-1.8v3.6M467.3 191.0h3.6m-1.8-1.8v3.6M545.1 184.2h3.6m-1.8-1.8v3.6M576.2 191.5h3.6m-1.8-1.8v3.6M555.7 167.0h3.6m-1.8-1.8v3.6M612.3 189.1h3.6m-1.8-1.8v3.6M605.5 171.5h3.6m-1.8-1.8v3.6M637.1 189.7h3.6m-1.8-1.8v3.6M476.7 179.9h3.6m-1.8-1.8v3.6M422.9 192.5h3.6m-1.8-1.8v3.6M385.9 164.0h3.6m-1.8-1.8v3.6M496.3 189.6h3.6m-1.8-1.8v3.6M518.9 175.3h3.6m-1.8-1.8v3.6M506.6 183.2h3.6m-1.8-1.8v3.6M575.5 183.3h3.6m-1.8-1.8v3.6M463.3 165.5h3.6m-1.8-1.8v3.6M422.7 177.1h3.6m-1.8-1.8v3.6M615.1 177.5h3.6m-1.8-1.8v3.6M504.7 182.3h3.6m-1.8-1.8v3.6M550.1 162.5h3.6m-1.8-1.8v3.6M464.9 176.3h3.6m-1.8-1.8v3.6M568.9 190.9h3.6m-1.8-1.8v3.6M460.6 158.2h3.6m-1.8-1.8v3.6M485.1 164.8h3.6m-1.8-1.8v3.6M586.7 192.4h3.6m-1.8-1.8v3.6M505.6 189.3h3.6m-1.8-1.8v3.6M403.9 184.0h3.6m-1.8-1.8v3.6M411.1 173.8h3.6m-1.8-1.8v3.6M550.3 190.2h3.6m-1.8-1.8v3.6M467.7 192.8h3.6m-1.8-1.8v3.6M515.8 180.5h3.6m-1.8-1.8v3.6M415.8 184.3h3.6m-1.8-1.8v3.6M569.8 189.4h3.6m-1.8-1.8v3.6M411.1 186.6h3.6m-1.8-1.8v3.6M600.8 187.2h3.6m-1.8-1.8v3.6M586.2 192.1h3.6m-1.8-1.8v3.6M650.4 174.7h3.6m-1.8-1.8v3.6M455.7 189.3h3.6m-1.8-1.8v3.6M597.9 167.1h3.6m-1.8-1.8v3.6M488.5 165.0h3.6m-1.8-1.8v3.6M427.6 189.9h3.6m-1.8-1.8v3.6M654.3 173.4h3.6m-1.8-1.8v3.6M585.1 191.7h3.6m-1.8-1.8v3.6M520.8 191.7h3.6m-1.8-1.8v3.6M616.7 188.4h3.6m-1.8-1.8v3.6M435.6 184.5h3.6m-1.8-1.8v3.6M631.0 191.7h3.6m-1.8-1.8v3.6M502.2 189.7h3.6m-1.8-1.8v3.6M484.0 189.6h3.6m-1.8-1.8v3.6M466.3 177.6h3.6m-1.8-1.8v3.6M512.0 192.1h3.6m-1.8-1.8v3.6M522.0 190.8h3.6m-1.8-1.8v3.6M509.6 187.1h3.6m-1.8-1.8v3.6M583.4 191.7h3.6m-1.8-1.8v3.6M389.6 183.0h3.6m-1.8-1.8v3.6M533.0 187.2h3.6m-1.8-1.8v3.6M578.5 184.2h3.6m-1.8-1.8v3.6M440.2 185.0h3.6m-1.8-1.8v3.6M376.5 170.8h3.6m-1.8-1.8v3.6M654.5 168.4h3.6m-1.8-1.8v3.6M507.6 181.4h3.6m-1.8-1.8v3.6M494.0 190.8h3.6m-1.8-1.8v3.6M546.8 180.3h3.6m-1.8-1.8v3.6M418.8 182.5h3.6m-1.8-1.8v3.6M412.3 169.9h3.6m-1.8-1.8v3.6M553.9 183.7h3.6m-1.8-1.8v3.6M592.2 182.3h3.6m-1.8-1.8v3.6M545.6 165.8h3.6m-1.8-1.8v3.6M564.7 178.4h3.6m-1.8-1.8v3.6M545.9 187.7h3.6m-1.8-1.8v3.6M406.0 189.1h3.6m-1.8-1.8v3.6M649.6 178.3h3.6m-1.8-1.8v3.6M469.9 191.2h3.6m-1.8-1.8v3.6M466.7 159.1h3.6m-1.8-1.8v3.6M404.2 190.9h3.6m-1.8-1.8v3.6M515.1 187.6h3.6m-1.8-1.8v3.6M565.8 179.5h3.6m-1.8-1.8v3.6M567.6 179.4h3.6m-1.8-1.8v3.6M384.1 192.2h3.6m-1.8-1.8v3.6M644.5 179.2h3.6m-1.8-1.8v3.6M655.4 189.8h3.6m-1.8-1.8v3.6M381.5 180.0h3.6m-1.8-1.8v3.6M484.4 168.3h3.6m-1.8-1.8v3.6M516.3 190.1h3.6m-1.8-1.8v3.6M397.2 184.3h3.6m-1.8-1.8v3.6M428.7 191.4h3.6m-1.8-1.8v3.6M461.0 190.3h3.6m-1.8-1.8v3.6M523.4 189.8h3.6m-1.8-1.8v3.6M435.4 171.5h3.6m-1.8-1.8v3.6M648.2 181.7h3.6m-1.8-1.8v3.6M395.5 160.6h3.6m-1.8-1.8v3.6M386.1 193.3h3.6m-1.8-1.8v3.6M474.0 170.9h3.6m-1.8-1.8v3.6M467.8 177.5h3.6m-1.8-1.8v3.6M529.6 191.5h3.6m-1.8-1.8v3.6M635.4 176.7h3.6m-1.8-1.8v3.6M556.5 190.7h3.6m-1.8-1.8v3.6M510.2 171.3h3.6m-1.8-1.8v3.6M556.0 186.9h3.6m-1.8-1.8v3.6M379.0 189.7h3.6m-1.8-1.8v3.6M401.5 190.4h3.6m-1.8-1.8v3.6M656.9 179.3h3.6m-1.8-1.8v3.6M434.9 175.9h3.6m-1.8-1.8v3.6M617.1 187.9h3.6m-1.8-1.8v3.6M524.5 188.5h3.6m-1.8-1.8v3.6M581.0 160.8h3.6m-1.8-1.8v3.6M560.6 185.2h3.6m-1.8-1.8v3.6M541.2 178.0h3.6m-1.8-1.8v3.6M535.9 161.2h3.6m-1.8-1.8v3.6M501.8 192.3h3.6m-1.8-1.8v3.6M512.1 191.8h3.6m-1.8-1.8v3.6M408.5 178.5h3.6m-1.8-1.8v3.6M634.3 191.1h3.6m-1.8-1.8v3.6M513.1 192.4h3.6m-1.8-1.8v3.6M526.6 183.5h3.6m-1.8-1.8v3.6M394.4 182.9h3.6m-1.8-1.8v3.6M429.3 177.7h3.6m-1.8-1.8v3.6M627.4 184.3h3.6m-1.8-1.8v3.6M587.5 181.3h3.6m-1.8-1.8v3.6M481.0 180.9h3.6m-1.8-1.8v3.6M541.0 186.5h3.6m-1.8-1.8v3.6M474.6 185.5h3.6m-1.8-1.8v3.6M500.3 188.0h3.6m-1.8-1.8v3.6M552.5 175.9h3.6m-1.8-1.8v3.6M559.2 182.5h3.6m-1.8-1.8v3.6M563.1 192.5h3.6m-1.8-1.8v3.6M478.3 182.6h3.6m-1.8-1.8v3.6M637.5 182.2h3.6m-1.8-1.8v3.6M474.7 177.0h3.6m-1.8-1.8v3.6M625.8 185.4h3.6m-1.8-1.8v3.6M571.2 176.7h3.6m-1.8-1.8v3.6M409.8 191.1h3.6m-1.8-1.8v3.6M439.6 176.7h3.6m-1.8-1.8v3.6M525.2 186.8h3.6m-1.8-1.8v3.6M439.4 190.5h3.6m-1.8-1.8v3.6M651.5 186.9h3.6m-1.8-1.8v3.6M406.5 160.6h3.6m-1.8-1.8v3.6M402.5 173.9h3.6m-1.8-1.8v3.6M653.9 185.7h3.6m-1.8-1.8v3.6M378.1 188.9h3.6m-1.8-1.8v3.6M624.6 178.5h3.6m-1.8-1.8v3.6M469.9 172.9h3.6m-1.8-1.8v3.6M639.4 186.9h3.6m-1.8-1.8v3.6M450.0 191.0h3.6m-1.8-1.8v3.6M460.2 179.5h3.6m-1.8-1.8v3.6M377.6 184.5h3.6m-1.8-1.8v3.6M420.4 189.4h3.6m-1.8-1.8v3.6M585.6 189.9h3.6m-1.8-1.8v3.6M463.9 193.1h3.6m-1.8-1.8v3.6M433.4 192.3h3.6m-1.8-1.8v3.6M649.9 186.4h3.6m-1.8-1.8v3.6M588.4 193.3h3.6m-1.8-1.8v3.6M621.5 189.9h3.6m-1.8-1.8v3.6M427.6 177.0h3.6m-1.8-1.8v3.6M488.4 185.3h3.6m-1.8-1.8v3.6M433.3 187.2h3.6m-1.8-1.8v3.6M446.4 177.3h3.6m-1.8-1.8v3.6M484.8 192.2h3.6m-1.8-1.8v3.6M647.9 182.2h3.6m-1.8-1.8v3.6M430.0 179.1h3.6m-1.8-1.8v3.6M651.2 190.1h3.6m-1.8-1.8v3.6M432.2 191.1h3.6m-1.8-1.8v3.6M402.6 170.7h3.6m-1.8-1.8v3.6M456.5 191.5h3.6m-1.8-1.8v3.6M587.4 190.6h3.6m-1.8-1.8v3.6M410.6 190.0h3.6m-1.8-1.8v3.6M398.6 187.9h3.6m-1.8-1.8v3.6M633.1 167.1h3.6m-1.8-1.8v3.6M520.3 187.4h3.6m-1.8-1.8v3.6M508.2 185.9h3.6m-1.8-1.8v3.6M501.3 163.3h3.6m-1.8-1.8v3.6M583.6 174.6h3.6m-1.8-1.8v3.6M396.7 184.7h3.6m-1.8-1.8v3.6M591.7 178.0h3.6m-1.8-1.8v3.6M595.7 191.8h3.6m-1.8-1.8v3.6M511.9 178.7h3.6m-1.8-1.8v3.6M631.5 180.3h3.6m-1.8-1.8v3.6M581.0 185.6h3.6m-1.8-1.8v3.6M645.0 170.5h3.6m-1.8-1.8v3.6M654.5 190.3h3.6m-1.8-1.8v3.6M531.1 190.7h3.6m-1.8-1.8v3.6M539.9 176.3h3.6m-1.8-1.8v3.6M629.5 164.2h3.6m-1.8-1.8v3.6M531.8 187.3h3.6m-1.8-1.8v3.6M409.5 177.6h3.6m-1.8-1.8v3.6M613.0 161.0h3.6m-1.8-1.8v3.6M516.7 191.8h3.6m-1.8-1.8v3.6M540.0 165.2h3.6m-1.8-1.8v3.6M561.2 189.4h3.6m-1.8-1.8v3.6M432.8 182.5h3.6m-1.8-1.8v3.6M433.8 185.9h3.6m-1.8-1.8v3.6M426.2 191.7h3.6m-1.8-1.8v3.6M575.6 160.3h3.6m-1.8-1.8v3.6M488.6 190.4h3.6m-1.8-1.8v3.6M584.4 191.0h3.6m-1.8-1.8v3.6M482.5 190.6h3.6m-1.8-1.8v3.6M379.9 177.3h3.6m-1.8-1.8v3.6M611.7 191.4h3.6m-1.8-1.8v3.6M576.7 163.3h3.6m-1.8-1.8v3.6M418.7 185.8h3.6m-1.8-1.8v3.6M423.0 177.6h3.6m-1.8-1.8v3.6M381.2 184.0h3.6m-1.8-1.8v3.6M625.0 188.7h3.6m-1.8-1.8v3.6M616.1 190.7h3.6m-1.8-1.8v3.6M458.7 193.0h3.6m-1.8-1.8v3.6M615.9 189.7h3.6m-1.8-1.8v3.6M417.3 177.4h3.6m-1.8-1.8v3.6M561.9 183.1h3.6m-1.8-1.8v3.6M637.1 176.7h3.6m-1.8-1.8v3.6M536.7 175.5h3.6m-1.8-1.8v3.6M657.4 185.1h3.6m-1.8-1.8v3.6M437.1 174.6h3.6m-1.8-1.8v3.6M655.2 167.5h3.6m-1.8-1.8v3.6M579.7 190.1h3.6m-1.8-1.8v3.6M577.6 193.4h3.6m-1.8-1.8v3.6M404.4 180.4h3.6m-1.8-1.8v3.6M592.5 186.8h3.6m-1.8-1.8v3.6M640.7 192.7h3.6m-1.8-1.8v3.6M500.3 180.9h3.6m-1.8-1.8v3.6M611.5 187.5h3.6m-1.8-1.8v3.6M539.6 183.9h3.6m-1.8-1.8v3.6M525.7 190.0h3.6m-1.8-1.8v3.6M605.2 177.0h3.6m-1.8-1.8v3.6M441.8 179.7h3.6m-1.8-1.8v3.6M550.2 172.6h3.6m-1.8-1.8v3.6M439.8 187.9h3.6m-1.8-1.8v3.6M483.3 175.0h3.6m-1.8-1.8v3.6M577.1 192.4h3.6m-1.8-1.8v3.6M519.9 169.5h3.6m-1.8-1.8v3.6M616.2 176.7h3.6m-1.8-1.8v3.6M386.7 189.5h3.6m-1.8-1.8v3.6M589.4 182.0h3.6m-1.8-1.8v3.6M560.9 191.0h3.6m-1.8-1.8v3.6M468.7 182.3h3.6m-1.8-1.8v3.6M554.2 181.3h3.6m-1.8-1.8v3.6M396.9 189.8h3.6m-1.8-1.8v3.6M638.0 161.1h3.6m-1.8-1.8v3.6M585.0 184.2h3.6m-1.8-1.8v3.6M526.9 162.7h3.6m-1.8-1.8v3.6M498.8 184.1h3.6m-1.8-1.8v3.6M495.3 165.0h3.6m-1.8-1.8v3.6M550.8 191.4h3.6m-1.8-1.8v3.6M412.0 179.5h3.6m-1.8-1.8v3.6M565.8 190.2h3.6m-1.8-1.8v3.6M638.8 171.9h3.6m-1.8-1.8v3.6M390.5 186.3h3.6m-1.8-1.8v3.6M488.0 188.3h3.6m-1.8-1.8v3.6M415.4 184.4h3.6m-1.8-1.8v3.6M497.4 172.4h3.6m-1.8-1.8v3.6M421.4 183.7h3.6m-1.8-1.8v3.6M563.9 180.7h3.6m-1.8-1.8v3.6M476.7 172.8h3.6m-1.8-1.8v3.6M447.6 191.0h3.6m-1.8-1.8v3.6M615.0 154.1h3.6m-1.8-1.8v3.6M608.2 188.8h3.6m-1.8-1.8v3.6M459.4 176.5h3.6m-1.8-1.8v3.6M512.5 192.4h3.6m-1.8-1.8v3.6M407.1 190.2h3.6m-1.8-1.8v3.6M597.5 193.0h3.6m-1.8-1.8v3.6M654.4 190.2h3.6m-1.8-1.8v3.6M541.4 167.1h3.6m-1.8-1.8v3.6M403.2 172.2h3.6m-1.8-1.8v3.6M387.5 176.0h3.6m-1.8-1.8v3.6M506.9 183.8h3.6m-1.8-1.8v3.6M536.7 190.0h3.6m-1.8-1.8v3.6M523.5 191.5h3.6m-1.8-1.8v3.6M429.2 181.1h3.6m-1.8-1.8v3.6M588.6 192.4h3.6m-1.8-1.8v3.6M649.3 189.7h3.6m-1.8-1.8v3.6M547.9 191.5h3.6m-1.8-1.8v3.6M561.7 193.1h3.6m-1.8-1.8v3.6M567.3 165.1h3.6m-1.8-1.8v3.6M587.3 193.5h3.6m-1.8-1.8v3.6M380.4 190.5h3.6m-1.8-1.8v3.6M632.0 193.1h3.6m-1.8-1.8v3.6M389.1 187.5h3.6m-1.8-1.8v3.6M430.0 177.2h3.6m-1.8-1.8v3.6M554.3 190.8h3.6m-1.8-1.8v3.6M412.2 189.4h3.6m-1.8-1.8v3.6M451.0 182.1h3.6m-1.8-1.8v3.6M657.9 190.8h3.6m-1.8-1.8v3.6M564.6 183.3h3.6m-1.8-1.8v3.6M484.4 177.3h3.6m-1.8-1.8v3.6M530.1 177.9h3.6m-1.8-1.8v3.6M595.9 186.5h3.6m-1.8-1.8v3.6M544.1 191.7h3.6m-1.8-1.8v3.6M656.1 190.4h3.6m-1.8-1.8v3.6M418.8 189.7h3.6m-1.8-1.8v3.6M415.2 177.5h3.6m-1.8-1.8v3.6M592.7 188.1h3.6m-1.8-1.8v3.6M566.1 175.8h3.6m-1.8-1.8v3.6M440.3 183.1h3.6m-1.8-1.8v3.6M627.0 188.4h3.6m-1.8-1.8v3.6M580.6 193.2h3.6m-1.8-1.8v3.6M378.4 183.4h3.6m-1.8-1.8v3.6M507.0 189.7h3.6m-1.8-1.8v3.6M435.1 186.2h3.6m-1.8-1.8v3.6M516.7 172.7h3.6m-1.8-1.8v3.6M585.9 191.6h3.6m-1.8-1.8v3.6M390.9 192.9h3.6m-1.8-1.8v3.6M484.2 189.6h3.6m-1.8-1.8v3.6M460.6 191.6h3.6m-1.8-1.8v3.6M480.0 172.6h3.6m-1.8-1.8v3.6M628.2 182.3h3.6m-1.8-1.8v3.6M496.3 173.2h3.6m-1.8-1.8v3.6M415.1 179.9h3.6m-1.8-1.8v3.6M392.0 191.0h3.6m-1.8-1.8v3.6M568.5 182.2h3.6m-1.8-1.8v3.6M494.3 192.1h3.6m-1.8-1.8v3.6M492.1 159.8h3.6m-1.8-1.8v3.6M472.0 177.0h3.6m-1.8-1.8v3.6M507.2 179.5h3.6m-1.8-1.8v3.6M616.0 182.0h3.6m-1.8-1.8v3.6M460.1 179.8h3.6m-1.8-1.8v3.6M478.2 173.7h3.6m-1.8-1.8v3.6M620.7 191.9h3.6m-1.8-1.8v3.6M385.2 169.9h3.6m-1.8-1.8v3.6M513.0 177.1h3.6m-1.8-1.8v3.6M484.9 190.5h3.6m-1.8-1.8v3.6M635.3 171.1h3.6m-1.8-1.8v3.6M581.8 168.2h3.6m-1.8-1.8v3.6M406.3 178.7h3.6m-1.8-1.8v3.6M510.0 182.3h3.6m-1.8-1.8v3.6M429.6 181.8h3.6m-1.8-1.8v3.6M656.3 190.8h3.6m-1.8-1.8v3.6M517.9 193.0h3.6m-1.8-1.8v3.6M461.9 190.6h3.6m-1.8-1.8v3.6M481.2 180.6h3.6m-1.8-1.8v3.6M657.0 176.2h3.6m-1.8-1.8v3.6M533.7 183.8h3.6m-1.8-1.8v3.6M544.4 188.9h3.6m-1.8-1.8v3.6M564.2 167.2h3.6m-1.8-1.8v3.6M561.6 163.6h3.6m-1.8-1.8v3.6M538.1 169.0h3.6m-1.8-1.8v3.6M376.0 179.6h3.6m-1.8-1.8v3.6M432.9 176.9h3.6m-1.8-1.8v3.6M504.0 183.1h3.6m-1.8-1.8v3.6M615.8 178.3h3.6m-1.8-1.8v3.6M574.9 182.8h3.6m-1.8-1.8v3.6M460.6 191.6h3.6m-1.8-1.8v3.6M388.6 179.1h3.6m-1.8-1.8v3.6M649.9 193.0h3.6m-1.8-1.8v3.6M475.5 190.4h3.6m-1.8-1.8v3.6M603.6 191.3h3.6m-1.8-1.8v3.6M452.6 190.8h3.6m-1.8-1.8v3.6M515.3 177.4h3.6m-1.8-1.8v3.6M430.3 190.0h3.6m-1.8-1.8v3.6M565.2 178.2h3.6m-1.8-1.8v3.6M424.6 181.0h3.6m-1.8-1.8v3.6M545.5 193.5h3.6m-1.8-1.8v3.6M427.7 171.7h3.6m-1.8-1.8v3.6M460.6 190.9h3.6m-1.8-1.8v3.6M431.7 171.5h3.6m-1.8-1.8v3.6M596.6 165.6h3.6m-1.8-1.8v3.6M610.7 181.1h3.6m-1.8-1.8v3.6M379.3 185.5h3.6m-1.8-1.8v3.6M653.8 172.7h3.6m-1.8-1.8v3.6M575.4 182.8h3.6m-1.8-1.8v3.6M378.0 188.6h3.6m-1.8-1.8v3.6M574.4 168.7h3.6m-1.8-1.8v3.6M589.9 190.4h3.6m-1.8-1.8v3.6M447.8 180.6h3.6m-1.8-1.8v3.6M494.1 187.3h3.6m-1.8-1.8v3.6M464.6 191.9h3.6m-1.8-1.8v3.6M539.5 189.6h3.6m-1.8-1.8v3.6M378.1 187.1h3.6m-1.8-1.8v3.6M640.6 192.3h3.6m-1.8-1.8v3.6M570.8 179.5h3.6m-1.8-1.8v3.6M564.0 182.1h3.6m-1.8-1.8v3.6M568.2 189.6h3.6m-1.8-1.8v3.6M560.3 191.9h3.6m-1.8-1.8v3.6M421.4 191.3h3.6m-1.8-1.8v3.6M523.9 187.9h3.6m-1.8-1.8v3.6M587.8 191.6h3.6m-1.8-1.8v3.6M544.3 159.3h3.6m-1.8-1.8v3.6M653.9 189.1h3.6m-1.8-1.8v3.6M468.1 190.1h3.6m-1.8-1.8v3.6M447.7 179.7h3.6m-1.8-1.8v3.6M593.9 190.3h3.6m-1.8-1.8v3.6M556.0 192.6h3.6m-1.8-1.8v3.6M618.6 192.6h3.6m-1.8-1.8v3.6M461.6 171.3h3.6m-1.8-1.8v3.6M634.4 164.5h3.6m-1.8-1.8v3.6M509.1 192.7h3.6m-1.8-1.8v3.6M415.4 193.1h3.6m-1.8-1.8v3.6M465.8 192.4h3.6m-1.8-1.8v3.6M617.4 184.5h3.6m-1.8-1.8v3.6M616.1 190.5h3.6m-1.8-1.8v3.6M529.1 189.8h3.6m-1.8-1.8v3.6M600.4 189.5h3.6m-1.8-1.8v3.6M538.7 189.3h3.6m-1.8-1.8v3.6M384.3 181.2h3.6m-1.8-1.8v3.6M426.9 191.2h3.6m-1.8-1.8v3.6M462.7 178.7h3.6m-1.8-1.8v3.6M535.5 190.6h3.6m-1.8-1.8v3.6M579.2 177.4h3.6m-1.8-1.8v3.6M510.1 191.8h3.6m-1.8-1.8v3.6M460.7 185.8h3.6m-1.8-1.8v3.6M520.1 190.7h3.6m-1.8-1.8v3.6M391.1 183.3h3.6m-1.8-1.8v3.6M382.5 179.7h3.6m-1.8-1.8v3.6M582.4 190.0h3.6m-1.8-1.8v3.6M587.6 177.1h3.6m-1.8-1.8v3.6M493.9 181.6h3.6m-1.8-1.8v3.6M433.0 174.3h3.6m-1.8-1.8v3.6M601.3 167.7h3.6m-1.8-1.8v3.6M565.1 188.3h3.6m-1.8-1.8v3.6M481.3 171.6h3.6m-1.8-1.8v3.6M454.4 175.0h3.6m-1.8-1.8v3.6M652.2 180.9h3.6m-1.8-1.8v3.6M473.1 161.2h3.6m-1.8-1.8v3.6M566.0 184.3h3.6m-1.8-1.8v3.6M425.6 186.1h3.6m-1.8-1.8v3.6M585.6 192.8h3.6m-1.8-1.8v3.6M557.5 178.5h3.6m-1.8-1.8v3.6M381.2 179.3h3.6m-1.8-1.8v3.6M589.0 184.4h3.6m-1.8-1.8v3.6M487.9 193.4h3.6m-1.8-1.8v3.6M440.2 176.9h3.6m-1.8-1.8v3.6M456.3 181.5h3.6m-1.8-1.8v3.6M558.8 187.2h3.6m-1.8-1.8v3.6M379.4 175.3h3.6m-1.8-1.8v3.6M458.1 184.8h3.6m-1.8-1.8v3.6M418.0 191.0h3.6m-1.8-1.8v3.6M429.5 187.4h3.6m-1.8-1.8v3.6M406.0 177.3h3.6m-1.8-1.8v3.6M492.3 191.8h3.6m-1.8-1.8v3.6M459.3 181.6h3.6m-1.8-1.8v3.6M448.9 178.2h3.6m-1.8-1.8v3.6M555.0 189.3h3.6m-1.8-1.8v3.6M597.6 175.4h3.6m-1.8-1.8v3.6M616.0 185.0h3.6m-1.8-1.8v3.6M383.0 188.8h3.6m-1.8-1.8v3.6M433.0 171.2h3.6m-1.8-1.8v3.6M465.8 176.4h3.6m-1.8-1.8v3.6M539.8 189.7h3.6m-1.8-1.8v3.6M521.3 179.9h3.6m-1.8-1.8v3.6M523.6 181.3h3.6m-1.8-1.8v3.6M509.7 187.9h3.6m-1.8-1.8v3.6M418.8 177.1h3.6m-1.8-1.8v3.6M542.5 192.9h3.6m-1.8-1.8v3.6M540.5 176.8h3.6m-1.8-1.8v3.6M630.9 190.2h3.6m-1.8-1.8v3.6M653.4 177.4h3.6m-1.8-1.8v3.6M483.3 181.7h3.6m-1.8-1.8v3.6M600.8 179.5h3.6m-1.8-1.8v3.6M471.0 173.8h3.6m-1.8-1.8v3.6M647.2 182.7h3.6m-1.8-1.8v3.6M618.9 167.2h3.6m-1.8-1.8v3.6M416.9 192.3h3.6m-1.8-1.8v3.6M559.9 190.8h3.6m-1.8-1.8v3.6M409.6 192.5h3.6m-1.8-1.8v3.6M530.7 177.5h3.6m-1.8-1.8v3.6M440.3 189.9h3.6m-1.8-1.8v3.6M542.3 167.4h3.6m-1.8-1.8v3.6M412.5 189.2h3.6m-1.8-1.8v3.6M502.9 178.9h3.6m-1.8-1.8v3.6M628.8 189.3h3.6m-1.8-1.8v3.6M647.6 178.6h3.6m-1.8-1.8v3.6M642.9 186.9h3.6m-1.8-1.8v3.6M553.5 173.9h3.6m-1.8-1.8v3.6M510.0 193.0h3.6m-1.8-1.8v3.6M600.4 181.4h3.6m-1.8-1.8v3.6M497.0 188.1h3.6m-1.8-1.8v3.6M400.2 188.6h3.6m-1.8-1.8v3.6M433.5 184.7h3.6m-1.8-1.8v3.6M627.3 185.7h3.6m-1.8-1.8v3.6M500.2 190.6h3.6m-1.8-1.8v3.6M459.9 177.6h3.6m-1.8-1.8v3.6M545.5 177.1h3.6m-1.8-1.8v3.6M600.6 186.8h3.6m-1.8-1.8v3.6M385.2 176.5h3.6m-1.8-1.8v3.6M609.2 180.2h3.6m-1.8-1.8v3.6M535.2 192.1h3.6m-1.8-1.8v3.6M543.6 191.4h3.6m-1.8-1.8v3.6M594.4 191.8h3.6m-1.8-1.8v3.6M528.6 192.8h3.6m-1.8-1.8v3.6M548.2 193.0h3.6m-1.8-1.8v3.6M438.1 171.7h3.6m-1.8-1.8v3.6M407.2 186.1h3.6m-1.8-1.8v3.6M384.4 182.2h3.6m-1.8-1.8v3.6M381.2 163.4h3.6m-1.8-1.8v3.6M473.9 177.0h3.6m-1.8-1.8v3.6M412.6 187.7h3.6m-1.8-1.8v3.6M465.8 177.4h3.6m-1.8-1.8v3.6M492.9 192.1h3.6m-1.8-1.8v3.6M616.6 191.7h3.6m-1.8-1.8v3.6M446.2 187.1h3.6m-1.8-1.8v3.6M465.6 181.1h3.6m-1.8-1.8v3.6M388.3 190.1h3.6m-1.8-1.8v3.6M623.1 176.2h3.6m-1.8-1.8v3.6M571.4 190.7h3.6m-1.8-1.8v3.6M438.2 172.2h3.6m-1.8-1.8v3.6M507.7 177.5h3.6m-1.8-1.8v3.6M628.0 182.8h3.6m-1.8-1.8v3.6M476.5 190.4h3.6m-1.8-1.8v3.6M505.1 193.3h3.6m-1.8-1.8v3.6M564.3 189.4h3.6m-1.8-1.8v3.6M643.8 184.0h3.6m-1.8-1.8v3.6M514.2 189.3h3.6m-1.8-1.8v3.6M590.0 174.7h3.6m-1.8-1.8v3.6M633.0 162.1h3.6m-1.8-1.8v3.6M426.0 193.3h3.6m-1.8-1.8v3.6M401.1 191.9h3.6m-1.8-1.8v3.6M507.0 181.0h3.6m-1.8-1.8v3.6M388.8 177.3h3.6m-1.8-1.8v3.6M459.5 180.8h3.6m-1.8-1.8v3.6M462.0 170.7h3.6m-1.8-1.8v3.6M438.6 190.4h3.6m-1.8-1.8v3.6M533.2 177.1h3.6m-1.8-1.8v3.6M581.1 154.4h3.6m-1.8-1.8v3.6M608.7 182.0h3.6m-1.8-1.8v3.6M407.7 177.9h3.6m-1.8-1.8v3.6M652.5 191.5h3.6m-1.8-1.8v3.6M490.1 183.2h3.6m-1.8-1.8v3.6M449.4 175.4h3.6m-1.8-1.8v3.6M594.8 176.9h3.6m-1.8-1.8v3.6M521.2 180.3h3.6m-1.8-1.8v3.6M440.5 190.1h3.6m-1.8-1.8v3.6M571.8 179.8h3.6m-1.8-1.8v3.6M432.3 174.0h3.6m-1.8-1.8v3.6M642.5 178.8h3.6m-1.8-1.8v3.6M391.8 191.3h3.6m-1.8-1.8v3.6M564.3 191.5h3.6m-1.8-1.8v3.6M626.0 189.8h3.6m-1.8-1.8v3.6M441.5 183.2h3.6m-1.8-1.8v3.6M442.5 188.8h3.6m-1.8-1.8v3.6M526.3 184.0h3.6m-1.8-1.8v3.6M455.3 190.6h3.6m-1.8-1.8v3.6M449.6 175.7h3.6m-1.8-1.8v3.6M449.8 178.2h3.6m-1.8-1.8v3.6M480.3 187.4h3.6m-1.8-1.8v3.6M656.5 192.1h3.6m-1.8-1.8v3.6M376.8 182.7h3.6m-1.8-1.8v3.6M456.6 186.1h3.6m-1.8-1.8v3.6M478.3 191.3h3.6m-1.8-1.8v3.6M563.9 189.8h3.6m-1.8-1.8v3.6M449.0 189.2h3.6m-1.8-1.8v3.6M565.9 183.4h3.6m-1.8-1.8v3.6M490.9 191.3h3.6m-1.8-1.8v3.6M653.0 187.4h3.6m-1.8-1.8v3.6M614.9 180.0h3.6m-1.8-1.8v3.6M495.5 191.2h3.6m-1.8-1.8v3.6M454.9 176.8h3.6m-1.8-1.8v3.6M640.4 179.7h3.6m-1.8-1.8v3.6M564.9 190.6h3.6m-1.8-1.8v3.6M539.9 190.4h3.6m-1.8-1.8v3.6M543.8 180.2h3.6m-1.8-1.8v3.6M649.1 177.1h3.6m-1.8-1.8v3.6M502.8 191.7h3.6m-1.8-1.8v3.6M475.3 173.7h3.6m-1.8-1.8v3.6M647.1 192.0h3.6m-1.8-1.8v3.6M379.7 190.6h3.6m-1.8-1.8v3.6M385.0 185.7h3.6m-1.8-1.8v3.6M635.8 192.6h3.6m-1.8-1.8v3.6M573.8 190.5h3.6m-1.8-1.8v3.6M637.9 162.5h3.6m-1.8-1.8v3.6M608.4 181.4h3.6m-1.8-1.8v3.6M410.7 187.0h3.6m-1.8-1.8v3.6M470.6 191.4h3.6m-1.8-1.8v3.6M604.7 177.5h3.6m-1.8-1.8v3.6M520.6 191.3h3.6m-1.8-1.8v3.6M422.9 163.0h3.6m-1.8-1.8v3.6M523.6 178.2h3.6m-1.8-1.8v3.6M378.0 189.1h3.6m-1.8-1.8v3.6M586.5 178.8h3.6m-1.8-1.8v3.6M468.3 191.7h3.6m-1.8-1.8v3.6M400.0 191.4h3.6m-1.8-1.8v3.6M537.9 189.8h3.6m-1.8-1.8v3.6M523.0 185.0h3.6m-1.8-1.8v3.6M565.2 193.7h3.6m-1.8-1.8v3.6M394.0 172.2h3.6m-1.8-1.8v3.6M419.0 187.8h3.6m-1.8-1.8v3.6M636.4 181.2h3.6m-1.8-1.8v3.6M400.0 192.7h3.6m-1.8-1.8v3.6M557.0 178.7h3.6m-1.8-1.8v3.6M608.0 176.7h3.6m-1.8-1.8v3.6M646.9 177.0h3.6m-1.8-1.8v3.6M488.6 191.0h3.6m-1.8-1.8v3.6M518.4 193.4h3.6m-1.8-1.8v3.6M507.0 186.2h3.6m-1.8-1.8v3.6M509.0 181.5h3.6m-1.8-1.8v3.6M575.7 189.9h3.6m-1.8-1.8v3.6M621.4 192.8h3.6m-1.8-1.8v3.6M429.5 182.7h3.6m-1.8-1.8v3.6M403.9 183.5h3.6m-1.8-1.8v3.6M569.7 190.5h3.6m-1.8-1.8v3.6M452.0 190.7h3.6m-1.8-1.8v3.6M613.6 179.6h3.6m-1.8-1.8v3.6M521.1 192.0h3.6m-1.8-1.8v3.6M397.9 190.2h3.6m-1.8-1.8v3.6M375.7 192.0h3.6m-1.8-1.8v3.6M591.6 165.4h3.6m-1.8-1.8v3.6M478.5 163.7h3.6m-1.8-1.8v3.6M484.8 179.9h3.6m-1.8-1.8v3.6M475.9 192.1h3.6m-1.8-1.8v3.6M571.3 161.7h3.6m-1.8-1.8v3.6M491.8 182.9h3.6m-1.8-1.8v3.6M382.0 168.9h3.6m-1.8-1.8v3.6M384.5 192.3h3.6m-1.8-1.8v3.6M416.9 170.8h3.6m-1.8-1.8v3.6M529.9 175.8h3.6m-1.8-1.8v3.6M431.1 185.4h3.6m-1.8-1.8v3.6M431.7 173.1h3.6m-1.8-1.8v3.6M457.1 188.1h3.6m-1.8-1.8v3.6M487.4 180.2h3.6m-1.8-1.8v3.6M644.0 192.9h3.6m-1.8-1.8v3.6M483.0 161.5h3.6m-1.8-1.8v3.6M578.8 172.1h3.6m-1.8-1.8v3.6M482.2 170.8h3.6m-1.8-1.8v3.6M656.2 177.4h3.6m-1.8-1.8v3.6M513.1 169.8h3.6m-1.8-1.8v3.6M534.9 177.1h3.6m-1.8-1.8v3.6M455.0 179.5h3.6m-1.8-1.8v3.6M428.3 177.3h3.6m-1.8-1.8v3.6M474.6 181.2h3.6m-1.8-1.8v3.6M523.4 168.6h3.6m-1.8-1.8v3.6M484.1 186.4h3.6m-1.8-1.8v3.6M622.2 189.8h3.6m-1.8-1.8v3.6M444.8 179.7h3.6m-1.8-1.8v3.6M569.7 185.9h3.6m-1.8-1.8v3.6M628.5 163.9h3.6m-1.8-1.8v3.6M642.3 189.3h3.6m-1.8-1.8v3.6M466.3 165.4h3.6m-1.8-1.8v3.6M570.2 164.3h3.6m-1.8-1.8v3.6M537.3 192.7h3.6m-1.8-1.8v3.6M642.1 175.8h3.6m-1.8-1.8v3.6M472.8 187.8h3.6m-1.8-1.8v3.6M436.0 177.2h3.6m-1.8-1.8v3.6M554.5 185.1h3.6m-1.8-1.8v3.6M621.9 180.3h3.6m-1.8-1.8v3.6M380.4 171.0h3.6m-1.8-1.8v3.6M375.9 181.0h3.6m-1.8-1.8v3.6M621.3 178.4h3.6m-1.8-1.8v3.6M400.5 179.5h3.6m-1.8-1.8v3.6M599.9 183.6h3.6m-1.8-1.8v3.6M499.5 186.3h3.6m-1.8-1.8v3.6M465.8 173.5h3.6m-1.8-1.8v3.6M477.9 188.5h3.6m-1.8-1.8v3.6M517.1 192.2h3.6m-1.8-1.8v3.6M493.9 192.3h3.6m-1.8-1.8v3.6M475.0 184.6h3.6m-1.8-1.8v3.6M629.8 174.7h3.6m-1.8-1.8v3.6M413.7 189.8h3.6m-1.8-1.8v3.6M590.4 178.1h3.6m-1.8-1.8v3.6M489.0 193.3h3.6m-1.8-1.8v3.6M488.5 177.1h3.6m-1.8-1.8v3.6M499.4 192.8h3.6m-1.8-1.8v3.6M532.1 177.5h3.6m-1.8-1.8v3.6M466.2 191.7h3.6m-1.8-1.8v3.6M428.7 193.7h3.6m-1.8-1.8v3.6M408.3 185.4h3.6m-1.8-1.8v3.6M631.9 191.3h3.6m-1.8-1.8v3.6M416.9 176.9h3.6m-1.8-1.8v3.6M587.4 187.1h3.6m-1.8-1.8v3.6M499.3 188.2h3.6m-1.8-1.8v3.6M419.4 189.8h3.6m-1.8-1.8v3.6M651.2 162.4h3.6m-1.8-1.8v3.6M569.9 190.9h3.6m-1.8-1.8v3.6M376.4 179.9h3.6m-1.8-1.8v3.6M524.8 185.0h3.6m-1.8-1.8v3.6M528.5 191.7h3.6m-1.8-1.8v3.6M638.2 176.8h3.6m-1.8-1.8v3.6M580.0 189.7h3.6m-1.8-1.8v3.6M571.3 189.7h3.6m-1.8-1.8v3.6M561.7 191.7h3.6m-1.8-1.8v3.6M418.4 177.2h3.6m-1.8-1.8v3.6M544.6 182.8h3.6m-1.8-1.8v3.6M560.6 188.1h3.6m-1.8-1.8v3.6M435.7 177.8h3.6m-1.8-1.8v3.6M622.0 188.0h3.6m-1.8-1.8v3.6M541.7 191.5h3.6m-1.8-1.8v3.6M597.0 165.0h3.6m-1.8-1.8v3.6M432.3 182.9h3.6m-1.8-1.8v3.6M648.0 193.1h3.6m-1.8-1.8v3.6M512.6 177.4h3.6m-1.8-1.8v3.6M483.2 185.9h3.6m-1.8-1.8v3.6M426.3 190.4h3.6m-1.8-1.8v3.6M519.8 181.7h3.6m-1.8-1.8v3.6M591.2 186.8h3.6m-1.8-1.8v3.6M635.3 190.3h3.6m-1.8-1.8v3.6M505.9 188.7h3.6m-1.8-1.8v3.6M642.0 187.5h3.6m-1.8-1.8v3.6M392.5 170.7h3.6m-1.8-1.8v3.6M389.9 192.4h3.6m-1.8-1.8v3.6M383.8 179.1h3.6m-1.8-1.8v3.6M579.1 177.0h3.6m-1.8-1.8v3.6M461.7 188.4h3.6m-1.8-1.8v3.6M546.0 190.7h3.6m-1.8-1.8v3.6M514.8 151.4h3.6m-1.8-1.8v3.6M551.9 171.4h3.6m-1.8-1.8v3.6M516.0 189.5h3.6m-1.8-1.8v3.6M543.3 187.9h3.6m-1.8-1.8v3.6M516.2 190.9h3.6m-1.8-1.8v3.6M408.1 191.8h3.6m-1.8-1.8v3.6M528.2 190.1h3.6m-1.8-1.8v3.6M380.8 176.0h3.6m-1.8-1.8v3.6M645.3 190.4h3.6m-1.8-1.8v3.6M564.8 179.6h3.6m-1.8-1.8v3.6M510.7 183.2h3.6m-1.8-1.8v3.6M438.7 191.4h3.6m-1.8-1.8v3.6M442.9 190.1h3.6m-1.8-1.8v3.6M493.2 183.1h3.6m-1.8-1.8v3.6M531.4 182.8h3.6m-1.8-1.8v3.6M508.7 176.7h3.6m-1.8-1.8v3.6M453.3 189.7h3.6m-1.8-1.8v3.6M624.3 179.2h3.6m-1.8-1.8v3.6M534.5 163.9h3.6m-1.8-1.8v3.6M469.3 186.0h3.6m-1.8-1.8v3.6M645.8 186.9h3.6m-1.8-1.8v3.6M382.4 177.8h3.6m-1.8-1.8v3.6M494.1 165.5h3.6m-1.8-1.8v3.6M640.5 184.7h3.6m-1.8-1.8v3.6M460.4 172.6h3.6m-1.8-1.8v3.6M585.7 190.9h3.6m-1.8-1.8v3.6M570.6 192.3h3.6m-1.8-1.8v3.6M504.1 191.0h3.6m-1.8-1.8v3.6M418.7 192.5h3.6m-1.8-1.8v3.6M599.8 188.2h3.6m-1.8-1.8v3.6M446.7 183.1h3.6m-1.8-1.8v3.6M577.7 181.2h3.6m-1.8-1.8v3.6M537.5 167.5h3.6m-1.8-1.8v3.6M591.8 192.2h3.6m-1.8-1.8v3.6M408.4 176.9h3.6m-1.8-1.8v3.6M636.7 190.3h3.6m-1.8-1.8v3.6M572.7 192.1h3.6m-1.8-1.8v3.6M499.7 184.4h3.6m-1.8-1.8v3.6M563.2 160.1h3.6m-1.8-1.8v3.6M551.1 184.7h3.6m-1.8-1.8v3.6M473.9 173.7h3.6m-1.8-1.8v3.6M572.5 167.2h3.6m-1.8-1.8v3.6M626.2 181.5h3.6m-1.8-1.8v3.6M625.7 179.5h3.6m-1.8-1.8v3.6M454.6 190.0h3.6m-1.8-1.8v3.6M531.5 159.5h3.6m-1.8-1.8v3.6M448.6 189.8h3.6m-1.8-1.8v3.6M447.1 191.4h3.6m-1.8-1.8v3.6M578.4 191.9h3.6m-1.8-1.8v3.6M596.5 187.5h3.6m-1.8-1.8v3.6M636.3 180.4h3.6m-1.8-1.8v3.6M401.4 180.5h3.6m-1.8-1.8v3.6M568.9 181.6h3.6m-1.8-1.8v3.6M383.5 177.4h3.6m-1.8-1.8v3.6M444.2 184.7h3.6m-1.8-1.8v3.6M402.8 190.5h3.6m-1.8-1.8v3.6M470.4 190.9h3.6m-1.8-1.8v3.6M602.5 192.8h3.6m-1.8-1.8v3.6M627.9 177.5h3.6m-1.8-1.8v3.6M462.6 184.2h3.6m-1.8-1.8v3.6M490.1 162.1h3.6m-1.8-1.8v3.6M600.9 187.1h3.6m-1.8-1.8v3.6M614.7 177.4h3.6m-1.8-1.8v3.6M544.9 171.4h3.6m-1.8-1.8v3.6M489.8 190.2h3.6m-1.8-1.8v3.6M509.9 178.8h3.6m-1.8-1.8v3.6M597.6 180.1h3.6m-1.8-1.8v3.6M528.9 188.9h3.6m-1.8-1.8v3.6M593.8 176.7h3.6m-1.8-1.8v3.6M449.8 180.2h3.6m-1.8-1.8v3.6M448.8 172.2h3.6m-1.8-1.8v3.6M422.6 188.0h3.6m-1.8-1.8v3.6M452.8 180.2h3.6m-1.8-1.8v3.6M556.0 181.7h3.6m-1.8-1.8v3.6M605.0 189.9h3.6m-1.8-1.8v3.6M522.9 178.9h3.6m-1.8-1.8v3.6M436.1 181.3h3.6m-1.8-1.8v3.6M380.2 184.0h3.6m-1.8-1.8v3.6M502.6 179.2h3.6m-1.8-1.8v3.6M407.9 188.2h3.6m-1.8-1.8v3.6M399.3 190.6h3.6m-1.8-1.8v3.6M505.3 191.8h3.6m-1.8-1.8v3.6M414.3 164.0h3.6m-1.8-1.8v3.6M501.0 181.9h3.6m-1.8-1.8v3.6M412.2 175.5h3.6m-1.8-1.8v3.6M399.1 182.7h3.6m-1.8-1.8v3.6M477.7 187.7h3.6m-1.8-1.8v3.6M606.2 164.6h3.6m-1.8-1.8v3.6M393.3 184.1h3.6m-1.8-1.8v3.6M483.9 191.1h3.6m-1.8-1.8v3.6M409.4 191.9h3.6m-1.8-1.8v3.6M657.3 177.2h3.6m-1.8-1.8v3.6M565.8 178.0h3.6m-1.8-1.8v3.6M540.4 185.1h3.6m-1.8-1.8v3.6M600.5 177.5h3.6m-1.8-1.8v3.6M639.6 190.9h3.6m-1.8-1.8v3.6M396.3 175.0h3.6m-1.8-1.8v3.6M414.3 176.4h3.6m-1.8-1.8v3.6M630.2 183.7h3.6m-1.8-1.8v3.6M501.5 174.4h3.6m-1.8-1.8v3.6M520.7 187.3h3.6m-1.8-1.8v3.6M406.9 188.2h3.6m-1.8-1.8v3.6M570.5 193.0h3.6m-1.8-1.8v3.6M650.6 191.3h3.6m-1.8-1.8v3.6M620.0 169.1h3.6m-1.8-1.8v3.6M647.4 190.5h3.6m-1.8-1.8v3.6M379.0 191.7h3.6m-1.8-1.8v3.6M531.9 177.2h3.6m-1.8-1.8v3.6M395.8 192.1h3.6m-1.8-1.8v3.6M640.1 177.3h3.6m-1.8-1.8v3.6M542.7 192.7h3.6m-1.8-1.8v3.6M466.5 187.9h3.6m-1.8-1.8v3.6M439.0 183.2h3.6m-1.8-1.8v3.6M534.6 188.2h3.6m-1.8-1.8v3.6M383.4 187.7h3.6m-1.8-1.8v3.6M435.0 177.5h3.6m-1.8-1.8v3.6M544.9 192.0h3.6m-1.8-1.8v3.6M529.3 178.8h3.6m-1.8-1.8v3.6M590.6 189.4h3.6m-1.8-1.8v3.6M380.3 174.5h3.6m-1.8-1.8v3.6M638.0 166.8h3.6m-1.8-1.8v3.6M399.1 190.8h3.6m-1.8-1.8v3.6M495.7 192.4h3.6m-1.8-1.8v3.6M390.5 191.2h3.6m-1.8-1.8v3.6M444.5 176.4h3.6m-1.8-1.8v3.6M539.4 169.2h3.6m-1.8-1.8v3.6M607.0 175.3h3.6m-1.8-1.8v3.6M428.3 160.6h3.6m-1.8-1.8v3.6M466.6 177.3h3.6m-1.8-1.8v3.6M439.9 177.2h3.6m-1.8-1.8v3.6M619.1 180.3h3.6m-1.8-1.8v3.6M411.7 183.5h3.6m-1.8-1.8v3.6M533.5 177.4h3.6m-1.8-1.8v3.6M575.8 170.9h3.6m-1.8-1.8v3.6M442.3 175.6h3.6m-1.8-1.8v3.6M449.5 173.0h3.6m-1.8-1.8v3.6M608.6 192.5h3.6m-1.8-1.8v3.6M382.4 192.1h3.6m-1.8-1.8v3.6M551.3 190.3h3.6m-1.8-1.8v3.6M381.3 189.1h3.6m-1.8-1.8v3.6M658.0 184.4h3.6m-1.8-1.8v3.6M615.6 177.1h3.6m-1.8-1.8v3.6M459.0 192.5h3.6m-1.8-1.8v3.6M479.5 191.6h3.6m-1.8-1.8v3.6M631.3 166.6h3.6m-1.8-1.8v3.6M654.9 190.7h3.6m-1.8-1.8v3.6M617.5 191.9h3.6m-1.8-1.8v3.6M432.1 175.3h3.6m-1.8-1.8v3.6M610.3 183.0h3.6m-1.8-1.8v3.6M586.5 188.4h3.6m-1.8-1.8v3.6M399.7 186.1h3.6m-1.8-1.8v3.6M432.2 187.6h3.6m-1.8-1.8v3.6M411.0 190.2h3.6m-1.8-1.8v3.6M436.8 176.8h3.6m-1.8-1.8v3.6M576.1 179.1h3.6m-1.8-1.8v3.6M640.9 179.9h3.6m-1.8-1.8v3.6M553.6 178.2h3.6m-1.8-1.8v3.6M565.2 177.6h3.6m-1.8-1.8v3.6M504.5 193.7h3.6m-1.8-1.8v3.6M580.0 178.6h3.6m-1.8-1.8v3.6M650.4 189.5h3.6m-1.8-1.8v3.6M537.7 193.3h3.6m-1.8-1.8v3.6M396.6 185.6h3.6m-1.8-1.8v3.6M431.0 180.5h3.6m-1.8-1.8v3.6M610.9 180.6h3.6m-1.8-1.8v3.6M600.6 187.6h3.6m-1.8-1.8v3.6M538.2 175.5h3.6m-1.8-1.8v3.6M477.0 191.1h3.6m-1.8-1.8v3.6M408.0 189.7h3.6m-1.8-1.8v3.6M408.4 175.8h3.6m-1.8-1.8v3.6M646.4 183.3h3.6m-1.8-1.8v3.6M512.5 179.7h3.6m-1.8-1.8v3.6M429.4 188.4h3.6m-1.8-1.8v3.6M428.6 180.0h3.6m-1.8-1.8v3.6M639.4 189.9h3.6m-1.8-1.8v3.6M425.7 186.7h3.6m-1.8-1.8v3.6M625.4 184.8h3.6m-1.8-1.8v3.6M552.7 192.1h3.6m-1.8-1.8v3.6M500.1 192.4h3.6m-1.8-1.8v3.6M537.2 188.4h3.6m-1.8-1.8v3.6M396.2 190.2h3.6m-1.8-1.8v3.6M376.8 160.6h3.6m-1.8-1.8v3.6M640.3 180.3h3.6m-1.8-1.8v3.6M616.4 192.2h3.6m-1.8-1.8v3.6M453.2 185.7h3.6m-1.8-1.8v3.6M537.4 192.7h3.6m-1.8-1.8v3.6M382.0 190.8h3.6m-1.8-1.8v3.6M441.7 190.0h3.6m-1.8-1.8v3.6M440.0 183.4h3.6m-1.8-1.8v3.6M387.3 179.8h3.6m-1.8-1.8v3.6M443.1 181.1h3.6m-1.8-1.8v3.6M534.1 184.5h3.6m-1.8-1.8v3.6M564.3 180.9h3.6m-1.8-1.8v3.6M587.4 172.6h3.6m-1.8-1.8v3.6M417.0 192.4h3.6m-1.8-1.8v3.6M534.5 192.3h3.6m-1.8-1.8v3.6M417.4 189.5h3.6m-1.8-1.8v3.6M608.1 192.1h3.6m-1.8-1.8v3.6M586.7 173.3h3.6m-1.8-1.8v3.6M642.1 170.6h3.6m-1.8-1.8v3.6M469.0 190.7h3.6m-1.8-1.8v3.6M392.6 189.0h3.6m-1.8-1.8v3.6M428.5 186.4h3.6m-1.8-1.8v3.6M391.7 190.2h3.6m-1.8-1.8v3.6M485.5 170.8h3.6m-1.8-1.8v3.6M376.6 183.1h3.6m-1.8-1.8v3.6M444.6 189.3h3.6m-1.8-1.8v3.6M467.3 185.6h3.6m-1.8-1.8v3.6M655.0 192.2h3.6m-1.8-1.8v3.6M559.2 179.3h3.6m-1.8-1.8v3.6M406.9 191.6h3.6m-1.8-1.8v3.6M454.4 193.1h3.6m-1.8-1.8v3.6M388.0 190.5h3.6m-1.8-1.8v3.6M383.8 190.6h3.6m-1.8-1.8v3.6M558.2 179.8h3.6m-1.8-1.8v3.6M388.3 177.7h3.6m-1.8-1.8v3.6M390.7 191.6h3.6m-1.8-1.8v3.6M474.8 190.0h3.6m-1.8-1.8v3.6M599.1 186.0h3.6m-1.8-1.8v3.6M532.9 183.6h3.6m-1.8-1.8v3.6M466.2 174.9h3.6m-1.8-1.8v3.6M442.4 180.2h3.6m-1.8-1.8v3.6M516.5 184.0h3.6m-1.8-1.8v3.6M570.6 189.8h3.6m-1.8-1.8v3.6M491.4 184.4h3.6m-1.8-1.8v3.6M590.3 192.9h3.6m-1.8-1.8v3.6M513.6 191.8h3.6m-1.8-1.8v3.6M411.9 192.1h3.6m-1.8-1.8v3.6M628.8 188.2h3.6m-1.8-1.8v3.6M555.9 192.7h3.6m-1.8-1.8v3.6M499.9 179.7h3.6m-1.8-1.8v3.6M648.5 191.5h3.6m-1.8-1.8v3.6M483.2 179.5h3.6m-1.8-1.8v3.6M499.1 180.5h3.6m-1.8-1.8v3.6M621.2 184.2h3.6m-1.8-1.8v3.6M404.3 189.6h3.6m-1.8-1.8v3.6M593.9 190.5h3.6m-1.8-1.8v3.6M539.4 164.8h3.6m-1.8-1.8v3.6M482.0 184.2h3.6m-1.8-1.8v3.6M493.8 152.7h3.6m-1.8-1.8v3.6M628.1 164.9h3.6m-1.8-1.8v3.6M643.0 188.5h3.6m-1.8-1.8v3.6M545.5 189.3h3.6m-1.8-1.8v3.6M651.1 193.3h3.6m-1.8-1.8v3.6M486.7 167.6h3.6m-1.8-1.8v3.6M504.0 190.5h3.6m-1.8-1.8v3.6M601.0 175.7h3.6m-1.8-1.8v3.6M564.7 173.6h3.6m-1.8-1.8v3.6M441.1 182.7h3.6m-1.8-1.8v3.6M487.2 192.3h3.6m-1.8-1.8v3.6M574.7 191.6h3.6m-1.8-1.8v3.6M593.3 190.7h3.6m-1.8-1.8v3.6M566.6 182.9h3.6m-1.8-1.8v3.6M632.0 184.5h3.6m-1.8-1.8v3.6M503.5 174.7h3.6m-1.8-1.8v3.6M443.7 179.5h3.6m-1.8-1.8v3.6M585.6 190.1h3.6m-1.8-1.8v3.6M654.6 180.0h3.6m-1.8-1.8v3.6M571.5 189.0h3.6m-1.8-1.8v3.6M376.0 175.7h3.6m-1.8-1.8v3.6M608.2 163.6h3.6m-1.8-1.8v3.6M582.8 179.5h3.6m-1.8-1.8v3.6M641.8 164.0h3.6m-1.8-1.8v3.6M466.6 177.3h3.6m-1.8-1.8v3.6M427.7 174.7h3.6m-1.8-1.8v3.6M645.2 191.6h3.6m-1.8-1.8v3.6M418.0 171.6h3.6m-1.8-1.8v3.6M496.7 192.1h3.6m-1.8-1.8v3.6M640.3 189.5h3.6m-1.8-1.8v3.6M513.1 184.9h3.6m-1.8-1.8v3.6M578.7 190.2h3.6m-1.8-1.8v3.6M467.6 178.3h3.6m-1.8-1.8v3.6M584.5 179.9h3.6m-1.8-1.8v3.6M495.2 184.3h3.6m-1.8-1.8v3.6M615.2 190.6h3.6m-1.8-1.8v3.6M509.8 168.6h3.6m-1.8-1.8v3.6M636.2 185.3h3.6m-1.8-1.8v3.6M446.2 187.7h3.6m-1.8-1.8v3.6M436.1 183.6h3.6m-1.8-1.8v3.6M583.9 161.3h3.6m-1.8-1.8v3.6M524.8 184.2h3.6m-1.8-1.8v3.6M510.6 187.7h3.6m-1.8-1.8v3.6M469.6 185.6h3.6m-1.8-1.8v3.6M530.3 176.8h3.6m-1.8-1.8v3.6M540.5 163.1h3.6m-1.8-1.8v3.6M547.6 185.5h3.6m-1.8-1.8v3.6M505.5 176.9h3.6m-1.8-1.8v3.6M396.9 174.5h3.6m-1.8-1.8v3.6M473.5 177.5h3.6m-1.8-1.8v3.6M470.4 186.0h3.6m-1.8-1.8v3.6M562.7 184.2h3.6m-1.8-1.8v3.6M405.6 190.9h3.6m-1.8-1.8v3.6M376.3 188.2h3.6m-1.8-1.8v3.6M585.1 191.9h3.6m-1.8-1.8v3.6M420.6 182.3h3.6m-1.8-1.8v3.6M574.8 161.1h3.6m-1.8-1.8v3.6M533.0 190.8h3.6m-1.8-1.8v3.6M475.8 189.9h3.6m-1.8-1.8v3.6M487.9 181.8h3.6m-1.8-1.8v3.6M643.3 184.6h3.6m-1.8-1.8v3.6M555.4 173.6h3.6m-1.8-1.8v3.6M451.4 187.7h3.6m-1.8-1.8v3.6M516.1 183.8h3.6m-1.8-1.8v3.6M650.6 189.3h3.6m-1.8-1.8v3.6M490.5 166.5h3.6m-1.8-1.8v3.6M392.6 192.7h3.6m-1.8-1.8v3.6M595.9 190.0h3.6m-1.8-1.8v3.6M598.9 164.7h3.6m-1.8-1.8v3.6M474.0 176.2h3.6m-1.8-1.8v3.6M638.9 192.0h3.6m-1.8-1.8v3.6M461.7 173.0h3.6m-1.8-1.8v3.6M525.9 188.0h3.6m-1.8-1.8v3.6M541.6 190.5h3.6m-1.8-1.8v3.6M645.6 185.2h3.6m-1.8-1.8v3.6M541.0 177.8h3.6m-1.8-1.8v3.6M436.2 181.6h3.6m-1.8-1.8v3.6M586.6 190.7h3.6m-1.8-1.8v3.6M570.5 190.1h3.6m-1.8-1.8v3.6M381.1 170.7h3.6m-1.8-1.8v3.6M518.7 167.0h3.6m-1.8-1.8v3.6M565.6 191.3h3.6m-1.8-1.8v3.6M408.6 190.7h3.6m-1.8-1.8v3.6M573.9 173.3h3.6m-1.8-1.8v3.6M478.4 169.5h3.6m-1.8-1.8v3.6M652.5 189.5h3.6m-1.8-1.8v3.6M492.4 176.1h3.6m-1.8-1.8v3.6M528.7 167.9h3.6m-1.8-1.8v3.6M572.1 189.7h3.6m-1.8-1.8v3.6M391.2 173.7h3.6m-1.8-1.8v3.6M551.3 180.0h3.6m-1.8-1.8v3.6M590.4 177.8h3.6m-1.8-1.8v3.6M493.1 175.9h3.6m-1.8-1.8v3.6M481.2 192.1h3.6m-1.8-1.8v3.6M415.9 191.4h3.6m-1.8-1.8v3.6M512.0 189.7h3.6m-1.8-1.8v3.6M555.1 188.3h3.6m-1.8-1.8v3.6M493.7 173.6h3.6m-1.8-1.8v3.6M517.7 173.7h3.6m-1.8-1.8v3.6M616.8 190.6h3.6m-1.8-1.8v3.6M409.9 191.3h3.6m-1.8-1.8v3.6M624.6 165.2h3.6m-1.8-1.8v3.6M516.7 191.4h3.6m-1.8-1.8v3.6M629.6 192.7h3.6m-1.8-1.8v3.6M654.7 170.5h3.6m-1.8-1.8v3.6M381.9 182.7h3.6m-1.8-1.8v3.6M376.8 192.4h3.6m-1.8-1.8v3.6M393.2 180.4h3.6m-1.8-1.8v3.6M467.6 192.5h3.6m-1.8-1.8v3.6M440.1 188.3h3.6m-1.8-1.8v3.6M633.5 192.7h3.6m-1.8-1.8v3.6M552.1 191.4h3.6m-1.8-1.8v3.6M485.0 179.9h3.6m-1.8-1.8v3.6M443.4 181.9h3.6m-1.8-1.8v3.6M493.5 191.4h3.6m-1.8-1.8v3.6M406.3 177.8h3.6m-1.8-1.8v3.6M425.2 164.5h3.6m-1.8-1.8v3.6M384.6 190.0h3.6m-1.8-1.8v3.6M628.9 187.2h3.6m-1.8-1.8v3.6M472.0 187.8h3.6m-1.8-1.8v3.6M508.0 188.3h3.6m-1.8-1.8v3.6M413.7 182.2h3.6m-1.8-1.8v3.6M376.8 179.1h3.6m-1.8-1.8v3.6M543.4 177.0h3.6m-1.8-1.8v3.6M433.0 190.3h3.6m-1.8-1.8v3.6M629.5 178.7h3.6m-1.8-1.8v3.6M561.4 181.3h3.6m-1.8-1.8v3.6M452.2 182.6h3.6m-1.8-1.8v3.6M595.0 180.6h3.6m-1.8-1.8v3.6M529.2 191.2h3.6m-1.8-1.8v3.6M524.3 190.9h3.6m-1.8-1.8v3.6M599.5 185.7h3.6m-1.8-1.8v3.6M552.0 177.0h3.6m-1.8-1.8v3.6M613.6 187.1h3.6m-1.8-1.8v3.6M391.3 189.1h3.6m-1.8-1.8v3.6M574.7 178.9h3.6m-1.8-1.8v3.6M392.6 187.2h3.6m-1.8-1.8v3.6M472.3 179.3h3.6m-1.8-1.8v3.6M504.4 190.8h3.6m-1.8-1.8v3.6M532.8 190.7h3.6m-1.8-1.8v3.6M471.4 183.8h3.6m-1.8-1.8v3.6M398.2 162.3h3.6m-1.8-1.8v3.6M637.2 190.4h3.6m-1.8-1.8v3.6M629.8 186.7h3.6m-1.8-1.8v3.6M551.5 188.7h3.6m-1.8-1.8v3.6M633.8 184.7h3.6m-1.8-1.8v3.6M505.6 168.2h3.6m-1.8-1.8v3.6M455.2 186.1h3.6m-1.8-1.8v3.6M391.4 190.9h3.6m-1.8-1.8v3.6M563.8 187.5h3.6m-1.8-1.8v3.6M437.3 189.0h3.6m-1.8-1.8v3.6M626.0 183.9h3.6m-1.8-1.8v3.6M465.8 159.5h3.6m-1.8-1.8v3.6M423.8 192.7h3.6m-1.8-1.8v3.6M656.8 189.3h3.6m-1.8-1.8v3.6M496.9 167.8h3.6m-1.8-1.8v3.6M597.6 189.5h3.6m-1.8-1.8v3.6M559.8 190.3h3.6m-1.8-1.8v3.6M391.7 178.0h3.6m-1.8-1.8v3.6M468.4 191.0h3.6m-1.8-1.8v3.6M623.8 174.6h3.6m-1.8-1.8v3.6M578.7 185.8h3.6m-1.8-1.8v3.6M624.4 192.4h3.6m-1.8-1.8v3.6M408.7 172.0h3.6m-1.8-1.8v3.6M440.4 184.5h3.6m-1.8-1.8v3.6M536.0 183.6h3.6m-1.8-1.8v3.6M533.9 186.8h3.6m-1.8-1.8v3.6M421.8 179.5h3.6m-1.8-1.8v3.6M440.2 186.4h3.6m-1.8-1.8v3.6M426.9 193.6h3.6m-1.8-1.8v3.6M585.8 192.5h3.6m-1.8-1.8v3.6M519.8 191.2h3.6m-1.8-1.8v3.6M509.6 181.8h3.6m-1.8-1.8v3.6M556.4 162.9h3.6m-1.8-1.8v3.6M595.0 183.5h3.6m-1.8-1.8v3.6M386.0 185.8h3.6m-1.8-1.8v3.6M388.6 190.1h3.6m-1.8-1.8v3.6M407.1 188.9h3.6m-1.8-1.8v3.6M524.4 188.4h3.6m-1.8-1.8v3.6M504.8 177.5h3.6m-1.8-1.8v3.6M505.7 190.5h3.6m-1.8-1.8v3.6M422.1 180.2h3.6m-1.8-1.8v3.6M636.4 180.7h3.6m-1.8-1.8v3.6M599.3 169.3h3.6m-1.8-1.8v3.6M628.3 186.6h3.6m-1.8-1.8v3.6M479.9 166.7h3.6m-1.8-1.8v3.6M482.3 168.2h3.6m-1.8-1.8v3.6M572.3 188.3h3.6m-1.8-1.8v3.6M457.6 185.3h3.6m-1.8-1.8v3.6M438.6 190.2h3.6m-1.8-1.8v3.6M429.6 191.4h3.6m-1.8-1.8v3.6M391.1 189.4h3.6m-1.8-1.8v3.6M618.3 184.8h3.6m-1.8-1.8v3.6M508.0 190.0h3.6m-1.8-1.8v3.6M642.6 191.2h3.6m-1.8-1.8v3.6M597.8 161.3h3.6m-1.8-1.8v3.6M631.2 176.5h3.6m-1.8-1.8v3.6M656.7 158.6h3.6m-1.8-1.8v3.6M623.7 185.8h3.6m-1.8-1.8v3.6M406.5 176.8h3.6m-1.8-1.8v3.6M574.9 187.6h3.6m-1.8-1.8v3.6M435.6 188.1h3.6m-1.8-1.8v3.6M513.8 186.2h3.6m-1.8-1.8v3.6M543.4 184.7h3.6m-1.8-1.8v3.6M512.9 164.9h3.6m-1.8-1.8v3.6M540.9 174.7h3.6m-1.8-1.8v3.6M421.7 190.5h3.6m-1.8-1.8v3.6M592.0 168.7h3.6m-1.8-1.8v3.6M437.5 190.3h3.6m-1.8-1.8v3.6M537.8 189.3h3.6m-1.8-1.8v3.6M597.2 161.7h3.6m-1.8-1.8v3.6M420.8 184.1h3.6m-1.8-1.8v3.6M555.9 192.5h3.6m-1.8-1.8v3.6M593.9 161.3h3.6m-1.8-1.8v3.6M639.2 163.4h3.6m-1.8-1.8v3.6M429.1 182.0h3.6m-1.8-1.8v3.6M605.2 176.7h3.6m-1.8-1.8v3.6M567.1 192.3h3.6m-1.8-1.8v3.6M390.4 190.7h3.6m-1.8-1.8v3.6M562.0 179.7h3.6m-1.8-1.8v3.6M467.2 164.8h3.6m-1.8-1.8v3.6M398.8 184.6h3.6m-1.8-1.8v3.6M614.4 192.9h3.6m-1.8-1.8v3.6M445.1 179.5h3.6m-1.8-1.8v3.6M563.2 186.5h3.6m-1.8-1.8v3.6M592.4 191.0h3.6m-1.8-1.8v3.6M477.5 191.7h3.6m-1.8-1.8v3.6M441.1 187.2h3.6m-1.8-1.8v3.6M620.1 193.3h3.6m-1.8-1.8v3.6M412.9 185.7h3.6m-1.8-1.8v3.6M638.6 188.4h3.6m-1.8-1.8v3.6M412.8 179.3h3.6m-1.8-1.8v3.6M439.2 176.0h3.6m-1.8-1.8v3.6M646.2 164.3h3.6m-1.8-1.8v3.6M603.3 186.5h3.6m-1.8-1.8v3.6M522.0 172.4h3.6m-1.8-1.8v3.6M535.1 192.3h3.6m-1.8-1.8v3.6M590.0 189.8h3.6m-1.8-1.8v3.6M377.7 188.6h3.6m-1.8-1.8v3.6M569.2 180.7h3.6m-1.8-1.8v3.6M607.3 164.8h3.6m-1.8-1.8v3.6M440.6 177.8h3.6m-1.8-1.8v3.6M487.7 184.3h3.6m-1.8-1.8v3.6M464.8 190.2h3.6m-1.8-1.8v3.6M504.4 177.0h3.6m-1.8-1.8v3.6M471.1 190.0h3.6m-1.8-1.8v3.6M501.9 191.9h3.6m-1.8-1.8v3.6M500.1 181.4h3.6m-1.8-1.8v3.6M442.4 162.9h3.6m-1.8-1.8v3.6M520.8 187.2h3.6m-1.8-1.8v3.6M391.9 189.7h3.6m-1.8-1.8v3.6M652.5 190.6h3.6m-1.8-1.8v3.6M430.4 192.2h3.6m-1.8-1.8v3.6M472.3 187.5h3.6m-1.8-1.8v3.6M612.4 176.6h3.6m-1.8-1.8v3.6M462.4 190.4h3.6m-1.8-1.8v3.6M581.4 173.6h3.6m-1.8-1.8v3.6M605.8 190.5h3.6m-1.8-1.8v3.6M571.4 182.8h3.6m-1.8-1.8v3.6M506.8 185.1h3.6m-1.8-1.8v3.6M547.4 174.1h3.6m-1.8-1.8v3.6M533.1 189.9h3.6m-1.8-1.8v3.6M574.8 189.9h3.6m-1.8-1.8v3.6M389.6 190.4h3.6m-1.8-1.8v3.6M498.4 184.9h3.6m-1.8-1.8v3.6M638.8 186.9h3.6m-1.8-1.8v3.6M643.6 191.2h3.6m-1.8-1.8v3.6M583.1 165.5h3.6m-1.8-1.8v3.6M487.8 189.3h3.6m-1.8-1.8v3.6M451.3 172.2h3.6m-1.8-1.8v3.6M642.7 181.3h3.6m-1.8-1.8v3.6M478.0 177.8h3.6m-1.8-1.8v3.6M586.2 176.5h3.6m-1.8-1.8v3.6M492.4 165.0h3.6m-1.8-1.8v3.6M607.1 175.1h3.6m-1.8-1.8v3.6M577.4 191.7h3.6m-1.8-1.8v3.6M379.0 189.6h3.6m-1.8-1.8v3.6M491.3 181.8h3.6m-1.8-1.8v3.6M624.9 174.5h3.6m-1.8-1.8v3.6M470.0 188.6h3.6m-1.8-1.8v3.6M614.0 167.9h3.6m-1.8-1.8v3.6M558.9 188.2h3.6m-1.8-1.8v3.6M590.6 189.4h3.6m-1.8-1.8v3.6M416.6 180.5h3.6m-1.8-1.8v3.6M633.2 189.6h3.6m-1.8-1.8v3.6M519.8 191.3h3.6m-1.8-1.8v3.6M441.1 182.6h3.6m-1.8-1.8v3.6M611.6 163.4h3.6m-1.8-1.8v3.6M566.3 178.7h3.6m-1.8-1.8v3.6M612.3 177.6h3.6m-1.8-1.8v3.6M647.3 192.8h3.6m-1.8-1.8v3.6M549.2 185.9h3.6m-1.8-1.8v3.6M516.4 186.0h3.6m-1.8-1.8v3.6M543.3 167.5h3.6m-1.8-1.8v3.6M404.7 184.9h3.6m-1.8-1.8v3.6M594.0 180.8h3.6m-1.8-1.8v3.6M440.5 179.0h3.6m-1.8-1.8v3.6M431.1 174.7h3.6m-1.8-1.8v3.6M383.0 184.0h3.6m-1.8-1.8v3.6M411.0 184.9h3.6m-1.8-1.8v3.6M509.5 173.9h3.6m-1.8-1.8v3.6M628.9 180.7h3.6m-1.8-1.8v3.6M419.6 180.7h3.6m-1.8-1.8v3.6M609.4 190.4h3.6m-1.8-1.8v3.6M419.3 163.2h3.6m-1.8-1.8v3.6M616.9 189.4h3.6m-1.8-1.8v3.6M527.6 178.0h3.6m-1.8-1.8v3.6M598.9 185.8h3.6m-1.8-1.8v3.6M441.1 179.1h3.6m-1.8-1.8v3.6M583.9 191.7h3.6m-1.8-1.8v3.6M506.3 184.1h3.6m-1.8-1.8v3.6M564.6 192.7h3.6m-1.8-1.8v3.6M462.4 185.9h3.6m-1.8-1.8v3.6M456.2 192.7h3.6m-1.8-1.8v3.6M514.4 176.0h3.6m-1.8-1.8v3.6M647.2 178.3h3.6m-1.8-1.8v3.6M625.7 162.3h3.6m-1.8-1.8v3.6M430.4 186.9h3.6m-1.8-1.8v3.6M423.0 182.3h3.6m-1.8-1.8v3.6M413.4 190.0h3.6m-1.8-1.8v3.6M606.0 192.8h3.6m-1.8-1.8v3.6M376.6 176.9h3.6m-1.8-1.8v3.6M418.7 185.6h3.6m-1.8-1.8v3.6M581.5 180.9h3.6m-1.8-1.8v3.6M405.7 160.6h3.6m-1.8-1.8v3.6M406.4 190.1h3.6m-1.8-1.8v3.6M594.9 177.8h3.6m-1.8-1.8v3.6M554.3 192.0h3.6m-1.8-1.8v3.6M512.6 185.7h3.6m-1.8-1.8v3.6M473.1 175.5h3.6m-1.8-1.8v3.6M403.0 179.3h3.6m-1.8-1.8v3.6M521.8 178.6h3.6m-1.8-1.8v3.6M653.7 190.5h3.6m-1.8-1.8v3.6M466.5 189.9h3.6m-1.8-1.8v3.6M576.7 182.3h3.6m-1.8-1.8v3.6M615.1 164.3h3.6m-1.8-1.8v3.6M505.5 185.6h3.6m-1.8-1.8v3.6M525.1 186.1h3.6m-1.8-1.8v3.6M537.6 187.9h3.6m-1.8-1.8v3.6M493.2 176.6h3.6m-1.8-1.8v3.6M509.3 177.8h3.6m-1.8-1.8v3.6M378.0 177.2h3.6m-1.8-1.8v3.6M576.6 180.9h3.6m-1.8-1.8v3.6M517.4 193.3h3.6m-1.8-1.8v3.6M388.2 186.1h3.6m-1.8-1.8v3.6M649.9 171.0h3.6m-1.8-1.8v3.6M564.1 179.6h3.6m-1.8-1.8v3.6M480.4 189.2h3.6m-1.8-1.8v3.6M439.9 186.2h3.6m-1.8-1.8v3.6M459.5 192.1h3.6m-1.8-1.8v3.6M465.0 179.9h3.6m-1.8-1.8v3.6M598.2 182.7h3.6m-1.8-1.8v3.6M383.0 172.5h3.6m-1.8-1.8v3.6M599.6 191.9h3.6m-1.8-1.8v3.6M460.1 173.0h3.6m-1.8-1.8v3.6M420.4 164.1h3.6m-1.8-1.8v3.6M413.5 185.7h3.6m-1.8-1.8v3.6M645.3 189.7h3.6m-1.8-1.8v3.6M577.3 190.3h3.6m-1.8-1.8v3.6M575.1 192.4h3.6m-1.8-1.8v3.6M399.0 176.7h3.6m-1.8-1.8v3.6M614.6 182.3h3.6m-1.8-1.8v3.6M554.1 163.8h3.6m-1.8-1.8v3.6M648.0 174.3h3.6m-1.8-1.8v3.6M643.9 190.9h3.6m-1.8-1.8v3.6M559.6 189.9h3.6m-1.8-1.8v3.6M652.1 175.4h3.6m-1.8-1.8v3.6M525.1 191.8h3.6m-1.8-1.8v3.6M608.2 193.0h3.6m-1.8-1.8v3.6M476.0 187.3h3.6m-1.8-1.8v3.6M467.1 190.9h3.6m-1.8-1.8v3.6M514.6 187.5h3.6m-1.8-1.8v3.6M630.9 170.5h3.6m-1.8-1.8v3.6M484.0 173.6h3.6m-1.8-1.8v3.6M493.6 191.8h3.6m-1.8-1.8v3.6M515.8 189.7h3.6m-1.8-1.8v3.6M599.1 192.8h3.6m-1.8-1.8v3.6M563.5 186.2h3.6m-1.8-1.8v3.6M490.8 186.1h3.6m-1.8-1.8v3.6M390.1 192.7h3.6m-1.8-1.8v3.6M383.2 189.5h3.6m-1.8-1.8v3.6M475.9 176.8h3.6m-1.8-1.8v3.6M574.7 170.2h3.6m-1.8-1.8v3.6M590.8 192.6h3.6m-1.8-1.8v3.6M479.2 190.7h3.6m-1.8-1.8v3.6M478.5 190.2h3.6m-1.8-1.8v3.6M649.6 190.5h3.6m-1.8-1.8v3.6M480.7 189.7h3.6m-1.8-1.8v3.6M572.4 192.5h3.6m-1.8-1.8v3.6M643.7 189.9h3.6m-1.8-1.8v3.6M654.5 180.4h3.6m-1.8-1.8v3.6M377.3 180.0h3.6m-1.8-1.8v3.6M572.0 192.5h3.6m-1.8-1.8v3.6M397.2 172.9h3.6m-1.8-1.8v3.6M474.5 184.7h3.6m-1.8-1.8v3.6M449.6 192.6h3.6m-1.8-1.8v3.6M578.7 164.4h3.6m-1.8-1.8v3.6M498.8 181.7h3.6m-1.8-1.8v3.6M594.0 180.6h3.6m-1.8-1.8v3.6M477.3 173.5h3.6m-1.8-1.8v3.6M537.7 176.3h3.6m-1.8-1.8v3.6M516.5 191.7h3.6m-1.8-1.8v3.6M595.8 193.0h3.6m-1.8-1.8v3.6M414.0 172.5h3.6m-1.8-1.8v3.6M468.4 187.0h3.6m-1.8-1.8v3.6M515.0 192.5h3.6m-1.8-1.8v3.6M646.4 181.4h3.6m-1.8-1.8v3.6M550.8 182.7h3.6m-1.8-1.8v3.6M572.3 180.1h3.6m-1.8-1.8v3.6M460.5 185.3h3.6m-1.8-1.8v3.6M598.3 192.6h3.6m-1.8-1.8v3.6M506.7 176.5h3.6m-1.8-1.8v3.6M537.4 184.0h3.6m-1.8-1.8v3.6M591.3 189.9h3.6m-1.8-1.8v3.6M502.3 165.4h3.6m-1.8-1.8v3.6M461.5 185.1h3.6m-1.8-1.8v3.6M597.8 183.3h3.6m-1.8-1.8v3.6M438.9 180.7h3.6m-1.8-1.8v3.6M469.6 189.4h3.6m-1.8-1.8v3.6M518.5 159.2h3.6m-1.8-1.8v3.6M472.0 189.6h3.6m-1.8-1.8v3.6M591.1 192.4h3.6m-1.8-1.8v3.6M460.9 191.2h3.6m-1.8-1.8v3.6M509.1 189.4h3.6m-1.8-1.8v3.6M524.1 151.6h3.6m-1.8-1.8v3.6M607.8 189.0h3.6m-1.8-1.8v3.6M510.7 176.0h3.6m-1.8-1.8v3.6M396.7 177.5h3.6m-1.8-1.8v3.6M520.0 159.9h3.6m-1.8-1.8v3.6M378.2 180.6h3.6m-1.8-1.8v3.6M567.5 191.7h3.6m-1.8-1.8v3.6M511.6 193.1h3.6m-1.8-1.8v3.6M463.7 177.4h3.6m-1.8-1.8v3.6M468.2 177.5h3.6m-1.8-1.8v3.6M507.7 193.5h3.6m-1.8-1.8v3.6M457.8 182.9h3.6m-1.8-1.8v3.6M457.0 181.4h3.6m-1.8-1.8v3.6M620.1 191.3h3.6m-1.8-1.8v3.6M596.7 151.4h3.6m-1.8-1.8v3.6M561.3 189.9h3.6m-1.8-1.8v3.6M515.1 177.8h3.6m-1.8-1.8v3.6M435.9 189.6h3.6m-1.8-1.8v3.6M627.3 191.7h3.6m-1.8-1.8v3.6M618.1 184.3h3.6m-1.8-1.8v3.6M657.4 192.1h3.6m-1.8-1.8v3.6M419.9 160.6h3.6m-1.8-1.8v3.6M449.6 171.6h3.6m-1.8-1.8v3.6M511.9 164.0h3.6m-1.8-1.8v3.6M570.9 163.9h3.6m-1.8-1.8v3.6M574.3 163.4h3.6m-1.8-1.8v3.6M451.2 190.9h3.6m-1.8-1.8v3.6M518.7 175.0h3.6m-1.8-1.8v3.6M624.5 185.2h3.6m-1.8-1.8v3.6M562.7 160.7h3.6m-1.8-1.8v3.6M476.3 180.5h3.6m-1.8-1.8v3.6M600.6 175.1h3.6m-1.8-1.8v3.6M619.6 169.4h3.6m-1.8-1.8v3.6M470.2 191.6h3.6m-1.8-1.8v3.6M584.7 180.5h3.6m-1.8-1.8v3.6M541.8 187.6h3.6m-1.8-1.8v3.6M517.7 192.6h3.6m-1.8-1.8v3.6M555.9 189.7h3.6m-1.8-1.8v3.6M524.9 189.9h3.6m-1.8-1.8v3.6M453.8 190.5h3.6m-1.8-1.8v3.6M633.5 167.6h3.6m-1.8-1.8v3.6M648.5 186.1h3.6m-1.8-1.8v3.6M423.4 177.2h3.6m-1.8-1.8v3.6M640.8 161.7h3.6m-1.8-1.8v3.6M569.1 157.0h3.6m-1.8-1.8v3.6M617.4 170.1h3.6m-1.8-1.8v3.6M622.6 179.4h3.6m-1.8-1.8v3.6M498.3 179.4h3.6m-1.8-1.8v3.6M599.7 185.1h3.6m-1.8-1.8v3.6M449.8 173.8h3.6m-1.8-1.8v3.6M565.0 177.4h3.6m-1.8-1.8v3.6M600.2 176.6h3.6m-1.8-1.8v3.6M389.1 176.3h3.6m-1.8-1.8v3.6M526.6 176.2h3.6m-1.8-1.8v3.6M515.4 189.9h3.6m-1.8-1.8v3.6M618.9 180.0h3.6m-1.8-1.8v3.6M418.3 171.6h3.6m-1.8-1.8v3.6M581.8 192.4h3.6m-1.8-1.8v3.6M562.8 171.1h3.6m-1.8-1.8v3.6M569.8 183.3h3.6m-1.8-1.8v3.6M456.1 178.7h3.6m-1.8-1.8v3.6M532.1 188.0h3.6m-1.8-1.8v3.6M470.9 190.2h3.6m-1.8-1.8v3.6M503.1 186.5h3.6m-1.8-1.8v3.6M479.1 189.8h3.6m-1.8-1.8v3.6M461.3 177.5h3.6m-1.8-1.8v3.6M483.2 181.8h3.6m-1.8-1.8v3.6M642.0 182.3h3.6m-1.8-1.8v3.6M406.3 185.4h3.6m-1.8-1.8v3.6M560.2 180.8h3.6m-1.8-1.8v3.6M612.5 184.2h3.6m-1.8-1.8v3.6M404.2 183.4h3.6m-1.8-1.8v3.6M609.7 190.2h3.6m-1.8-1.8v3.6M562.3 177.2h3.6m-1.8-1.8v3.6M521.7 190.3h3.6m-1.8-1.8v3.6M567.2 176.8h3.6m-1.8-1.8v3.6M628.9 189.2h3.6m-1.8-1.8v3.6M594.3 178.9h3.6m-1.8-1.8v3.6M454.2 176.1h3.6m-1.8-1.8v3.6M542.1 182.7h3.6m-1.8-1.8v3.6M392.4 187.0h3.6m-1.8-1.8v3.6M542.7 171.7h3.6m-1.8-1.8v3.6M644.7 190.5h3.6m-1.8-1.8v3.6M487.9 187.3h3.6m-1.8-1.8v3.6M481.4 184.8h3.6m-1.8-1.8v3.6M599.4 173.1h3.6m-1.8-1.8v3.6M592.9 192.1h3.6m-1.8-1.8v3.6M609.5 168.5h3.6m-1.8-1.8v3.6M518.8 162.7h3.6m-1.8-1.8v3.6M540.1 191.4h3.6m-1.8-1.8v3.6M433.0 183.0h3.6m-1.8-1.8v3.6M438.0 191.5h3.6m-1.8-1.8v3.6M567.9 179.6h3.6m-1.8-1.8v3.6M657.8 162.9h3.6m-1.8-1.8v3.6M502.6 189.2h3.6m-1.8-1.8v3.6M641.2 162.0h3.6m-1.8-1.8v3.6M484.8 184.3h3.6m-1.8-1.8v3.6M404.6 182.1h3.6m-1.8-1.8v3.6M637.3 192.2h3.6m-1.8-1.8v3.6M519.7 188.5h3.6m-1.8-1.8v3.6M424.2 191.8h3.6m-1.8-1.8v3.6M455.2 189.8h3.6m-1.8-1.8v3.6M558.0 187.5h3.6m-1.8-1.8v3.6M567.4 179.2h3.6m-1.8-1.8v3.6M614.7 184.4h3.6m-1.8-1.8v3.6M478.4 163.8h3.6m-1.8-1.8v3.6M386.6 177.6h3.6m-1.8-1.8v3.6M550.8 184.8h3.6m-1.8-1.8v3.6M574.8 184.3h3.6m-1.8-1.8v3.6M559.6 160.6h3.6m-1.8-1.8v3.6M556.1 176.3h3.6m-1.8-1.8v3.6M433.2 177.4h3.6m-1.8-1.8v3.6M505.4 183.9h3.6m-1.8-1.8v3.6M461.3 177.2h3.6m-1.8-1.8v3.6M608.9 162.1h3.6m-1.8-1.8v3.6M603.3 189.1h3.6m-1.8-1.8v3.6M522.6 192.4h3.6m-1.8-1.8v3.6M396.6 189.8h3.6m-1.8-1.8v3.6M519.5 172.7h3.6m-1.8-1.8v3.6M462.7 186.9h3.6m-1.8-1.8v3.6M651.1 192.8h3.6m-1.8-1.8v3.6M437.7 186.5h3.6m-1.8-1.8v3.6M409.9 178.5h3.6m-1.8-1.8v3.6M530.0 184.7h3.6m-1.8-1.8v3.6M445.2 192.4h3.6m-1.8-1.8v3.6M483.8 173.9h3.6m-1.8-1.8v3.6M622.6 192.3h3.6m-1.8-1.8v3.6M425.6 177.0h3.6m-1.8-1.8v3.6M534.7 180.9h3.6m-1.8-1.8v3.6M524.2 177.5h3.6m-1.8-1.8v3.6M512.3 191.3h3.6m-1.8-1.8v3.6M520.9 193.5h3.6m-1.8-1.8v3.6M516.0 186.9h3.6m-1.8-1.8v3.6M557.5 181.0h3.6m-1.8-1.8v3.6M600.3 177.9h3.6m-1.8-1.8v3.6M491.1 192.5h3.6m-1.8-1.8v3.6M482.1 168.6h3.6m-1.8-1.8v3.6M497.2 182.9h3.6m-1.8-1.8v3.6M391.1 179.1h3.6m-1.8-1.8v3.6M411.5 191.5h3.6m-1.8-1.8v3.6M548.2 186.0h3.6m-1.8-1.8v3.6M424.3 188.4h3.6m-1.8-1.8v3.6M632.1 183.8h3.6m-1.8-1.8v3.6M400.3 169.0h3.6m-1.8-1.8v3.6M440.4 192.5h3.6m-1.8-1.8v3.6M613.9 190.0h3.6m-1.8-1.8v3.6M621.7 185.6h3.6m-1.8-1.8v3.6M444.2 162.8h3.6m-1.8-1.8v3.6M584.2 186.5h3.6m-1.8-1.8v3.6M650.7 188.5h3.6m-1.8-1.8v3.6M439.8 191.7h3.6m-1.8-1.8v3.6M638.6 187.1h3.6m-1.8-1.8v3.6M461.2 172.4h3.6m-1.8-1.8v3.6M463.9 188.5h3.6m-1.8-1.8v3.6M605.1 181.9h3.6m-1.8-1.8v3.6M567.0 170.3h3.6m-1.8-1.8v3.6M382.7 188.8h3.6m-1.8-1.8v3.6M617.1 181.6h3.6m-1.8-1.8v3.6M569.7 164.3h3.6m-1.8-1.8v3.6M634.9 175.3h3.6m-1.8-1.8v3.6M586.3 180.6h3.6m-1.8-1.8v3.6M533.1 191.2h3.6m-1.8-1.8v3.6M427.2 193.3h3.6m-1.8-1.8v3.6M620.9 173.8h3.6m-1.8-1.8v3.6M504.2 181.5h3.6m-1.8-1.8v3.6M399.8 165.4h3.6m-1.8-1.8v3.6M407.9 187.4h3.6m-1.8-1.8v3.6M556.3 185.0h3.6m-1.8-1.8v3.6M522.0 173.5h3.6m-1.8-1.8v3.6M591.9 178.5h3.6m-1.8-1.8v3.6M405.6 192.3h3.6m-1.8-1.8v3.6M383.9 185.4h3.6m-1.8-1.8v3.6M427.4 192.8h3.6m-1.8-1.8v3.6M627.3 186.0h3.6m-1.8-1.8v3.6M536.3 184.8h3.6m-1.8-1.8v3.6M396.4 160.6h3.6m-1.8-1.8v3.6M580.3 176.9h3.6m-1.8-1.8v3.6M392.7 190.0h3.6m-1.8-1.8v3.6M430.8 179.4h3.6m-1.8-1.8v3.6M543.0 184.7h3.6m-1.8-1.8v3.6M637.0 176.7h3.6m-1.8-1.8v3.6M566.1 154.1h3.6m-1.8-1.8v3.6M531.5 191.3h3.6m-1.8-1.8v3.6M452.5 193.4h3.6m-1.8-1.8v3.6M595.5 186.8h3.6m-1.8-1.8v3.6M576.5 178.0h3.6m-1.8-1.8v3.6M441.0 192.7h3.6m-1.8-1.8v3.6M645.1 176.0h3.6m-1.8-1.8v3.6M638.1 190.6h3.6m-1.8-1.8v3.6M505.3 183.1h3.6m-1.8-1.8v3.6M439.0 180.7h3.6m-1.8-1.8v3.6M494.8 165.6h3.6m-1.8-1.8v3.6M427.2 192.5h3.6m-1.8-1.8v3.6M475.3 192.4h3.6m-1.8-1.8v3.6M409.9 188.6h3.6m-1.8-1.8v3.6M637.4 174.0h3.6m-1.8-1.8v3.6M527.2 193.4h3.6m-1.8-1.8v3.6M607.1 192.1h3.6m-1.8-1.8v3.6M442.6 189.2h3.6m-1.8-1.8v3.6M437.9 176.7h3.6m-1.8-1.8v3.6M559.4 177.7h3.6m-1.8-1.8v3.6M628.3 177.5h3.6m-1.8-1.8v3.6M580.6 171.0h3.6m-1.8-1.8v3.6M398.0 190.0h3.6m-1.8-1.8v3.6M647.1 178.4h3.6m-1.8-1.8v3.6M631.7 180.5h3.6m-1.8-1.8v3.6M595.7 189.0h3.6m-1.8-1.8v3.6M390.4 188.4h3.6m-1.8-1.8v3.6M523.2 186.3h3.6m-1.8-1.8v3.6M464.5 192.5h3.6m-1.8-1.8v3.6M564.0 178.3h3.6m-1.8-1.8v3.6M621.9 187.9h3.6m-1.8-1.8v3.6M560.4 163.8h3.6m-1.8-1.8v3.6M435.4 191.9h3.6m-1.8-1.8v3.6M641.9 186.4h3.6m-1.8-1.8v3.6M592.2 181.1h3.6m-1.8-1.8v3.6M380.4 192.3h3.6m-1.8-1.8v3.6M607.4 179.6h3.6m-1.8-1.8v3.6M589.2 192.4h3.6m-1.8-1.8v3.6M600.0 185.9h3.6m-1.8-1.8v3.6M413.1 192.2h3.6m-1.8-1.8v3.6M514.7 178.7h3.6m-1.8-1.8v3.6M571.0 184.2h3.6m-1.8-1.8v3.6M548.8 193.5h3.6m-1.8-1.8v3.6M529.4 178.8h3.6m-1.8-1.8v3.6M441.4 188.7h3.6m-1.8-1.8v3.6M560.4 176.9h3.6m-1.8-1.8v3.6M484.6 180.8h3.6m-1.8-1.8v3.6M593.1 190.5h3.6m-1.8-1.8v3.6M503.1 176.2h3.6m-1.8-1.8v3.6M612.7 169.1h3.6m-1.8-1.8v3.6M423.6 186.8h3.6m-1.8-1.8v3.6M624.8 191.9h3.6m-1.8-1.8v3.6M480.0 181.0h3.6m-1.8-1.8v3.6M384.3 191.4h3.6m-1.8-1.8v3.6M514.9 180.1h3.6m-1.8-1.8v3.6M580.7 189.3h3.6m-1.8-1.8v3.6M380.2 190.9h3.6m-1.8-1.8v3.6M558.0 181.8h3.6m-1.8-1.8v3.6M503.3 187.7h3.6m-1.8-1.8v3.6M496.9 190.6h3.6m-1.8-1.8v3.6M423.3 177.8h3.6m-1.8-1.8v3.6M605.4 176.1h3.6m-1.8-1.8v3.6M603.2 192.7h3.6m-1.8-1.8v3.6M453.4 176.9h3.6m-1.8-1.8v3.6M435.9 188.1h3.6m-1.8-1.8v3.6M580.3 189.7h3.6m-1.8-1.8v3.6M460.5 190.1h3.6m-1.8-1.8v3.6M581.6 163.4h3.6m-1.8-1.8v3.6M503.9 180.0h3.6m-1.8-1.8v3.6M515.3 182.8h3.6m-1.8-1.8v3.6M499.4 165.8h3.6m-1.8-1.8v3.6M599.6 191.3h3.6m-1.8-1.8v3.6M501.9 192.4h3.6m-1.8-1.8v3.6M377.7 189.3h3.6m-1.8-1.8v3.6M425.9 176.5h3.6m-1.8-1.8v3.6M569.5 182.5h3.6m-1.8-1.8v3.6M397.5 179.5h3.6m-1.8-1.8v3.6M485.7 184.7h3.6m-1.8-1.8v3.6M385.5 180.3h3.6m-1.8-1.8v3.6M648.8 181.6h3.6m-1.8-1.8v3.6M640.7 172.3h3.6m-1.8-1.8v3.6M645.6 183.6h3.6m-1.8-1.8v3.6M538.3 192.0h3.6m-1.8-1.8v3.6M518.0 171.1h3.6m-1.8-1.8v3.6M473.4 165.1h3.6m-1.8-1.8v3.6M425.7 177.0h3.6m-1.8-1.8v3.6M507.6 179.5h3.6m-1.8-1.8v3.6M441.1 177.3h3.6m-1.8-1.8v3.6M543.5 169.6h3.6m-1.8-1.8v3.6M444.5 179.8h3.6m-1.8-1.8v3.6M450.8 175.6h3.6m-1.8-1.8v3.6M404.0 180.8h3.6m-1.8-1.8v3.6M565.1 192.1h3.6m-1.8-1.8v3.6M514.3 177.0h3.6m-1.8-1.8v3.6M497.5 182.6h3.6m-1.8-1.8v3.6M503.4 184.9h3.6m-1.8-1.8v3.6M529.3 192.3h3.6m-1.8-1.8v3.6M447.0 187.0h3.6m-1.8-1.8v3.6M453.6 181.7h3.6m-1.8-1.8v3.6M441.7 165.1h3.6m-1.8-1.8v3.6M458.9 182.2h3.6m-1.8-1.8v3.6M462.0 181.2h3.6m-1.8-1.8v3.6M482.0 166.2h3.6m-1.8-1.8v3.6M418.5 189.0h3.6m-1.8-1.8v3.6M535.5 169.4h3.6m-1.8-1.8v3.6M623.2 188.1h3.6m-1.8-1.8v3.6M528.7 184.3h3.6m-1.8-1.8v3.6M447.2 182.9h3.6m-1.8-1.8v3.6M407.5 191.2h3.6m-1.8-1.8v3.6M570.5 192.5h3.6m-1.8-1.8v3.6M617.8 185.2h3.6m-1.8-1.8v3.6M468.4 180.2h3.6m-1.8-1.8v3.6M477.5 192.9h3.6m-1.8-1.8v3.6M573.7 177.7h3.6m-1.8-1.8v3.6M438.0 186.4h3.6m-1.8-1.8v3.6M455.4 187.6h3.6m-1.8-1.8v3.6M438.2 185.9h3.6m-1.8-1.8v3.6M399.5 162.2h3.6m-1.8-1.8v3.6M478.2 193.1h3.6m-1.8-1.8v3.6M427.6 191.3h3.6m-1.8-1.8v3.6M558.3 175.0h3.6m-1.8-1.8v3.6M602.9 191.8h3.6m-1.8-1.8v3.6M431.5 178.7h3.6m-1.8-1.8v3.6M586.6 192.6h3.6m-1.8-1.8v3.6M421.5 185.8h3.6m-1.8-1.8v3.6M642.3 175.0h3.6m-1.8-1.8v3.6M452.7 186.2h3.6m-1.8-1.8v3.6M600.2 189.9h3.6m-1.8-1.8v3.6M542.0 177.2h3.6m-1.8-1.8v3.6M474.1 168.5h3.6m-1.8-1.8v3.6M627.8 161.7h3.6m-1.8-1.8v3.6M594.5 174.7h3.6m-1.8-1.8v3.6M503.7 167.5h3.6m-1.8-1.8v3.6M462.0 177.2h3.6m-1.8-1.8v3.6M486.9 187.8h3.6m-1.8-1.8v3.6M378.7 182.8h3.6m-1.8-1.8v3.6M562.7 193.4h3.6m-1.8-1.8v3.6M388.4 192.1h3.6m-1.8-1.8v3.6M433.3 186.7h3.6m-1.8-1.8v3.6M569.2 191.4h3.6m-1.8-1.8v3.6M495.0 189.7h3.6m-1.8-1.8v3.6M639.1 163.7h3.6m-1.8-1.8v3.6M382.6 178.2h3.6m-1.8-1.8v3.6M474.1 179.7h3.6m-1.8-1.8v3.6M531.9 181.3h3.6m-1.8-1.8v3.6M522.9 171.1h3.6m-1.8-1.8v3.6M584.2 191.6h3.6m-1.8-1.8v3.6M631.2 181.6h3.6m-1.8-1.8v3.6M525.7 177.1h3.6m-1.8-1.8v3.6M455.4 189.9h3.6m-1.8-1.8v3.6M651.2 192.5h3.6m-1.8-1.8v3.6M445.3 181.3h3.6m-1.8-1.8v3.6M447.9 175.4h3.6m-1.8-1.8v3.6M516.2 185.4h3.6m-1.8-1.8v3.6M385.1 189.5h3.6m-1.8-1.8v3.6M457.3 177.0h3.6m-1.8-1.8v3.6M463.3 189.9h3.6m-1.8-1.8v3.6M488.6 187.9h3.6m-1.8-1.8v3.6M411.5 180.4h3.6m-1.8-1.8v3.6M528.1 181.0h3.6m-1.8-1.8v3.6M537.4 189.6h3.6m-1.8-1.8v3.6M427.7 179.2h3.6m-1.8-1.8v3.6M438.9 172.4h3.6m-1.8-1.8v3.6M583.4 193.1h3.6m-1.8-1.8v3.6M604.1 192.3h3.6m-1.8-1.8v3.6M540.6 179.5h3.6m-1.8-1.8v3.6M577.5 186.9h3.6m-1.8-1.8v3.6M637.5 185.4h3.6m-1.8-1.8v3.6M407.2 181.7h3.6m-1.8-1.8v3.6M521.5 192.0h3.6m-1.8-1.8v3.6M555.0 190.4h3.6m-1.8-1.8v3.6M550.2 168.0h3.6m-1.8-1.8v3.6M590.8 177.6h3.6m-1.8-1.8v3.6M541.3 186.5h3.6m-1.8-1.8v3.6M614.0 183.8h3.6m-1.8-1.8v3.6M548.8 160.3h3.6m-1.8-1.8v3.6M431.5 163.4h3.6m-1.8-1.8v3.6M498.5 179.6h3.6m-1.8-1.8v3.6M472.3 184.2h3.6m-1.8-1.8v3.6M511.3 187.9h3.6m-1.8-1.8v3.6M379.0 175.6h3.6m-1.8-1.8v3.6M634.0 190.9h3.6m-1.8-1.8v3.6M426.1 189.5h3.6m-1.8-1.8v3.6M405.2 174.5h3.6m-1.8-1.8v3.6M418.7 181.8h3.6m-1.8-1.8v3.6M612.0 189.3h3.6m-1.8-1.8v3.6M386.4 184.2h3.6m-1.8-1.8v3.6M656.7 191.8h3.6m-1.8-1.8v3.6M525.4 188.9h3.6m-1.8-1.8v3.6M453.5 190.0h3.6m-1.8-1.8v3.6M538.1 186.9h3.6m-1.8-1.8v3.6M447.7 190.1h3.6m-1.8-1.8v3.6M592.8 187.2h3.6m-1.8-1.8v3.6M638.6 181.4h3.6m-1.8-1.8v3.6M634.5 180.1h3.6m-1.8-1.8v3.6M465.3 164.6h3.6m-1.8-1.8v3.6M425.1 187.2h3.6m-1.8-1.8v3.6M504.7 176.5h3.6m-1.8-1.8v3.6M439.4 188.9h3.6m-1.8-1.8v3.6M503.4 182.5h3.6m-1.8-1.8v3.6M560.6 190.2h3.6m-1.8-1.8v3.6M640.5 180.1h3.6m-1.8-1.8v3.6M462.8 171.2h3.6m-1.8-1.8v3.6M575.3 187.1h3.6m-1.8-1.8v3.6M427.9 171.3h3.6m-1.8-1.8v3.6M575.7 174.1h3.6m-1.8-1.8v3.6M399.0 176.6h3.6m-1.8-1.8v3.6M543.8 168.7h3.6m-1.8-1.8v3.6M492.0 188.8h3.6m-1.8-1.8v3.6M548.8 187.5h3.6m-1.8-1.8v3.6M557.6 177.1h3.6m-1.8-1.8v3.6M651.2 193.5h3.6m-1.8-1.8v3.6M382.2 180.8h3.6m-1.8-1.8v3.6M443.9 172.9h3.6m-1.8-1.8v3.6M415.0 176.6h3.6m-1.8-1.8v3.6M576.9 190.2h3.6m-1.8-1.8v3.6M474.3 191.6h3.6m-1.8-1.8v3.6M516.9 190.3h3.6m-1.8-1.8v3.6M495.1 165.4h3.6m-1.8-1.8v3.6M647.3 179.8h3.6m-1.8-1.8v3.6M605.7 182.8h3.6m-1.8-1.8v3.6M649.7 179.7h3.6m-1.8-1.8v3.6M512.1 176.7h3.6m-1.8-1.8v3.6M415.3 160.6h3.6m-1.8-1.8v3.6M425.3 177.4h3.6m-1.8-1.8v3.6M578.9 155.9h3.6m-1.8-1.8v3.6M635.2 181.0h3.6m-1.8-1.8v3.6M631.9 173.7h3.6m-1.8-1.8v3.6M424.8 191.0h3.6m-1.8-1.8v3.6M631.3 177.0h3.6m-1.8-1.8v3.6M406.5 183.0h3.6m-1.8-1.8v3.6M480.3 188.5h3.6m-1.8-1.8v3.6M384.1 173.9h3.6m-1.8-1.8v3.6M467.7 177.2h3.6m-1.8-1.8v3.6M461.4 178.9h3.6m-1.8-1.8v3.6M541.2 182.6h3.6m-1.8-1.8v3.6M639.0 189.7h3.6m-1.8-1.8v3.6M527.8 192.6h3.6m-1.8-1.8v3.6M561.8 189.8h3.6m-1.8-1.8v3.6M376.2 160.6h3.6m-1.8-1.8v3.6M555.3 185.0h3.6m-1.8-1.8v3.6M558.7 177.8h3.6m-1.8-1.8v3.6M441.0 183.6h3.6m-1.8-1.8v3.6M467.4 183.3h3.6m-1.8-1.8v3.6M636.6 186.1h3.6m-1.8-1.8v3.6M530.9 193.6h3.6m-1.8-1.8v3.6M383.7 170.1h3.6m-1.8-1.8v3.6M589.5 182.8h3.6m-1.8-1.8v3.6M418.2 184.2h3.6m-1.8-1.8v3.6M567.1 189.6h3.6m-1.8-1.8v3.6M542.1 165.0h3.6m-1.8-1.8v3.6M580.9 160.6h3.6m-1.8-1.8v3.6M442.5 178.4h3.6m-1.8-1.8v3.6M573.3 191.0h3.6m-1.8-1.8v3.6M459.9 177.2h3.6m-1.8-1.8v3.6M579.8 190.2h3.6m-1.8-1.8v3.6M447.3 171.2h3.6m-1.8-1.8v3.6M648.5 189.8h3.6m-1.8-1.8v3.6M552.8 192.1h3.6m-1.8-1.8v3.6M578.2 189.2h3.6m-1.8-1.8v3.6M526.8 189.6h3.6m-1.8-1.8v3.6M614.9 176.7h3.6m-1.8-1.8v3.6M426.0 177.4h3.6m-1.8-1.8v3.6M630.9 190.9h3.6m-1.8-1.8v3.6M515.4 184.1h3.6m-1.8-1.8v3.6M456.8 187.8h3.6m-1.8-1.8v3.6M445.4 164.4h3.6m-1.8-1.8v3.6M434.0 164.7h3.6m-1.8-1.8v3.6M385.0 183.8h3.6m-1.8-1.8v3.6M561.5 161.3h3.6m-1.8-1.8v3.6M379.8 176.5h3.6m-1.8-1.8v3.6M547.9 176.7h3.6m-1.8-1.8v3.6M528.9 173.4h3.6m-1.8-1.8v3.6M556.4 173.4h3.6m-1.8-1.8v3.6M406.3 192.3h3.6m-1.8-1.8v3.6M637.8 183.8h3.6m-1.8-1.8v3.6M415.9 185.6h3.6m-1.8-1.8v3.6M560.1 192.5h3.6m-1.8-1.8v3.6M528.6 169.1h3.6m-1.8-1.8v3.6M383.2 175.2h3.6m-1.8-1.8v3.6M555.6 153.4h3.6m-1.8-1.8v3.6M477.3 184.5h3.6m-1.8-1.8v3.6M517.0 191.0h3.6m-1.8-1.8v3.6M613.7 191.0h3.6m-1.8-1.8v3.6M527.7 178.9h3.6m-1.8-1.8v3.6M414.5 177.3h3.6m-1.8-1.8v3.6M627.2 181.5h3.6m-1.8-1.8v3.6M563.4 180.3h3.6m-1.8-1.8v3.6M452.3 183.2h3.6m-1.8-1.8v3.6M576.9 187.0h3.6m-1.8-1.8v3.6M552.3 191.3h3.6m-1.8-1.8v3.6M488.9 187.4h3.6m-1.8-1.8v3.6M391.6 187.6h3.6m-1.8-1.8v3.6M395.7 189.5h3.6m-1.8-1.8v3.6M517.8 193.4h3.6m-1.8-1.8v3.6M533.4 192.0h3.6m-1.8-1.8v3.6M529.0 183.4h3.6m-1.8-1.8v3.6M406.4 191.0h3.6m-1.8-1.8v3.6M376.3 186.4h3.6m-1.8-1.8v3.6M620.4 190.3h3.6m-1.8-1.8v3.6M416.8 176.6h3.6m-1.8-1.8v3.6M543.9 187.8h3.6m-1.8-1.8v3.6M479.3 186.9h3.6m-1.8-1.8v3.6M470.4 179.0h3.6m-1.8-1.8v3.6M651.5 167.1h3.6m-1.8-1.8v3.6M483.2 181.9h3.6m-1.8-1.8v3.6M654.7 192.7h3.6m-1.8-1.8v3.6M520.3 187.6h3.6m-1.8-1.8v3.6M650.5 190.9h3.6m-1.8-1.8v3.6M616.3 162.3h3.6m-1.8-1.8v3.6M582.0 191.5h3.6m-1.8-1.8v3.6M413.9 174.2h3.6m-1.8-1.8v3.6M391.9 161.0h3.6m-1.8-1.8v3.6M617.0 169.5h3.6m-1.8-1.8v3.6M499.6 184.7h3.6m-1.8-1.8v3.6M427.0 190.4h3.6m-1.8-1.8v3.6M634.6 184.1h3.6m-1.8-1.8v3.6M612.6 188.2h3.6m-1.8-1.8v3.6M597.5 170.3h3.6m-1.8-1.8v3.6M524.9 186.4h3.6m-1.8-1.8v3.6M495.8 191.1h3.6m-1.8-1.8v3.6M603.0 181.4h3.6m-1.8-1.8v3.6M582.4 189.9h3.6m-1.8-1.8v3.6M501.6 178.5h3.6m-1.8-1.8v3.6M381.7 192.9h3.6m-1.8-1.8v3.6M599.5 191.4h3.6m-1.8-1.8v3.6M461.1 185.8h3.6m-1.8-1.8v3.6M452.8 178.4h3.6m-1.8-1.8v3.6M619.5 181.2h3.6m-1.8-1.8v3.6M636.6 182.8h3.6m-1.8-1.8v3.6M593.3 191.2h3.6m-1.8-1.8v3.6M449.6 191.3h3.6m-1.8-1.8v3.6M456.5 179.6h3.6m-1.8-1.8v3.6M652.4 159.0h3.6m-1.8-1.8v3.6M604.4 190.8h3.6m-1.8-1.8v3.6M462.6 183.7h3.6m-1.8-1.8v3.6M407.6 181.7h3.6m-1.8-1.8v3.6M641.4 184.4h3.6m-1.8-1.8v3.6M628.8 181.9h3.6m-1.8-1.8v3.6M529.0 174.6h3.6m-1.8-1.8v3.6M390.8 172.5h3.6m-1.8-1.8v3.6M403.9 174.7h3.6m-1.8-1.8v3.6M504.9 193.1h3.6m-1.8-1.8v3.6M603.7 183.5h3.6m-1.8-1.8v3.6M525.4 180.0h3.6m-1.8-1.8v3.6M652.0 192.5h3.6m-1.8-1.8v3.6M593.9 180.1h3.6m-1.8-1.8v3.6M414.2 185.1h3.6m-1.8-1.8v3.6M382.2 190.0h3.6m-1.8-1.8v3.6M516.8 177.1h3.6m-1.8-1.8v3.6M640.4 186.9h3.6m-1.8-1.8v3.6M402.4 185.8h3.6m-1.8-1.8v3.6M657.1 182.8h3.6m-1.8-1.8v3.6M471.3 191.9h3.6m-1.8-1.8v3.6M437.8 188.7h3.6m-1.8-1.8v3.6M580.5 167.9h3.6m-1.8-1.8v3.6M456.1 190.4h3.6m-1.8-1.8v3.6M488.8 164.8h3.6m-1.8-1.8v3.6M549.5 174.5h3.6m-1.8-1.8v3.6M486.8 192.4h3.6m-1.8-1.8v3.6M647.6 179.4h3.6m-1.8-1.8v3.6M377.0 174.3h3.6m-1.8-1.8v3.6M610.5 188.9h3.6m-1.8-1.8v3.6M505.9 187.4h3.6m-1.8-1.8v3.6M425.7 193.6h3.6m-1.8-1.8v3.6M416.8 179.3h3.6m-1.8-1.8v3.6M563.5 191.5h3.6m-1.8-1.8v3.6M464.6 150.4h3.6m-1.8-1.8v3.6M629.4 182.3h3.6m-1.8-1.8v3.6M446.4 184.1h3.6m-1.8-1.8v3.6M541.6 192.7h3.6m-1.8-1.8v3.6M455.5 187.7h3.6m-1.8-1.8v3.6M481.7 183.6h3.6m-1.8-1.8v3.6M476.9 183.5h3.6m-1.8-1.8v3.6M552.3 182.6h3.6m-1.8-1.8v3.6M409.8 182.4h3.6m-1.8-1.8v3.6M577.0 166.6h3.6m-1.8-1.8v3.6M544.8 188.4h3.6m-1.8-1.8v3.6M538.1 187.3h3.6m-1.8-1.8v3.6M438.2 160.6h3.6m-1.8-1.8v3.6M462.2 191.6h3.6m-1.8-1.8v3.6M609.7 179.0h3.6m-1.8-1.8v3.6M441.8 181.6h3.6m-1.8-1.8v3.6M544.0 166.9h3.6m-1.8-1.8v3.6M511.2 186.3h3.6m-1.8-1.8v3.6M504.1 177.4h3.6m-1.8-1.8v3.6M461.5 190.9h3.6m-1.8-1.8v3.6M601.6 178.5h3.6m-1.8-1.8v3.6M442.7 172.1h3.6m-1.8-1.8v3.6M467.8 180.2h3.6m-1.8-1.8v3.6M641.9 178.3h3.6m-1.8-1.8v3.6M627.2 164.1h3.6m-1.8-1.8v3.6M504.6 182.9h3.6m-1.8-1.8v3.6M404.6 177.9h3.6m-1.8-1.8v3.6M528.4 192.4h3.6m-1.8-1.8v3.6M632.5 191.4h3.6m-1.8-1.8v3.6M456.2 190.1h3.6m-1.8-1.8v3.6M514.5 182.0h3.6m-1.8-1.8v3.6M454.1 191.7h3.6m-1.8-1.8v3.6M427.1 186.4h3.6m-1.8-1.8v3.6M616.1 191.4h3.6m-1.8-1.8v3.6M454.4 193.1h3.6m-1.8-1.8v3.6M533.7 182.8h3.6m-1.8-1.8v3.6M567.7 189.4h3.6m-1.8-1.8v3.6M640.6 190.0h3.6m-1.8-1.8v3.6M600.1 190.9h3.6m-1.8-1.8v3.6M463.1 164.7h3.6m-1.8-1.8v3.6M514.4 193.1h3.6m-1.8-1.8v3.6M578.1 176.4h3.6m-1.8-1.8v3.6M656.3 192.4h3.6m-1.8-1.8v3.6M445.9 183.1h3.6m-1.8-1.8v3.6M379.0 170.7h3.6m-1.8-1.8v3.6M645.8 190.6h3.6m-1.8-1.8v3.6M457.2 189.6h3.6m-1.8-1.8v3.6M546.7 180.4h3.6m-1.8-1.8v3.6M587.7 164.3h3.6m-1.8-1.8v3.6M479.0 182.9h3.6m-1.8-1.8v3.6M517.1 187.6h3.6m-1.8-1.8v3.6M566.1 190.1h3.6m-1.8-1.8v3.6M400.4 178.7h3.6m-1.8-1.8v3.6M427.9 189.3h3.6m-1.8-1.8v3.6M407.6 178.2h3.6m-1.8-1.8v3.6M491.7 174.9h3.6m-1.8-1.8v3.6M567.5 176.1h3.6m-1.8-1.8v3.6M582.0 186.3h3.6m-1.8-1.8v3.6M416.3 176.2h3.6m-1.8-1.8v3.6M488.4 173.9h3.6m-1.8-1.8v3.6M538.7 180.0h3.6m-1.8-1.8v3.6M502.5 175.9h3.6m-1.8-1.8v3.6M656.3 190.1h3.6m-1.8-1.8v3.6M522.1 176.5h3.6m-1.8-1.8v3.6M401.2 175.1h3.6m-1.8-1.8v3.6M453.9 174.3h3.6m-1.8-1.8v3.6M434.7 183.1h3.6m-1.8-1.8v3.6M389.4 183.1h3.6m-1.8-1.8v3.6M428.5 175.9h3.6m-1.8-1.8v3.6M533.9 185.7h3.6m-1.8-1.8v3.6M652.5 185.2h3.6m-1.8-1.8v3.6M448.1 188.1h3.6m-1.8-1.8v3.6M647.2 176.6h3.6m-1.8-1.8v3.6M593.4 168.1h3.6m-1.8-1.8v3.6M641.3 178.0h3.6m-1.8-1.8v3.6M596.6 185.3h3.6m-1.8-1.8v3.6M580.3 176.2h3.6m-1.8-1.8v3.6M383.4 191.7h3.6m-1.8-1.8v3.6M629.5 160.5h3.6m-1.8-1.8v3.6M413.1 191.7h3.6m-1.8-1.8v3.6M574.2 193.2h3.6m-1.8-1.8v3.6M433.6 189.9h3.6m-1.8-1.8v3.6M635.7 181.5h3.6m-1.8-1.8v3.6M497.8 189.6h3.6m-1.8-1.8v3.6M398.9 192.5h3.6m-1.8-1.8v3.6M531.9 191.2h3.6m-1.8-1.8v3.6M516.6 191.4h3.6m-1.8-1.8v3.6M489.6 168.7h3.6m-1.8-1.8v3.6M576.3 190.0h3.6m-1.8-1.8v3.6M593.3 191.7h3.6m-1.8-1.8v3.6M477.3 193.5h3.6m-1.8-1.8v3.6M461.2 184.7h3.6m-1.8-1.8v3.6M605.7 177.2h3.6m-1.8-1.8v3.6M439.4 187.0h3.6m-1.8-1.8v3.6M416.3 184.7h3.6m-1.8-1.8v3.6M485.4 180.2h3.6m-1.8-1.8v3.6M581.6 170.6h3.6m-1.8-1.8v3.6M540.2 177.8h3.6m-1.8-1.8v3.6M468.7 175.0h3.6m-1.8-1.8v3.6M592.8 174.8h3.6m-1.8-1.8v3.6M543.3 190.1h3.6m-1.8-1.8v3.6M483.9 162.8h3.6m-1.8-1.8v3.6M412.6 185.1h3.6m-1.8-1.8v3.6M548.1 191.4h3.6m-1.8-1.8v3.6M502.4 185.1h3.6m-1.8-1.8v3.6M531.9 164.8h3.6m-1.8-1.8v3.6M390.7 190.8h3.6m-1.8-1.8v3.6M385.2 179.3h3.6m-1.8-1.8v3.6M377.3 192.8h3.6m-1.8-1.8v3.6M483.1 165.1h3.6m-1.8-1.8v3.6M485.5 189.5h3.6m-1.8-1.8v3.6M471.0 181.7h3.6m-1.8-1.8v3.6M600.5 187.3h3.6m-1.8-1.8v3.6M414.3 190.8h3.6m-1.8-1.8v3.6M600.7 183.0h3.6m-1.8-1.8v3.6M491.1 191.7h3.6m-1.8-1.8v3.6M407.3 180.4h3.6m-1.8-1.8v3.6M541.3 164.3h3.6m-1.8-1.8v3.6M579.6 176.4h3.6m-1.8-1.8v3.6M585.1 183.9h3.6m-1.8-1.8v3.6M409.9 178.2h3.6m-1.8-1.8v3.6M577.4 165.6h3.6m-1.8-1.8v3.6M394.3 179.1h3.6m-1.8-1.8v3.6M579.3 185.4h3.6m-1.8-1.8v3.6M486.7 187.0h3.6m-1.8-1.8v3.6M508.7 190.2h3.6m-1.8-1.8v3.6M423.5 183.5h3.6m-1.8-1.8v3.6M514.1 187.0h3.6m-1.8-1.8v3.6M657.5 184.1h3.6m-1.8-1.8v3.6M460.2 187.8h3.6m-1.8-1.8v3.6M495.2 192.2h3.6m-1.8-1.8v3.6M503.8 180.3h3.6m-1.8-1.8v3.6M390.0 188.8h3.6m-1.8-1.8v3.6M505.9 164.4h3.6m-1.8-1.8v3.6M580.2 171.4h3.6m-1.8-1.8v3.6M550.2 190.5h3.6m-1.8-1.8v3.6M450.7 189.0h3.6m-1.8-1.8v3.6M520.4 178.6h3.6m-1.8-1.8v3.6M523.4 175.5h3.6m-1.8-1.8v3.6M518.2 187.7h3.6m-1.8-1.8v3.6M492.6 193.1h3.6m-1.8-1.8v3.6M469.3 183.4h3.6m-1.8-1.8v3.6M577.1 192.8h3.6m-1.8-1.8v3.6M637.8 193.0h3.6m-1.8-1.8v3.6M532.7 178.7h3.6m-1.8-1.8v3.6M617.7 185.5h3.6m-1.8-1.8v3.6M501.1 164.8h3.6m-1.8-1.8v3.6M512.0 169.3h3.6m-1.8-1.8v3.6M402.7 169.7h3.6m-1.8-1.8v3.6M586.5 189.8h3.6m-1.8-1.8v3.6M416.3 190.6h3.6m-1.8-1.8v3.6M570.9 170.6h3.6m-1.8-1.8v3.6M395.5 190.9h3.6m-1.8-1.8v3.6M590.6 180.4h3.6m-1.8-1.8v3.6M482.7 181.7h3.6m-1.8-1.8v3.6M570.2 190.5h3.6m-1.8-1.8v3.6M570.4 165.9h3.6m-1.8-1.8v3.6M553.7 188.8h3.6m-1.8-1.8v3.6M657.0 163.6h3.6m-1.8-1.8v3.6M561.3 171.5h3.6m-1.8-1.8v3.6M457.5 190.2h3.6m-1.8-1.8v3.6M602.5 176.6h3.6m-1.8-1.8v3.6M435.8 160.6h3.6m-1.8-1.8v3.6M531.0 193.4h3.6m-1.8-1.8v3.6M516.2 190.9h3.6m-1.8-1.8v3.6M442.1 173.9h3.6m-1.8-1.8v3.6M389.6 172.4h3.6m-1.8-1.8v3.6M436.7 181.9h3.6m-1.8-1.8v3.6M628.0 179.7h3.6m-1.8-1.8v3.6M641.4 159.1h3.6m-1.8-1.8v3.6M607.6 190.6h3.6m-1.8-1.8v3.6M616.6 179.0h3.6m-1.8-1.8v3.6M474.6 175.6h3.6m-1.8-1.8v3.6M532.4 190.8h3.6m-1.8-1.8v3.6M399.4 185.8h3.6m-1.8-1.8v3.6M411.5 190.8h3.6m-1.8-1.8v3.6M394.3 189.8h3.6m-1.8-1.8v3.6M576.0 183.4h3.6m-1.8-1.8v3.6M552.4 191.6h3.6m-1.8-1.8v3.6M632.4 190.6h3.6m-1.8-1.8v3.6M396.3 189.9h3.6m-1.8-1.8v3.6M396.8 191.8h3.6m-1.8-1.8v3.6M650.5 191.8h3.6m-1.8-1.8v3.6M462.2 189.2h3.6m-1.8-1.8v3.6M487.7 164.6h3.6m-1.8-1.8v3.6M610.4 172.0h3.6m-1.8-1.8v3.6M571.0 176.8h3.6m-1.8-1.8v3.6M390.6 170.8h3.6m-1.8-1.8v3.6M560.3 165.3h3.6m-1.8-1.8v3.6M548.7 191.5h3.6m-1.8-1.8v3.6M526.9 168.9h3.6m-1.8-1.8v3.6M483.4 165.6h3.6m-1.8-1.8v3.6M440.3 179.5h3.6m-1.8-1.8v3.6M589.0 176.8h3.6m-1.8-1.8v3.6M651.6 186.6h3.6m-1.8-1.8v3.6M400.7 192.0h3.6m-1.8-1.8v3.6M497.9 192.7h3.6m-1.8-1.8v3.6M620.2 186.9h3.6m-1.8-1.8v3.6M405.6 170.0h3.6m-1.8-1.8v3.6M591.4 181.7h3.6m-1.8-1.8v3.6M452.1 192.7h3.6m-1.8-1.8v3.6M466.6 193.2h3.6m-1.8-1.8v3.6M580.5 187.6h3.6m-1.8-1.8v3.6M596.5 181.9h3.6m-1.8-1.8v3.6M630.9 191.7h3.6m-1.8-1.8v3.6M395.7 180.6h3.6m-1.8-1.8v3.6M384.6 191.6h3.6m-1.8-1.8v3.6M606.4 188.7h3.6m-1.8-1.8v3.6M573.3 163.1h3.6m-1.8-1.8v3.6M484.9 192.1h3.6m-1.8-1.8v3.6M450.2 187.4h3.6m-1.8-1.8v3.6M615.0 178.3h3.6m-1.8-1.8v3.6M638.0 192.1h3.6m-1.8-1.8v3.6M598.5 176.6h3.6m-1.8-1.8v3.6M581.4 192.3h3.6m-1.8-1.8v3.6M457.3 190.9h3.6m-1.8-1.8v3.6M654.3 177.5h3.6m-1.8-1.8v3.6M450.7 192.5h3.6m-1.8-1.8v3.6M607.0 187.1h3.6m-1.8-1.8v3.6M621.8 186.3h3.6m-1.8-1.8v3.6M621.9 192.8h3.6m-1.8-1.8v3.6M550.1 181.7h3.6m-1.8-1.8v3.6M605.6 189.9h3.6m-1.8-1.8v3.6M580.0 191.2h3.6m-1.8-1.8v3.6M459.6 184.6h3.6m-1.8-1.8v3.6M408.8 186.6h3.6m-1.8-1.8v3.6M655.2 179.3h3.6m-1.8-1.8v3.6M603.9 182.0h3.6m-1.8-1.8v3.6M399.9 169.1h3.6m-1.8-1.8v3.6M635.8 192.8h3.6m-1.8-1.8v3.6M464.8 192.6h3.6m-1.8-1.8v3.6M403.3 178.7h3.6m-1.8-1.8v3.6M470.4 171.2h3.6m-1.8-1.8v3.6M537.8 175.4h3.6m-1.8-1.8v3.6M548.4 192.6h3.6m-1.8-1.8v3.6M654.5 184.4h3.6m-1.8-1.8v3.6M599.0 190.7h3.6m-1.8-1.8v3.6M655.3 172.1h3.6m-1.8-1.8v3.6M467.1 192.3h3.6m-1.8-1.8v3.6M652.5 176.6h3.6m-1.8-1.8v3.6M559.1 191.5h3.6m-1.8-1.8v3.6M644.9 191.5h3.6m-1.8-1.8v3.6M649.1 191.7h3.6m-1.8-1.8v3.6M602.0 170.7h3.6m-1.8-1.8v3.6M539.1 181.9h3.6m-1.8-1.8v3.6M652.2 189.1h3.6m-1.8-1.8v3.6M441.3 182.0h3.6m-1.8-1.8v3.6M600.0 189.6h3.6m-1.8-1.8v3.6M401.1 177.4h3.6m-1.8-1.8v3.6M378.7 179.7h3.6m-1.8-1.8v3.6M652.8 187.1h3.6m-1.8-1.8v3.6M406.5 192.9h3.6m-1.8-1.8v3.6M599.8 181.5h3.6m-1.8-1.8v3.6M594.5 177.1h3.6m-1.8-1.8v3.6M525.8 179.8h3.6m-1.8-1.8v3.6M445.8 190.4h3.6m-1.8-1.8v3.6M412.0 160.6h3.6m-1.8-1.8v3.6M470.4 159.6h3.6m-1.8-1.8v3.6M529.4 178.2h3.6m-1.8-1.8v3.6M548.9 187.7h3.6m-1.8-1.8v3.6M460.1 177.6h3.6m-1.8-1.8v3.6M538.9 180.7h3.6m-1.8-1.8v3.6M393.4 180.1h3.6m-1.8-1.8v3.6M398.7 174.4h3.6m-1.8-1.8v3.6M380.6 162.1h3.6m-1.8-1.8v3.6M609.1 165.4h3.6m-1.8-1.8v3.6M453.0 187.9h3.6m-1.8-1.8v3.6M576.7 185.0h3.6m-1.8-1.8v3.6M491.8 171.9h3.6m-1.8-1.8v3.6M484.7 173.5h3.6m-1.8-1.8v3.6M656.1 193.3h3.6m-1.8-1.8v3.6M572.5 177.3h3.6m-1.8-1.8v3.6M472.3 181.1h3.6m-1.8-1.8v3.6M532.4 178.7h3.6m-1.8-1.8v3.6M539.2 189.4h3.6m-1.8-1.8v3.6M470.0 171.5h3.6m-1.8-1.8v3.6M478.0 177.0h3.6m-1.8-1.8v3.6M391.1 186.2h3.6m-1.8-1.8v3.6M572.9 190.7h3.6m-1.8-1.8v3.6M386.5 185.6h3.6m-1.8-1.8v3.6M592.0 190.8h3.6m-1.8-1.8v3.6M382.5 192.4h3.6m-1.8-1.8v3.6M397.3 173.6h3.6m-1.8-1.8v3.6M609.8 183.7h3.6m-1.8-1.8v3.6M383.7 175.9h3.6m-1.8-1.8v3.6M557.1 172.7h3.6m-1.8-1.8v3.6M473.2 171.0h3.6m-1.8-1.8v3.6M632.8 187.3h3.6m-1.8-1.8v3.6M518.2 181.9h3.6m-1.8-1.8v3.6M609.9 188.6h3.6m-1.8-1.8v3.6M594.3 164.3h3.6m-1.8-1.8v3.6M403.8 179.0h3.6m-1.8-1.8v3.6M486.2 193.5h3.6m-1.8-1.8v3.6M574.8 192.2h3.6m-1.8-1.8v3.6M505.4 191.7h3.6m-1.8-1.8v3.6M583.5 192.3h3.6m-1.8-1.8v3.6M564.3 183.7h3.6m-1.8-1.8v3.6M455.9 177.7h3.6m-1.8-1.8v3.6M511.9 185.1h3.6m-1.8-1.8v3.6M408.3 177.6h3.6m-1.8-1.8v3.6M559.4 190.0h3.6m-1.8-1.8v3.6M431.5 192.5h3.6m-1.8-1.8v3.6M526.1 189.4h3.6m-1.8-1.8v3.6M490.7 190.7h3.6m-1.8-1.8v3.6M651.9 193.0h3.6m-1.8-1.8v3.6M408.6 186.6h3.6m-1.8-1.8v3.6M384.4 160.6h3.6m-1.8-1.8v3.6M455.8 185.0h3.6m-1.8-1.8v3.6M601.9 177.3h3.6m-1.8-1.8v3.6M582.4 183.6h3.6m-1.8-1.8v3.6M559.7 189.8h3.6m-1.8-1.8v3.6M513.5 192.1h3.6m-1.8-1.8v3.6M579.6 175.7h3.6m-1.8-1.8v3.6M484.4 165.2h3.6m-1.8-1.8v3.6M486.8 157.0h3.6m-1.8-1.8v3.6M522.4 191.6h3.6m-1.8-1.8v3.6M588.2 191.5h3.6m-1.8-1.8v3.6M649.2 191.7h3.6m-1.8-1.8v3.6M572.0 186.4h3.6m-1.8-1.8v3.6M584.5 181.4h3.6m-1.8-1.8v3.6M494.2 152.6h3.6m-1.8-1.8v3.6M438.5 175.5h3.6m-1.8-1.8v3.6M472.0 192.9h3.6m-1.8-1.8v3.6M386.1 186.5h3.6m-1.8-1.8v3.6M568.9 167.2h3.6m-1.8-1.8v3.6M647.8 164.6h3.6m-1.8-1.8v3.6M457.4 191.1h3.6m-1.8-1.8v3.6M479.4 165.5h3.6m-1.8-1.8v3.6M642.9 181.8h3.6m-1.8-1.8v3.6M581.4 180.3h3.6m-1.8-1.8v3.6M613.1 190.1h3.6m-1.8-1.8v3.6M654.0 170.4h3.6m-1.8-1.8v3.6M544.7 191.2h3.6m-1.8-1.8v3.6M459.5 177.7h3.6m-1.8-1.8v3.6M448.7 189.9h3.6m-1.8-1.8v3.6M526.9 176.3h3.6m-1.8-1.8v3.6M630.5 178.5h3.6m-1.8-1.8v3.6M548.2 187.0h3.6m-1.8-1.8v3.6M406.9 191.5h3.6m-1.8-1.8v3.6M631.3 187.6h3.6m-1.8-1.8v3.6M484.6 177.8h3.6m-1.8-1.8v3.6M397.7 184.0h3.6m-1.8-1.8v3.6M521.4 171.4h3.6m-1.8-1.8v3.6M564.3 186.7h3.6m-1.8-1.8v3.6M500.7 190.9h3.6m-1.8-1.8v3.6M647.0 190.8h3.6m-1.8-1.8v3.6M614.1 186.1h3.6m-1.8-1.8v3.6M598.8 181.7h3.6m-1.8-1.8v3.6M596.7 190.0h3.6m-1.8-1.8v3.6M409.9 173.4h3.6m-1.8-1.8v3.6M478.2 172.8h3.6m-1.8-1.8v3.6M654.9 190.1h3.6m-1.8-1.8v3.6M653.7 192.8h3.6m-1.8-1.8v3.6M509.3 183.2h3.6m-1.8-1.8v3.6M405.6 193.3h3.6m-1.8-1.8v3.6M406.9 180.0h3.6m-1.8-1.8v3.6M540.2 191.1h3.6m-1.8-1.8v3.6M653.8 164.6h3.6m-1.8-1.8v3.6M572.8 189.9h3.6m-1.8-1.8v3.6M467.5 178.0h3.6m-1.8-1.8v3.6M502.7 191.8h3.6m-1.8-1.8v3.6M564.7 181.8h3.6m-1.8-1.8v3.6M399.3 188.3h3.6m-1.8-1.8v3.6M419.8 192.7h3.6m-1.8-1.8v3.6M618.8 169.0h3.6m-1.8-1.8v3.6M466.7 178.2h3.6m-1.8-1.8v3.6M414.7 189.6h3.6m-1.8-1.8v3.6M452.9 163.3h3.6m-1.8-1.8v3.6M403.8 178.9h3.6m-1.8-1.8v3.6M618.1 184.2h3.6m-1.8-1.8v3.6M499.9 177.6h3.6m-1.8-1.8v3.6M486.9 191.1h3.6m-1.8-1.8v3.6M481.7 177.5h3.6m-1.8-1.8v3.6M563.7 177.9h3.6m-1.8-1.8v3.6M427.7 189.4h3.6m-1.8-1.8v3.6M407.3 188.1h3.6m-1.8-1.8v3.6M405.5 172.2h3.6m-1.8-1.8v3.6M466.8 181.2h3.6m-1.8-1.8v3.6M588.4 192.1h3.6m-1.8-1.8v3.6M475.4 187.8h3.6m-1.8-1.8v3.6M592.9 189.2h3.6m-1.8-1.8v3.6M529.2 190.6h3.6m-1.8-1.8v3.6M651.2 189.9h3.6m-1.8-1.8v3.6M539.3 190.9h3.6m-1.8-1.8v3.6M517.9 190.7h3.6m-1.8-1.8v3.6M518.4 178.1h3.6m-1.8-1.8v3.6M529.7 166.5h3.6m-1.8-1.8v3.6M448.1 188.0h3.6m-1.8-1.8v3.6M520.3 190.7h3.6m-1.8-1.8v3.6M449.9 190.2h3.6m-1.8-1.8v3.6M638.3 183.3h3.6m-1.8-1.8v3.6M497.2 186.7h3.6m-1.8-1.8v3.6M375.9 185.0h3.6m-1.8-1.8v3.6M471.3 190.3h3.6m-1.8-1.8v3.6M484.5 176.1h3.6m-1.8-1.8v3.6M654.7 189.5h3.6m-1.8-1.8v3.6M649.6 161.8h3.6m-1.8-1.8v3.6M651.7 179.6h3.6m-1.8-1.8v3.6M426.7 177.0h3.6m-1.8-1.8v3.6M618.3 167.4h3.6m-1.8-1.8v3.6M595.0 179.7h3.6m-1.8-1.8v3.6M636.2 181.7h3.6m-1.8-1.8v3.6M442.0 181.2h3.6m-1.8-1.8v3.6M541.8 190.5h3.6m-1.8-1.8v3.6M379.9 179.5h3.6m-1.8-1.8v3.6M656.1 189.4h3.6m-1.8-1.8v3.6M455.0 162.0h3.6m-1.8-1.8v3.6M602.1 182.4h3.6m-1.8-1.8v3.6M394.4 189.7h3.6m-1.8-1.8v3.6M391.7 177.4h3.6m-1.8-1.8v3.6M555.8 181.3h3.6m-1.8-1.8v3.6M598.5 190.9h3.6m-1.8-1.8v3.6M462.7 189.2h3.6m-1.8-1.8v3.6M475.4 187.2h3.6m-1.8-1.8v3.6M558.6 170.2h3.6m-1.8-1.8v3.6M602.0 178.3h3.6m-1.8-1.8v3.6M618.2 193.6h3.6m-1.8-1.8v3.6M493.9 192.6h3.6m-1.8-1.8v3.6M421.8 174.9h3.6m-1.8-1.8v3.6M555.8 191.0h3.6m-1.8-1.8v3.6M653.7 172.8h3.6m-1.8-1.8v3.6M648.5 186.0h3.6m-1.8-1.8v3.6M408.8 165.4h3.6m-1.8-1.8v3.6M493.9 181.0h3.6m-1.8-1.8v3.6M484.4 192.0h3.6m-1.8-1.8v3.6M383.6 177.7h3.6m-1.8-1.8v3.6M563.6 160.0h3.6m-1.8-1.8v3.6M532.7 192.3h3.6m-1.8-1.8v3.6M464.6 184.0h3.6m-1.8-1.8v3.6M629.9 187.3h3.6m-1.8-1.8v3.6M654.0 191.5h3.6m-1.8-1.8v3.6M522.8 186.3h3.6m-1.8-1.8v3.6M548.3 166.8h3.6m-1.8-1.8v3.6M643.5 190.9h3.6m-1.8-1.8v3.6M541.2 174.3h3.6m-1.8-1.8v3.6M650.7 191.0h3.6m-1.8-1.8v3.6M439.4 188.9h3.6m-1.8-1.8v3.6M525.2 189.6h3.6m-1.8-1.8v3.6M635.8 190.0h3.6m-1.8-1.8v3.6M530.8 177.8h3.6m-1.8-1.8v3.6M613.9 193.1h3.6m-1.8-1.8v3.6M557.0 190.7h3.6m-1.8-1.8v3.6M424.6 189.9h3.6m-1.8-1.8v3.6M414.5 192.5h3.6m-1.8-1.8v3.6M383.1 171.4h3.6m-1.8-1.8v3.6M539.7 190.4h3.6m-1.8-1.8v3.6M377.5 160.6h3.6m-1.8-1.8v3.6M566.3 190.2h3.6m-1.8-1.8v3.6M597.6 172.6h3.6m-1.8-1.8v3.6M481.2 174.0h3.6m-1.8-1.8v3.6M565.7 175.8h3.6m-1.8-1.8v3.6M535.4 162.0h3.6m-1.8-1.8v3.6M446.2 185.3h3.6m-1.8-1.8v3.6M422.5 190.8h3.6m-1.8-1.8v3.6M585.2 190.5h3.6m-1.8-1.8v3.6M489.9 191.0h3.6m-1.8-1.8v3.6M394.4 191.8h3.6m-1.8-1.8v3.6M517.6 168.9h3.6m-1.8-1.8v3.6M410.2 190.8h3.6m-1.8-1.8v3.6M400.5 192.1h3.6m-1.8-1.8v3.6M404.0 175.3h3.6m-1.8-1.8v3.6M466.3 190.5h3.6m-1.8-1.8v3.6M532.3 191.1h3.6m-1.8-1.8v3.6M483.9 192.6h3.6m-1.8-1.8v3.6M498.2 184.7h3.6m-1.8-1.8v3.6M579.5 185.1h3.6m-1.8-1.8v3.6M426.3 189.0h3.6m-1.8-1.8v3.6M497.3 185.0h3.6m-1.8-1.8v3.6M439.9 177.1h3.6m-1.8-1.8v3.6M611.0 175.9h3.6m-1.8-1.8v3.6M426.4 192.1h3.6m-1.8-1.8v3.6M520.1 180.0h3.6m-1.8-1.8v3.6M429.0 191.5h3.6m-1.8-1.8v3.6M522.1 186.7h3.6m-1.8-1.8v3.6M512.0 181.4h3.6m-1.8-1.8v3.6M564.6 191.8h3.6m-1.8-1.8v3.6M460.3 179.3h3.6m-1.8-1.8v3.6M596.3 162.1h3.6m-1.8-1.8v3.6M530.5 190.6h3.6m-1.8-1.8v3.6M624.9 172.6h3.6m-1.8-1.8v3.6M410.1 190.2h3.6m-1.8-1.8v3.6M459.3 190.0h3.6m-1.8-1.8v3.6M648.5 170.3h3.6m-1.8-1.8v3.6M624.6 172.7h3.6m-1.8-1.8v3.6M482.3 189.6h3.6m-1.8-1.8v3.6M606.2 186.1h3.6m-1.8-1.8v3.6M618.8 192.1h3.6m-1.8-1.8v3.6M550.7 191.5h3.6m-1.8-1.8v3.6M445.0 174.6h3.6m-1.8-1.8v3.6M503.6 165.0h3.6m-1.8-1.8v3.6M493.5 190.3h3.6m-1.8-1.8v3.6M644.2 190.9h3.6m-1.8-1.8v3.6M485.1 193.1h3.6m-1.8-1.8v3.6M488.1 191.4h3.6m-1.8-1.8v3.6M656.4 164.8h3.6m-1.8-1.8v3.6M504.0 193.5h3.6m-1.8-1.8v3.6M535.7 181.8h3.6m-1.8-1.8v3.6M463.3 182.5h3.6m-1.8-1.8v3.6M632.5 180.3h3.6m-1.8-1.8v3.6M382.9 178.7h3.6m-1.8-1.8v3.6M382.8 174.8h3.6m-1.8-1.8v3.6M399.9 177.0h3.6m-1.8-1.8v3.6M480.5 191.4h3.6m-1.8-1.8v3.6M392.8 160.6h3.6m-1.8-1.8v3.6M510.5 192.1h3.6m-1.8-1.8v3.6M375.7 191.6h3.6m-1.8-1.8v3.6M459.9 181.8h3.6m-1.8-1.8v3.6M388.3 173.0h3.6m-1.8-1.8v3.6M531.2 189.5h3.6m-1.8-1.8v3.6M482.8 181.4h3.6m-1.8-1.8v3.6M511.4 191.1h3.6m-1.8-1.8v3.6M623.2 160.8h3.6m-1.8-1.8v3.6M568.0 178.0h3.6m-1.8-1.8v3.6M395.6 178.8h3.6m-1.8-1.8v3.6M528.0 166.8h3.6m-1.8-1.8v3.6M458.7 165.4h3.6m-1.8-1.8v3.6M591.9 193.2h3.6m-1.8-1.8v3.6M386.1 191.2h3.6m-1.8-1.8v3.6M493.4 178.2h3.6m-1.8-1.8v3.6M469.8 189.8h3.6m-1.8-1.8v3.6M652.5 149.5h3.6m-1.8-1.8v3.6M529.7 189.6h3.6m-1.8-1.8v3.6M645.2 189.8h3.6m-1.8-1.8v3.6M390.7 189.0h3.6m-1.8-1.8v3.6M473.5 179.8h3.6m-1.8-1.8v3.6M491.7 191.1h3.6m-1.8-1.8v3.6M512.8 191.7h3.6m-1.8-1.8v3.6M458.1 178.3h3.6m-1.8-1.8v3.6M658.1 178.4h3.6m-1.8-1.8v3.6M494.8 172.4h3.6m-1.8-1.8v3.6M462.1 178.2h3.6m-1.8-1.8v3.6M620.8 161.8h3.6m-1.8-1.8v3.6M445.2 190.7h3.6m-1.8-1.8v3.6M541.6 188.8h3.6m-1.8-1.8v3.6M581.3 176.5h3.6m-1.8-1.8v3.6M468.2 188.2h3.6m-1.8-1.8v3.6M591.2 192.2h3.6m-1.8-1.8v3.6M599.9 191.8h3.6m-1.8-1.8v3.6M650.1 157.4h3.6m-1.8-1.8v3.6M596.7 186.1h3.6m-1.8-1.8v3.6M384.4 192.6h3.6m-1.8-1.8v3.6M401.5 178.3h3.6m-1.8-1.8v3.6M487.8 190.6h3.6m-1.8-1.8v3.6M549.4 160.4h3.6m-1.8-1.8v3.6M391.1 185.2h3.6m-1.8-1.8v3.6M509.7 168.4h3.6m-1.8-1.8v3.6M543.4 190.7h3.6m-1.8-1.8v3.6M516.9 192.7h3.6m-1.8-1.8v3.6M484.1 186.2h3.6m-1.8-1.8v3.6M519.1 171.7h3.6m-1.8-1.8v3.6M433.9 183.5h3.6m-1.8-1.8v3.6M389.4 183.7h3.6m-1.8-1.8v3.6M557.4 180.5h3.6m-1.8-1.8v3.6M400.0 188.3h3.6m-1.8-1.8v3.6M554.4 173.5h3.6m-1.8-1.8v3.6M596.8 192.6h3.6m-1.8-1.8v3.6M528.5 167.7h3.6m-1.8-1.8v3.6M627.9 163.5h3.6m-1.8-1.8v3.6M640.7 191.2h3.6m-1.8-1.8v3.6M433.1 192.3h3.6m-1.8-1.8v3.6M574.0 190.1h3.6m-1.8-1.8v3.6M474.5 159.5h3.6m-1.8-1.8v3.6M606.5 164.8h3.6m-1.8-1.8v3.6M390.0 170.9h3.6m-1.8-1.8v3.6M464.4 173.6h3.6m-1.8-1.8v3.6M470.3 180.0h3.6m-1.8-1.8v3.6M519.8 189.5h3.6m-1.8-1.8v3.6M396.8 190.2h3.6m-1.8-1.8v3.6M655.5 165.1h3.6m-1.8-1.8v3.6M507.5 189.7h3.6m-1.8-1.8v3.6M528.9 181.1h3.6m-1.8-1.8v3.6M441.2 174.6h3.6m-1.8-1.8v3.6M548.1 183.5h3.6m-1.8-1.8v3.6M644.5 192.8h3.6m-1.8-1.8v3.6M573.3 184.8h3.6m-1.8-1.8v3.6M588.6 189.4h3.6m-1.8-1.8v3.6M462.8 186.8h3.6m-1.8-1.8v3.6M419.0 175.9h3.6m-1.8-1.8v3.6M430.4 191.6h3.6m-1.8-1.8v3.6M395.3 190.4h3.6m-1.8-1.8v3.6M510.1 192.6h3.6m-1.8-1.8v3.6M646.3 191.5h3.6m-1.8-1.8v3.6M607.7 176.5h3.6m-1.8-1.8v3.6M462.3 180.9h3.6m-1.8-1.8v3.6M635.1 190.5h3.6m-1.8-1.8v3.6M385.5 178.6h3.6m-1.8-1.8v3.6M447.7 180.6h3.6m-1.8-1.8v3.6M376.4 191.6h3.6m-1.8-1.8v3.6M439.8 190.8h3.6m-1.8-1.8v3.6M417.7 176.7h3.6m-1.8-1.8v3.6M385.1 191.1h3.6m-1.8-1.8v3.6M510.1 167.7h3.6m-1.8-1.8v3.6M464.8 184.0h3.6m-1.8-1.8v3.6M528.4 189.7h3.6m-1.8-1.8v3.6M602.5 191.3h3.6m-1.8-1.8v3.6" stroke="#06068a" stroke-width="0.85" fill="none"/>
<path d="M502.2 86.6h3.6m-1.8-1.8v3.6M502.3 86.6h3.6m-1.8-1.8v3.6M549.4 85.2h3.6m-1.8-1.8v3.6M524.8 103.0h3.6m-1.8-1.8v3.6M513.9 107.4h3.6m-1.8-1.8v3.6M516.1 110.3h3.6m-1.8-1.8v3.6M513.3 107.1h3.6m-1.8-1.8v3.6M516.3 110.7h3.6m-1.8-1.8v3.6M538.4 116.2h3.6m-1.8-1.8v3.6M542.3 113.4h3.6m-1.8-1.8v3.6M546.3 113.6h3.6m-1.8-1.8v3.6M480.9 117.7h3.6m-1.8-1.8v3.6M481.7 118.3h3.6m-1.8-1.8v3.6M482.2 119.6h3.6m-1.8-1.8v3.6M475.5 128.1h3.6m-1.8-1.8v3.6M487.2 127.7h3.6m-1.8-1.8v3.6M481.5 135.8h3.6m-1.8-1.8v3.6M481.7 137.2h3.6m-1.8-1.8v3.6M492.6 135.2h3.6m-1.8-1.8v3.6M491.0 136.2h3.6m-1.8-1.8v3.6M498.3 138.8h3.6m-1.8-1.8v3.6M495.7 141.3h3.6m-1.8-1.8v3.6M489.6 142.3h3.6m-1.8-1.8v3.6M503.7 138.2h3.6m-1.8-1.8v3.6M504.7 142.3h3.6m-1.8-1.8v3.6M502.3 143.3h3.6m-1.8-1.8v3.6M453.3 143.3h3.6m-1.8-1.8v3.6M462.4 145.9h3.6m-1.8-1.8v3.6M465.4 144.9h3.6m-1.8-1.8v3.6M467.4 147.3h3.6m-1.8-1.8v3.6M471.5 142.3h3.6m-1.8-1.8v3.6M470.5 147.3h3.6m-1.8-1.8v3.6M463.4 153.3h3.6m-1.8-1.8v3.6M464.0 155.4h3.6m-1.8-1.8v3.6M473.5 152.3h3.6m-1.8-1.8v3.6M445.3 158.4h3.6m-1.8-1.8v3.6M488.6 146.7h3.6m-1.8-1.8v3.6M490.6 149.3h3.6m-1.8-1.8v3.6M491.6 152.3h3.6m-1.8-1.8v3.6M498.7 151.9h3.6m-1.8-1.8v3.6M500.7 153.3h3.6m-1.8-1.8v3.6M475.5 157.4h3.6m-1.8-1.8v3.6M478.5 157.4h3.6m-1.8-1.8v3.6M479.5 160.4h3.6m-1.8-1.8v3.6M509.2 129.7h3.6m-1.8-1.8v3.6M505.2 136.3h3.6m-1.8-1.8v3.6M504.8 142.4h3.6m-1.8-1.8v3.6M525.4 131.3h3.6m-1.8-1.8v3.6M527.8 131.3h3.6m-1.8-1.8v3.6M525.8 135.3h3.6m-1.8-1.8v3.6M528.4 136.3h3.6m-1.8-1.8v3.6M513.3 139.8h3.6m-1.8-1.8v3.6M516.3 139.8h3.6m-1.8-1.8v3.6M519.3 139.0h3.6m-1.8-1.8v3.6M521.3 137.3h3.6m-1.8-1.8v3.6M533.0 138.3h3.6m-1.8-1.8v3.6M541.5 144.4h3.6m-1.8-1.8v3.6M542.5 147.8h3.6m-1.8-1.8v3.6M545.5 147.8h3.6m-1.8-1.8v3.6M567.3 129.7h3.6m-1.8-1.8v3.6M568.7 132.3h3.6m-1.8-1.8v3.6M564.7 141.8h3.6m-1.8-1.8v3.6M568.7 141.4h3.6m-1.8-1.8v3.6M564.7 147.0h3.6m-1.8-1.8v3.6M568.1 147.0h3.6m-1.8-1.8v3.6M584.7 122.2h3.6m-1.8-1.8v3.6M599.5 120.8h3.6m-1.8-1.8v3.6M588.0 127.7h3.6m-1.8-1.8v3.6M588.0 129.5h3.6m-1.8-1.8v3.6M588.0 132.3h3.6m-1.8-1.8v3.6M600.5 127.3h3.6m-1.8-1.8v3.6M601.5 130.9h3.6m-1.8-1.8v3.6M581.9 133.3h3.6m-1.8-1.8v3.6M569.8 132.3h3.6m-1.8-1.8v3.6M622.6 131.7h3.6m-1.8-1.8v3.6M593.4 136.9h3.6m-1.8-1.8v3.6M599.5 135.9h3.6m-1.8-1.8v3.6M634.3 137.7h3.6m-1.8-1.8v3.6M635.7 138.3h3.6m-1.8-1.8v3.6M577.3 142.4h3.6m-1.8-1.8v3.6M569.8 141.4h3.6m-1.8-1.8v3.6M591.4 141.4h3.6m-1.8-1.8v3.6M594.4 143.4h3.6m-1.8-1.8v3.6M596.4 144.4h3.6m-1.8-1.8v3.6M599.5 141.4h3.6m-1.8-1.8v3.6M603.5 143.0h3.6m-1.8-1.8v3.6M593.7 145.4h3.6m-1.8-1.8v3.6M598.2 146.0h3.6m-1.8-1.8v3.6M620.2 145.4h3.6m-1.8-1.8v3.6M623.6 146.4h3.6m-1.8-1.8v3.6M635.7 145.0h3.6m-1.8-1.8v3.6M577.3 147.0h3.6m-1.8-1.8v3.6M580.7 147.0h3.6m-1.8-1.8v3.6M622.8 131.2h3.6m-1.8-1.8v3.6M634.1 138.2h3.6m-1.8-1.8v3.6M639.5 138.8h3.6m-1.8-1.8v3.6M635.5 145.3h3.6m-1.8-1.8v3.6M620.4 145.9h3.6m-1.8-1.8v3.6M623.4 146.3h3.6m-1.8-1.8v3.6M622.0 152.3h3.6m-1.8-1.8v3.6M622.0 154.8h3.6m-1.8-1.8v3.6M622.0 158.0h3.6m-1.8-1.8v3.6M618.4 156.0h3.6m-1.8-1.8v3.6M656.7 153.3h3.6m-1.8-1.8v3.6M603.2 156.4h3.6m-1.8-1.8v3.6M606.2 156.0h3.6m-1.8-1.8v3.6M609.3 158.0h3.6m-1.8-1.8v3.6M611.3 157.0h3.6m-1.8-1.8v3.6M599.8 121.1h3.6m-1.8-1.8v3.6M600.2 127.1h3.6m-1.8-1.8v3.6M601.2 130.2h3.6m-1.8-1.8v3.6M599.2 135.2h3.6m-1.8-1.8v3.6M602.2 143.3h3.6m-1.8-1.8v3.6M599.2 146.3h3.6m-1.8-1.8v3.6M603.2 150.3h3.6m-1.8-1.8v3.6M375.8 151.3h3.6m-1.8-1.8v3.6M381.9 156.3h3.6m-1.8-1.8v3.6M382.7 157.0h3.6m-1.8-1.8v3.6M378.6 161.3h3.6m-1.8-1.8v3.6M391.9 162.9h3.6m-1.8-1.8v3.6M386.7 167.4h3.6m-1.8-1.8v3.6M413.5 155.3h3.6m-1.8-1.8v3.6M421.6 153.3h3.6m-1.8-1.8v3.6M425.0 149.8h3.6m-1.8-1.8v3.6M427.6 149.8h3.6m-1.8-1.8v3.6M430.7 149.8h3.6m-1.8-1.8v3.6M433.3 150.6h3.6m-1.8-1.8v3.6M435.7 145.8h3.6m-1.8-1.8v3.6M416.9 160.3h3.6m-1.8-1.8v3.6M422.6 159.9h3.6m-1.8-1.8v3.6M430.2 161.3h3.6m-1.8-1.8v3.6M436.7 159.3h3.6m-1.8-1.8v3.6M416.5 163.3h3.6m-1.8-1.8v3.6M426.6 165.4h3.6m-1.8-1.8v3.6M432.7 168.4h3.6m-1.8-1.8v3.6M436.7 167.4h3.6m-1.8-1.8v3.6M440.7 167.4h3.6m-1.8-1.8v3.6M404.4 167.4h3.6m-1.8-1.8v3.6M410.5 167.4h3.6m-1.8-1.8v3.6M398.4 168.4h3.6m-1.8-1.8v3.6M567.6 131.6h3.6m-1.8-1.8v3.6M569.6 133.3h3.6m-1.8-1.8v3.6M581.9 133.3h3.6m-1.8-1.8v3.6M587.7 132.5h3.6m-1.8-1.8v3.6M588.0 134.1h3.6m-1.8-1.8v3.6M593.4 136.6h3.6m-1.8-1.8v3.6M595.9 135.8h3.6m-1.8-1.8v3.6M600.0 134.9h3.6m-1.8-1.8v3.6M564.6 141.5h3.6m-1.8-1.8v3.6M569.6 140.7h3.6m-1.8-1.8v3.6M577.0 141.9h3.6m-1.8-1.8v3.6M592.6 140.7h3.6m-1.8-1.8v3.6M595.9 141.5h3.6m-1.8-1.8v3.6M594.3 144.8h3.6m-1.8-1.8v3.6M597.6 145.7h3.6m-1.8-1.8v3.6M600.0 143.2h3.6m-1.8-1.8v3.6M565.4 146.5h3.6m-1.8-1.8v3.6M568.7 147.3h3.6m-1.8-1.8v3.6M577.8 146.5h3.6m-1.8-1.8v3.6M581.1 146.5h3.6m-1.8-1.8v3.6M564.6 149.8h3.6m-1.8-1.8v3.6M576.2 150.6h3.6m-1.8-1.8v3.6M578.6 151.4h3.6m-1.8-1.8v3.6M583.6 152.2h3.6m-1.8-1.8v3.6M589.3 151.4h3.6m-1.8-1.8v3.6M545.7 146.5h3.6m-1.8-1.8v3.6M544.8 148.1h3.6m-1.8-1.8v3.6M547.3 150.6h3.6m-1.8-1.8v3.6M552.3 154.7h3.6m-1.8-1.8v3.6M558.0 158.8h3.6m-1.8-1.8v3.6M557.2 160.5h3.6m-1.8-1.8v3.6M567.9 154.7h3.6m-1.8-1.8v3.6M569.6 158.0h3.6m-1.8-1.8v3.6M572.9 154.7h3.6m-1.8-1.8v3.6M574.5 156.4h3.6m-1.8-1.8v3.6M579.4 159.7h3.6m-1.8-1.8v3.6M586.0 157.2h3.6m-1.8-1.8v3.6M586.9 159.7h3.6m-1.8-1.8v3.6M586.9 161.3h3.6m-1.8-1.8v3.6M589.3 154.7h3.6m-1.8-1.8v3.6M590.2 157.2h3.6m-1.8-1.8v3.6M569.6 167.9h3.6m-1.8-1.8v3.6M577.8 165.4h3.6m-1.8-1.8v3.6M582.7 167.1h3.6m-1.8-1.8v3.6M587.7 168.7h3.6m-1.8-1.8v3.6M595.9 165.4h3.6m-1.8-1.8v3.6M598.4 164.6h3.6m-1.8-1.8v3.6M601.7 166.2h3.6m-1.8-1.8v3.6M551.4 163.0h3.6m-1.8-1.8v3.6M554.7 160.5h3.6m-1.8-1.8v3.6M602.5 153.0h3.6m-1.8-1.8v3.6M622.9 131.6h3.6m-1.8-1.8v3.6M633.6 138.2h3.6m-1.8-1.8v3.6M638.6 138.2h3.6m-1.8-1.8v3.6M635.3 137.4h3.6m-1.8-1.8v3.6M635.3 145.7h3.6m-1.8-1.8v3.6M619.6 145.7h3.6m-1.8-1.8v3.6M622.9 146.1h3.6m-1.8-1.8v3.6M599.8 135.8h3.6m-1.8-1.8v3.6M599.0 142.4h3.6m-1.8-1.8v3.6M603.1 142.4h3.6m-1.8-1.8v3.6M600.7 145.7h3.6m-1.8-1.8v3.6M603.1 150.6h3.6m-1.8-1.8v3.6M604.0 149.8h3.6m-1.8-1.8v3.6M622.1 152.2h3.6m-1.8-1.8v3.6M622.1 154.7h3.6m-1.8-1.8v3.6M622.1 157.2h3.6m-1.8-1.8v3.6M618.8 156.4h3.6m-1.8-1.8v3.6M603.1 155.5h3.6m-1.8-1.8v3.6M605.6 156.4h3.6m-1.8-1.8v3.6M608.1 154.7h3.6m-1.8-1.8v3.6M610.6 156.0h3.6m-1.8-1.8v3.6M608.1 158.0h3.6m-1.8-1.8v3.6M613.9 160.5h3.6m-1.8-1.8v3.6M616.3 162.1h3.6m-1.8-1.8v3.6M619.6 161.3h3.6m-1.8-1.8v3.6M627.0 163.8h3.6m-1.8-1.8v3.6M626.2 165.4h3.6m-1.8-1.8v3.6M632.8 165.4h3.6m-1.8-1.8v3.6M641.0 167.1h3.6m-1.8-1.8v3.6M650.1 166.2h3.6m-1.8-1.8v3.6M651.7 164.6h3.6m-1.8-1.8v3.6M655.9 153.9h3.6m-1.8-1.8v3.6M654.2 154.7h3.6m-1.8-1.8v3.6M600.7 164.6h3.6m-1.8-1.8v3.6M599.0 167.9h3.6m-1.8-1.8v3.6" stroke="#06068a" stroke-width="0.82" fill="none"/>
<path d="M487.3 49.3h3.6m-1.8-1.8v3.6M514.3 75.0h3.6m-1.8-1.8v3.6M515.2 74.0h3.6m-1.8-1.8v3.6M516.5 72.8h3.6m-1.8-1.8v3.6M518.2 73.9h3.6m-1.8-1.8v3.6M513.2 77.6h3.6m-1.8-1.8v3.6M514.7 76.0h3.6m-1.8-1.8v3.6M548.4 82.5h3.6m-1.8-1.8v3.6M545.6 109.6h3.6m-1.8-1.8v3.6M546.2 108.2h3.6m-1.8-1.8v3.6M459.4 115.4h3.6m-1.8-1.8v3.6M461.7 115.4h3.6m-1.8-1.8v3.6M464.2 115.4h3.6m-1.8-1.8v3.6M467.6 115.4h3.6m-1.8-1.8v3.6M472.9 112.0h3.6m-1.8-1.8v3.6M475.5 116.0h3.6m-1.8-1.8v3.6M483.6 116.0h3.6m-1.8-1.8v3.6M484.6 125.7h3.6m-1.8-1.8v3.6M488.6 125.7h3.6m-1.8-1.8v3.6M492.6 125.7h3.6m-1.8-1.8v3.6M495.7 125.7h3.6m-1.8-1.8v3.6M497.7 124.0h3.6m-1.8-1.8v3.6M502.3 125.4h3.6m-1.8-1.8v3.6M506.5 124.0h3.6m-1.8-1.8v3.6M495.2 123.1h3.6m-1.8-1.8v3.6M495.9 128.1h3.6m-1.8-1.8v3.6M450.3 135.2h3.6m-1.8-1.8v3.6M488.2 135.8h3.6m-1.8-1.8v3.6M506.2 123.6h3.6m-1.8-1.8v3.6M442.2 145.9h3.6m-1.8-1.8v3.6M445.3 145.9h3.6m-1.8-1.8v3.6M452.3 144.3h3.6m-1.8-1.8v3.6M456.3 144.3h3.6m-1.8-1.8v3.6M523.4 133.3h3.6m-1.8-1.8v3.6M510.9 147.0h3.6m-1.8-1.8v3.6M414.5 151.3h3.6m-1.8-1.8v3.6M419.6 150.6h3.6m-1.8-1.8v3.6M441.7 145.8h3.6m-1.8-1.8v3.6M444.2 145.8h3.6m-1.8-1.8v3.6M508.4 162.2h3.6m-1.8-1.8v3.6" stroke="#87c8f5" stroke-width="0.75" fill="none"/>
<path d="M485.3 87.8h3.6m-1.8-1.8v3.6M484.8 89.9h3.6m-1.8-1.8v3.6M484.4 92.1h3.6m-1.8-1.8v3.6M547.4 81.5h3.6m-1.8-1.8v3.6" stroke="#14e014" stroke-width="0.75" fill="none"/>
<path d="M509.2 47.6h3.6m-1.8-1.8v3.6M508.4 56.3h3.6m-1.8-1.8v3.6M510.2 58.0h3.6m-1.8-1.8v3.6M509.2 57.0h3.6m-1.8-1.8v3.6M493.9 62.9h3.6m-1.8-1.8v3.6M496.7 63.5h3.6m-1.8-1.8v3.6M500.0 63.5h3.6m-1.8-1.8v3.6M504.4 64.5h3.6m-1.8-1.8v3.6M518.0 63.4h3.6m-1.8-1.8v3.6M522.0 55.9h3.6m-1.8-1.8v3.6M523.1 58.1h3.6m-1.8-1.8v3.6M526.4 54.6h3.6m-1.8-1.8v3.6M526.8 55.5h3.6m-1.8-1.8v3.6M531.9 49.3h3.6m-1.8-1.8v3.6M531.9 54.1h3.6m-1.8-1.8v3.6M536.7 45.8h3.6m-1.8-1.8v3.6M538.4 47.1h3.6m-1.8-1.8v3.6M542.2 45.8h3.6m-1.8-1.8v3.6M485.0 87.2h3.6m-1.8-1.8v3.6M512.1 88.8h3.6m-1.8-1.8v3.6M520.2 86.0h3.6m-1.8-1.8v3.6M520.1 85.9h3.6m-1.8-1.8v3.6M511.7 88.8h3.6m-1.8-1.8v3.6M512.8 93.2h3.6m-1.8-1.8v3.6M515.0 95.4h3.6m-1.8-1.8v3.6M518.3 93.6h3.6m-1.8-1.8v3.6M515.2 92.0h3.6m-1.8-1.8v3.6M517.2 96.0h3.6m-1.8-1.8v3.6M515.3 95.4h3.6m-1.8-1.8v3.6M547.6 80.2h3.6m-1.8-1.8v3.6M547.8 85.5h3.6m-1.8-1.8v3.6" stroke="#ffa41c" stroke-width="0.75" fill="none"/>
<path d="M378.6,192.8L379.3,131.1L380.0,192.8M457.9,192.8L458.6,143.9L459.3,192.8M484.8,192.8L485.5,152.9L486.2,192.8M550.2,192.8L550.9,128.2L551.6,192.8M602.5,192.8L603.2,177.0L603.9,192.8M645.7,192.8L646.4,67.0L647.1,192.8" stroke="#1010f0" stroke-width="1.1" fill="none"/>
</g>
<line x1="376.8" y1="69.5" x2="660.2" y2="69.5" stroke="#aaa" stroke-width="0.8"/>
<path d="M546.1 30.1l2.4 2.4M548.5 30.1l-2.4 2.4" stroke="#777" stroke-width="0.7"/>
<text x="546" y="27.9" font-size="6.6" text-anchor="middle" fill="#222" font-family="Liberation Sans, sans-serif" stroke="#222" stroke-width="0.18">rs10305420</text>
<path d="M376.4 201.7V6.9H660.4V201.7" fill="none" stroke="#8a8a8a" stroke-width="0.9"/>
<line x1="376.4" y1="201.7" x2="660.4" y2="201.7" stroke="#c4c4c4" stroke-width="1.2"/>
<line x1="373.6" y1="192.7" x2="376.4" y2="192.7" stroke="#444" stroke-width="0.6"/>
<text x="372" y="195.0" font-size="6.6" text-anchor="end" fill="#222" font-family="Liberation Sans, sans-serif" stroke="#222" stroke-width="0.18">0</text>
<line x1="373.6" y1="158.9" x2="376.4" y2="158.9" stroke="#444" stroke-width="0.6"/>
<text x="372" y="161.2" font-size="6.6" text-anchor="end" fill="#222" font-family="Liberation Sans, sans-serif" stroke="#222" stroke-width="0.18">2</text>
<line x1="373.6" y1="125.0" x2="376.4" y2="125.0" stroke="#444" stroke-width="0.6"/>
<text x="372" y="127.3" font-size="6.6" text-anchor="end" fill="#222" font-family="Liberation Sans, sans-serif" stroke="#222" stroke-width="0.18">4</text>
<line x1="373.6" y1="91.2" x2="376.4" y2="91.2" stroke="#444" stroke-width="0.6"/>
<text x="372" y="93.5" font-size="6.6" text-anchor="end" fill="#222" font-family="Liberation Sans, sans-serif" stroke="#222" stroke-width="0.18">6</text>
<line x1="373.6" y1="57.3" x2="376.4" y2="57.3" stroke="#444" stroke-width="0.6"/>
<text x="372" y="59.6" font-size="6.6" text-anchor="end" fill="#222" font-family="Liberation Sans, sans-serif" stroke="#222" stroke-width="0.18">8</text>
<line x1="373.6" y1="23.5" x2="376.4" y2="23.5" stroke="#444" stroke-width="0.6"/>
<text x="372" y="25.8" font-size="6.6" text-anchor="end" fill="#222" font-family="Liberation Sans, sans-serif" stroke="#222" stroke-width="0.18">10</text>
<line x1="660.4" y1="193.0" x2="663.2" y2="193.0" stroke="#444" stroke-width="0.6"/>
<text x="664.8" y="195.3" font-size="6.6" fill="#222" font-family="Liberation Sans, sans-serif" stroke="#222" stroke-width="0.18">0</text>
<line x1="660.4" y1="157.4" x2="663.2" y2="157.4" stroke="#444" stroke-width="0.6"/>
<text x="664.8" y="159.7" font-size="6.6" fill="#222" font-family="Liberation Sans, sans-serif" stroke="#222" stroke-width="0.18">20</text>
<line x1="660.4" y1="121.8" x2="663.2" y2="121.8" stroke="#444" stroke-width="0.6"/>
<text x="664.8" y="124.1" font-size="6.6" fill="#222" font-family="Liberation Sans, sans-serif" stroke="#222" stroke-width="0.18">40</text>
<line x1="660.4" y1="86.2" x2="663.2" y2="86.2" stroke="#444" stroke-width="0.6"/>
<text x="664.8" y="88.5" font-size="6.6" fill="#222" font-family="Liberation Sans, sans-serif" stroke="#222" stroke-width="0.18">60</text>
<line x1="660.4" y1="50.6" x2="663.2" y2="50.6" stroke="#444" stroke-width="0.6"/>
<text x="664.8" y="52.9" font-size="6.6" fill="#222" font-family="Liberation Sans, sans-serif" stroke="#222" stroke-width="0.18">80</text>
<line x1="660.4" y1="15.0" x2="663.2" y2="15.0" stroke="#444" stroke-width="0.6"/>
<text x="664.8" y="17.3" font-size="6.6" fill="#222" font-family="Liberation Sans, sans-serif" stroke="#222" stroke-width="0.18">100</text>
<text transform="translate(358.5,105) rotate(-90)" font-size="6.6" text-anchor="middle" fill="#222" font-family="Liberation Sans, sans-serif" stroke="#222" stroke-width="0.18">−log<tspan font-size="3.8" dy="1.3">10</tspan><tspan dy="-1.3">[</tspan><tspan font-style="italic">P</tspan>]</text>
<text transform="translate(678.2,60) rotate(90)" font-size="6.6" fill="#222" font-family="Liberation Sans, sans-serif" stroke="#222" stroke-width="0.18">Recombination rate (cM Mb<tspan font-size="4.5" dy="-2.5">−1</tspan><tspan dy="2.5">)</tspan></text>
<rect x="382.1" y="17.7" width="4.8" height="8" fill="#ee1111"/>
<rect x="382.1" y="25.7" width="4.8" height="8" fill="#ffa41c"/>
<rect x="382.1" y="33.7" width="4.8" height="8" fill="#14e014"/>
<rect x="382.1" y="41.7" width="4.8" height="8" fill="#87c8f5"/>
<rect x="382.1" y="49.7" width="4.8" height="8" fill="#0a0a78"/>
<rect x="382.1" y="17.7" width="4.8" height="40" fill="none" stroke="#777" stroke-width="0.4"/>
<line x1="386.9" y1="25.7" x2="389.3" y2="25.7" stroke="#555" stroke-width="0.5"/>
<text x="392.2" y="28.0" font-size="6.6" fill="#222" font-family="Liberation Sans, sans-serif" stroke="#222" stroke-width="0.18">0.8</text>
<line x1="386.9" y1="33.7" x2="389.3" y2="33.7" stroke="#555" stroke-width="0.5"/>
<text x="392.2" y="36.0" font-size="6.6" fill="#222" font-family="Liberation Sans, sans-serif" stroke="#222" stroke-width="0.18">0.6</text>
<line x1="386.9" y1="41.7" x2="389.3" y2="41.7" stroke="#555" stroke-width="0.5"/>
<text x="392.2" y="44.0" font-size="6.6" fill="#222" font-family="Liberation Sans, sans-serif" stroke="#222" stroke-width="0.18">0.4</text>
<line x1="386.9" y1="49.7" x2="389.3" y2="49.7" stroke="#555" stroke-width="0.5"/>
<text x="392.2" y="52.0" font-size="6.6" fill="#222" font-family="Liberation Sans, sans-serif" stroke="#222" stroke-width="0.18">0.2</text>
<text x="387.2" y="15.6" font-size="6.6" font-style="italic" fill="#222" font-family="Liberation Sans, sans-serif" stroke="#222" stroke-width="0.18">r<tspan font-size="4" dy="-3.2">2</tspan></text>
<rect x="376.6" y="204.3" width="283.6" height="13.3" fill="none" stroke="#8a8a8a" stroke-width="0.9"/>
<text x="566" y="211.3" font-size="6.6" text-anchor="end" font-family="Liberation Sans, sans-serif" stroke="#1a1a1a" stroke-width="0.18">Credible set (42 sites, 102.987 kb)</text>
<line x1="489" y1="214.2" x2="547.8" y2="214.2" stroke="#ee1111" stroke-width="0.8"/>
<path d="M489.1 214.2h0.3M495.2 214.2h0.3M496.6 214.2h0.3M497.5 214.2h0.3M498.7 214.2h0.3M500.4 214.2h0.3M502.0 214.2h0.3M505.9 214.2h0.3M508.0 214.2h0.3M509.2 214.2h0.3M510.4 214.2h0.3M511.5 214.2h0.3M512.7 214.2h0.3M513.9 214.2h0.3M515.0 214.2h0.3M516.2 214.2h0.3M517.4 214.2h0.3M519.1 214.2h0.3M520.9 214.2h0.3M523.8 214.2h0.3M525.0 214.2h0.3M526.1 214.2h0.3M527.9 214.2h0.3M529.1 214.2h0.3M533.7 214.2h0.3M537.2 214.2h0.3M538.4 214.2h0.3M540.2 214.2h0.3M541.9 214.2h0.3M543.7 214.2h0.3M544.8 214.2h0.3M547.2 214.2h0.3M547.8 214.2h0.3" stroke="#ee1111" stroke-width="2.2" stroke-linecap="round"/>
<rect x="376.6" y="219.5" width="283.6" height="19.8" fill="none" stroke="#8a8a8a" stroke-width="0.9"/>
<line x1="377" y1="226.5" x2="537.5" y2="226.5" stroke="#1b1b8f" stroke-width="0.8"/>
<path d="M378.3 226.5h0.2M381.3 226.5h0.2M384.8 226.5h0.2M390.0 226.5h0.2M393.5 226.5h0.2M394.7 226.5h0.2M395.9 226.5h0.2M397.6 226.5h0.2M399.4 226.5h0.2M401.1 226.5h0.2M408.7 226.5h0.2M410.5 226.5h0.2M414.6 226.5h0.2M415.1 226.5h0.2M419.8 226.5h0.2M421.6 226.5h0.2M423.3 226.5h0.2M425.1 226.5h0.2M427.4 226.5h0.2M429.2 226.5h0.2M430.9 226.5h0.2M432.1 226.5h0.2M434.4 226.5h0.2M435.6 226.5h0.2M436.8 226.5h0.2M439.7 226.5h0.2M441.4 226.5h0.2M443.2 226.5h0.2M444.9 226.5h0.2M446.7 226.5h0.2M448.4 226.5h0.2M449.6 226.5h0.2M453.7 226.5h0.2M481.2 226.5h0.2M482.3 226.5h0.2M483.5 226.5h0.2M484.7 226.5h0.2M485.3 226.5h0.2M489.3 226.5h0.2M491.1 226.5h0.2M492.3 226.5h0.2M503.4 226.5h0.2M504.5 226.5h0.2M505.1 226.5h0.2M509.8 226.5h0.2M511.0 226.5h0.2M514.5 226.5h0.2M524.4 226.5h0.2M526.1 226.5h0.2M527.3 226.5h0.2M534.3 226.5h0.2M537.2 226.5h0.2M458.0 226.5h0.2M462.0 226.5h0.2M466.0 226.5h0.2M470.0 226.5h0.2M474.0 226.5h0.2M477.0 226.5h0.2" stroke="#1b1b8f" stroke-width="1.7" stroke-linecap="round"/>
<text x="442.3" y="224.1" font-size="6.1" text-anchor="middle" font-style="italic" fill="#1b1b8f" stroke="#1b1b8f" stroke-width="0.12" font-family="Liberation Sans, sans-serif">DNAH8</text>
<path d="M453.6 222.3h3.6M453.4 222.3l2-1.3v2.6z" stroke="#222" stroke-width="0.6" fill="#222"/>
<line x1="547.3" y1="226.5" x2="571.2" y2="226.5" stroke="#1b1b8f" stroke-width="0.8"/>
<path d="M547.5 226.5h0.2M548.5 226.5h0.2M553.0 226.5h0.2M557.0 226.5h0.2M560.0 226.5h0.2M563.0 226.5h0.2M566.0 226.5h0.2M567.0 226.5h0.2M568.0 226.5h0.2M569.0 226.5h0.2M570.0 226.5h0.2M570.8 226.5h0.2" stroke="#1b1b8f" stroke-width="1.7" stroke-linecap="round"/>
<text x="554.5" y="224.3" font-size="6.0" text-anchor="middle" font-style="italic" fill="#1b1b8f" stroke="#1b1b8f" stroke-width="0.12" font-family="Liberation Sans, sans-serif">GLP1R</text>
<path d="M565.6 222.3h3.6M569.9 222.3l-2-1.3v2.6z" stroke="#222" stroke-width="0.6" fill="#222"/>
<line x1="578.6" y1="236.5" x2="585" y2="236.5" stroke="#1b1b8f" stroke-width="0.8"/>
<path d="M578.8 236.5h0.3M584.6 236.5h0.3" stroke="#1b1b8f" stroke-width="1.7" stroke-linecap="round"/>
<text x="587.6" y="234.5" font-size="5.8" text-anchor="middle" font-style="italic" fill="#1b1b8f" stroke="#1b1b8f" stroke-width="0.12" font-family="Liberation Sans, sans-serif">SAYSD1</text>
<path d="M571.2 232.3h3.4M571 232.3l2-1.3v2.6z" stroke="#222" stroke-width="0.6" fill="#222"/>
<line x1="626.6" y1="226.5" x2="649.4" y2="226.5" stroke="#1b1b8f" stroke-width="0.8"/>
<path d="M626.8 226.5h1.2M629.3 226.5h0.4M649 226.5h0.3" stroke="#1b1b8f" stroke-width="1.7" stroke-linecap="round"/>
<text x="643.2" y="224.6" font-size="6.0" text-anchor="middle" font-style="italic" fill="#1b1b8f" stroke="#1b1b8f" stroke-width="0.12" font-family="Liberation Sans, sans-serif">KCNK5</text>
<path d="M628.2 222.4h3.4M628 222.4l2-1.3v2.6z" stroke="#222" stroke-width="0.6" fill="#222"/>
<line x1="406.5" y1="239.3" x2="406.5" y2="241.8" stroke="#444" stroke-width="0.6"/>
<text x="406.5" y="250" font-size="6.6" text-anchor="middle" fill="#222" font-family="Liberation Sans, sans-serif" stroke="#222" stroke-width="0.18">38.8</text>
<line x1="463.0" y1="239.3" x2="463.0" y2="241.8" stroke="#444" stroke-width="0.6"/>
<text x="463.0" y="250" font-size="6.6" text-anchor="middle" fill="#222" font-family="Liberation Sans, sans-serif" stroke="#222" stroke-width="0.18">38.9</text>
<line x1="519.5" y1="239.3" x2="519.5" y2="241.8" stroke="#444" stroke-width="0.6"/>
<text x="519.5" y="250" font-size="6.6" text-anchor="middle" fill="#222" font-family="Liberation Sans, sans-serif" stroke="#222" stroke-width="0.18">39</text>
<line x1="576.0" y1="239.3" x2="576.0" y2="241.8" stroke="#444" stroke-width="0.6"/>
<text x="576.0" y="250" font-size="6.6" text-anchor="middle" fill="#222" font-family="Liberation Sans, sans-serif" stroke="#222" stroke-width="0.18">39.1</text>
<line x1="632.5" y1="239.3" x2="632.5" y2="241.8" stroke="#444" stroke-width="0.6"/>
<text x="632.5" y="250" font-size="6.6" text-anchor="middle" fill="#222" font-family="Liberation Sans, sans-serif" stroke="#222" stroke-width="0.18">39.2</text>
<text x="518.3" y="260.5" font-size="6.6" text-anchor="middle" fill="#222" font-family="Liberation Sans, sans-serif" stroke="#222" stroke-width="0.18">Position on chr. 6 (Mb)</text>
<text x="353.5" y="7.7" font-size="11.5" font-weight="bold" stroke="#000" stroke-width="0.45" fill="#000" font-family="Liberation Sans, sans-serif">b</text>
<text x="-0.5" y="172.8" font-size="11.5" font-weight="bold" stroke="#000" stroke-width="0.45" fill="#000" font-family="Liberation Sans, sans-serif">c</text>
<text transform="translate(7.3,213.7) rotate(-90)" font-size="6.6" text-anchor="middle" fill="#222" font-family="Liberation Sans, sans-serif" stroke="#222" stroke-width="0.18">Population</text>
<line x1="212.5" y1="176.5" x2="212.5" y2="250" stroke="#666" stroke-width="0.6" stroke-dasharray="2,1.5"/>
<text x="62.8" y="185.6" font-size="6.6" text-anchor="end" fill="#222" font-family="Liberation Sans, sans-serif" stroke="#222" stroke-width="0.18">African American</text>
<line x1="65.3" y1="183.3" x2="67.3" y2="183.3" stroke="#333" stroke-width="0.6"/>
<line x1="181.7" y1="183.3" x2="217.5" y2="183.3" stroke="#222" stroke-width="0.8"/>
<circle cx="199.6" cy="183.3" r="2.25" fill="#000"/>
<text x="248.6" y="185.6" font-size="6.75" fill="#222" font-family="Liberation Sans, sans-serif" stroke="#222" stroke-width="0.18">1.5 × 10<tspan font-size="3.9" dy="-3">−1</tspan></text>
<text x="284" y="185.6" font-size="6.75" fill="#222" font-family="Liberation Sans, sans-serif" stroke="#222" stroke-width="0.18">−0.88</text>
<text x="308.8" y="185.6" font-size="6.75" fill="#222" font-family="Liberation Sans, sans-serif" stroke="#222" stroke-width="0.18">[−2.10, 0.34]</text>
<text x="62.8" y="195.8" font-size="6.6" text-anchor="end" fill="#222" font-family="Liberation Sans, sans-serif" stroke="#222" stroke-width="0.18">East Asian</text>
<line x1="65.3" y1="193.5" x2="67.3" y2="193.5" stroke="#333" stroke-width="0.6"/>
<line x1="140.6" y1="193.5" x2="236.4" y2="193.5" stroke="#222" stroke-width="0.8"/>
<circle cx="188.5" cy="193.5" r="2.25" fill="#000"/>
<text x="248.6" y="195.8" font-size="6.75" fill="#222" font-family="Liberation Sans, sans-serif" stroke="#222" stroke-width="0.18">2.7 × 10<tspan font-size="3.9" dy="-3">−1</tspan></text>
<text x="284" y="195.8" font-size="6.75" fill="#222" font-family="Liberation Sans, sans-serif" stroke="#222" stroke-width="0.18">−1.64</text>
<text x="308.8" y="195.8" font-size="6.75" fill="#222" font-family="Liberation Sans, sans-serif" stroke="#222" stroke-width="0.18">[−4.91, 1.63]</text>
<text x="62.8" y="206.0" font-size="6.6" text-anchor="end" fill="#222" font-family="Liberation Sans, sans-serif" stroke="#222" stroke-width="0.18">European</text>
<line x1="65.3" y1="203.7" x2="67.3" y2="203.7" stroke="#333" stroke-width="0.6"/>
<line x1="200.2" y1="203.7" x2="206.1" y2="203.7" stroke="#222" stroke-width="0.8"/>
<circle cx="203.1" cy="203.7" r="2.25" fill="#000"/>
<text x="248.6" y="206.0" font-size="6.75" fill="#222" font-family="Liberation Sans, sans-serif" stroke="#222" stroke-width="0.18">2.5 × 10<tspan font-size="3.9" dy="-3">−10</tspan></text>
<text x="284" y="206.0" font-size="6.75" fill="#222" font-family="Liberation Sans, sans-serif" stroke="#222" stroke-width="0.18">−0.64</text>
<text x="308.8" y="206.0" font-size="6.75" fill="#222" font-family="Liberation Sans, sans-serif" stroke="#222" stroke-width="0.18">[−0.84, −0.44]</text>
<text x="62.8" y="216.2" font-size="6.6" text-anchor="end" fill="#222" font-family="Liberation Sans, sans-serif" stroke="#222" stroke-width="0.18">Latino</text>
<line x1="65.3" y1="213.9" x2="67.3" y2="213.9" stroke="#333" stroke-width="0.6"/>
<line x1="195.7" y1="213.9" x2="210.2" y2="213.9" stroke="#222" stroke-width="0.8"/>
<circle cx="202.3" cy="213.9" r="2.25" fill="#000"/>
<text x="248.6" y="216.2" font-size="6.75" fill="#222" font-family="Liberation Sans, sans-serif" stroke="#222" stroke-width="0.18">9.3 × 10<tspan font-size="3.9" dy="-3">−3</tspan></text>
<text x="284" y="216.2" font-size="6.75" fill="#222" font-family="Liberation Sans, sans-serif" stroke="#222" stroke-width="0.18">−0.65</text>
<text x="308.8" y="216.2" font-size="6.75" fill="#222" font-family="Liberation Sans, sans-serif" stroke="#222" stroke-width="0.18">[−1.15, −0.16]</text>
<text x="62.8" y="226.4" font-size="6.6" text-anchor="end" fill="#222" font-family="Liberation Sans, sans-serif" stroke="#222" stroke-width="0.18">Middle Eastern</text>
<line x1="65.3" y1="224.1" x2="67.3" y2="224.1" stroke="#333" stroke-width="0.6"/>
<line x1="165.0" y1="224.1" x2="230.7" y2="224.1" stroke="#222" stroke-width="0.8"/>
<circle cx="197.3" cy="224.1" r="2.25" fill="#000"/>
<text x="248.6" y="226.4" font-size="6.75" fill="#222" font-family="Liberation Sans, sans-serif" stroke="#222" stroke-width="0.18">3.1 × 10<tspan font-size="3.9" dy="-3">−1</tspan></text>
<text x="284" y="226.4" font-size="6.75" fill="#222" font-family="Liberation Sans, sans-serif" stroke="#222" stroke-width="0.18">−1.00</text>
<text x="308.8" y="226.4" font-size="6.75" fill="#222" font-family="Liberation Sans, sans-serif" stroke="#222" stroke-width="0.18">[−3.24, 1.24]</text>
<text x="62.8" y="236.6" font-size="6.6" text-anchor="end" fill="#222" font-family="Liberation Sans, sans-serif" stroke="#222" stroke-width="0.18">South Asian</text>
<line x1="65.3" y1="234.3" x2="67.3" y2="234.3" stroke="#333" stroke-width="0.6"/>
<line x1="77.6" y1="234.3" x2="227.6" y2="234.3" stroke="#222" stroke-width="0.8"/>
<circle cx="151.3" cy="234.3" r="2.25" fill="#000"/>
<text x="248.6" y="236.6" font-size="6.75" fill="#222" font-family="Liberation Sans, sans-serif" stroke="#222" stroke-width="0.18">3.1 × 10<tspan font-size="3.9" dy="-3">−2</tspan></text>
<text x="284" y="236.6" font-size="6.75" fill="#222" font-family="Liberation Sans, sans-serif" stroke="#222" stroke-width="0.18">−4.09</text>
<text x="308.8" y="236.6" font-size="6.75" fill="#222" font-family="Liberation Sans, sans-serif" stroke="#222" stroke-width="0.18">[−9.21, 1.03]</text>
<text x="62.8" y="247.1" font-size="6.6" text-anchor="end" fill="#222" font-family="Liberation Sans, sans-serif" stroke="#222" stroke-width="0.18">Fixed effect</text>
<text x="63.2" y="255.5" font-size="6.6" text-anchor="end" fill="#222" font-family="Liberation Sans, sans-serif" stroke="#222" stroke-width="0.18">meta-analysis</text>
<line x1="65.3" y1="244.5" x2="67.3" y2="244.5" stroke="#333" stroke-width="0.6"/>
<line x1="200.2" y1="244.5" x2="205.5" y2="244.5" stroke="#222" stroke-width="0.8"/>
<circle cx="202.8" cy="244.5" r="2.25" fill="#000"/>
<text x="248.6" y="246.8" font-size="6.75" fill="#222" font-family="Liberation Sans, sans-serif" stroke="#222" stroke-width="0.18">1.1 × 10<tspan font-size="3.9" dy="-3">−12</tspan></text>
<text x="284" y="246.8" font-size="6.75" fill="#222" font-family="Liberation Sans, sans-serif" stroke="#222" stroke-width="0.18">−0.66</text>
<text x="308.8" y="246.8" font-size="6.75" fill="#222" font-family="Liberation Sans, sans-serif" stroke="#222" stroke-width="0.18">[−0.84, −0.48]</text>
<text x="249.1" y="175.2" font-size="6.6" fill="#222" font-family="Liberation Sans, sans-serif" stroke="#222" stroke-width="0.18"><tspan font-style="italic">P</tspan> value</text>
<text x="284" y="175.2" font-size="6.6" fill="#222" font-family="Liberation Sans, sans-serif" stroke="#222" stroke-width="0.18">Effect</text>
<text x="329" y="175.2" font-size="6.6" text-anchor="middle" fill="#222" font-family="Liberation Sans, sans-serif" stroke="#222" stroke-width="0.18">95% CI</text>
<path d="M67.3 177.5V250.3H244.6" stroke="#333" stroke-width="0.7" fill="none"/>
<line x1="102.6" y1="250.3" x2="102.6" y2="252.3" stroke="#333" stroke-width="0.6"/>
<text x="101.4" y="259.6" font-size="6.6" text-anchor="middle" fill="#222" font-family="Liberation Sans, sans-serif" stroke="#222" stroke-width="0.18">−7.5</text>
<line x1="139.2" y1="250.3" x2="139.2" y2="252.3" stroke="#333" stroke-width="0.6"/>
<text x="138.1" y="259.6" font-size="6.6" text-anchor="middle" fill="#222" font-family="Liberation Sans, sans-serif" stroke="#222" stroke-width="0.18">−5.0</text>
<line x1="175.9" y1="250.3" x2="175.9" y2="252.3" stroke="#333" stroke-width="0.6"/>
<text x="174.7" y="259.6" font-size="6.6" text-anchor="middle" fill="#222" font-family="Liberation Sans, sans-serif" stroke="#222" stroke-width="0.18">−2.5</text>
<line x1="212.5" y1="250.3" x2="212.5" y2="252.3" stroke="#333" stroke-width="0.6"/>
<text x="212.5" y="259.6" font-size="6.6" text-anchor="middle" fill="#222" font-family="Liberation Sans, sans-serif" stroke="#222" stroke-width="0.18">0</text>
<text x="106.7" y="269.6" font-size="6.7" fill="#222" font-family="Liberation Sans, sans-serif" stroke="#222" stroke-width="0.18">rs10305420 effect size in ΔBMI<tspan font-size="4.5" dy="1.8">%</tspan></text></g>
</svg></body></html>
